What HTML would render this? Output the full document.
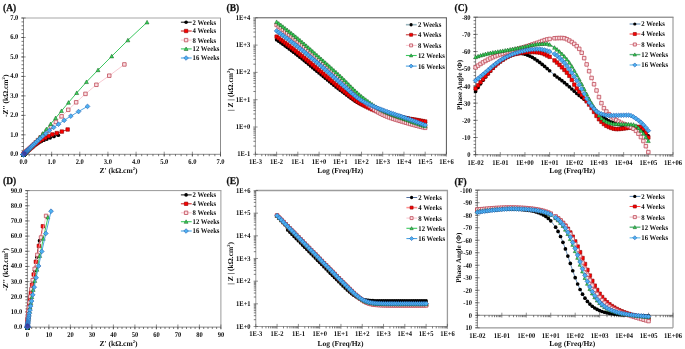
<!DOCTYPE html>
<html lang="en">
<head>
<meta charset="utf-8">
<title>EIS Nyquist and Bode plots</title>
<style>
html,body{margin:0;padding:0;background:#fff;}
body{width:685px;height:349px;overflow:hidden;}
svg{display:block;}
text{text-rendering:geometricPrecision;}
</style>
</head>
<body>
<svg width="685" height="349" viewBox="0 0 685 349" font-family='"Liberation Serif", "DejaVu Serif", serif' font-weight="bold" font-size="100" fill="#111">
<!-- panel A -->
<path d="M23.5 18H221" stroke="#c4c4c4" stroke-width="1.6"/>
<path d="M220.5 18V154.3" stroke="#8c8c8c" stroke-width="1"/>
<path d="M23.5 18V154.3M23.5 154.3H220.5" stroke="#3a3a3a" stroke-width="0.6" fill="none"/>
<path d="M23.5 151.7V156.6M51.64 151.7V156.6M79.79 151.7V156.6M107.93 151.7V156.6M136.07 151.7V156.6M164.21 151.7V156.6M192.36 151.7V156.6M220.5 151.7V156.6M21.3 154.3H25.7M21.3 134.83H25.7M21.3 115.36H25.7M21.3 95.89H25.7M21.3 76.41H25.7M21.3 56.94H25.7M21.3 37.47H25.7M21.3 18H25.7" stroke="#4a4a4a" stroke-width="0.6" fill="none"/>
<path d="M23.5 154.3V156.2M29.13 154.3V156.2M34.76 154.3V156.2M40.39 154.3V156.2M46.01 154.3V156.2M51.64 154.3V156.2M57.27 154.3V156.2M62.9 154.3V156.2M68.53 154.3V156.2M74.16 154.3V156.2M79.79 154.3V156.2M85.41 154.3V156.2M91.04 154.3V156.2M96.67 154.3V156.2M102.3 154.3V156.2M107.93 154.3V156.2M113.56 154.3V156.2M119.19 154.3V156.2M124.81 154.3V156.2M130.44 154.3V156.2M136.07 154.3V156.2M141.7 154.3V156.2M147.33 154.3V156.2M152.96 154.3V156.2M158.59 154.3V156.2M164.21 154.3V156.2M169.84 154.3V156.2M175.47 154.3V156.2M181.1 154.3V156.2M186.73 154.3V156.2M192.36 154.3V156.2M197.99 154.3V156.2M203.61 154.3V156.2M209.24 154.3V156.2M214.87 154.3V156.2M220.5 154.3V156.2M21.5 154.3H23.5M21.5 150.41H23.5M21.5 146.51H23.5M21.5 142.62H23.5M21.5 138.72H23.5M21.5 134.83H23.5M21.5 130.93H23.5M21.5 127.04H23.5M21.5 123.15H23.5M21.5 119.25H23.5M21.5 115.36H23.5M21.5 111.46H23.5M21.5 107.57H23.5M21.5 103.67H23.5M21.5 99.78H23.5M21.5 95.89H23.5M21.5 91.99H23.5M21.5 88.1H23.5M21.5 84.2H23.5M21.5 80.31H23.5M21.5 76.41H23.5M21.5 72.52H23.5M21.5 68.63H23.5M21.5 64.73H23.5M21.5 60.84H23.5M21.5 56.94H23.5M21.5 53.05H23.5M21.5 49.15H23.5M21.5 45.26H23.5M21.5 41.37H23.5M21.5 37.47H23.5M21.5 33.58H23.5M21.5 29.68H23.5M21.5 25.79H23.5M21.5 21.89H23.5M21.5 18H23.5" stroke="#222" stroke-width="0.6" fill="none"/>
<text transform="translate(23.5 164.1) scale(0.065 0.0728)" text-anchor="middle">0.0</text>
<text transform="translate(51.64 164.1) scale(0.065 0.0728)" text-anchor="middle">1.0</text>
<text transform="translate(79.79 164.1) scale(0.065 0.0728)" text-anchor="middle">2.0</text>
<text transform="translate(107.93 164.1) scale(0.065 0.0728)" text-anchor="middle">3.0</text>
<text transform="translate(136.07 164.1) scale(0.065 0.0728)" text-anchor="middle">4.0</text>
<text transform="translate(164.21 164.1) scale(0.065 0.0728)" text-anchor="middle">5.0</text>
<text transform="translate(192.36 164.1) scale(0.065 0.0728)" text-anchor="middle">6.0</text>
<text transform="translate(220.5 164.1) scale(0.065 0.0728)" text-anchor="middle">7.0</text>
<text transform="translate(18.3 156.26) scale(0.065 0.0728)" text-anchor="end">0.0</text>
<text transform="translate(18.3 136.79) scale(0.065 0.0728)" text-anchor="end">1.0</text>
<text transform="translate(18.3 117.32) scale(0.065 0.0728)" text-anchor="end">2.0</text>
<text transform="translate(18.3 97.85) scale(0.065 0.0728)" text-anchor="end">3.0</text>
<text transform="translate(18.3 78.37) scale(0.065 0.0728)" text-anchor="end">4.0</text>
<text transform="translate(18.3 58.9) scale(0.065 0.0728)" text-anchor="end">5.0</text>
<text transform="translate(18.3 39.43) scale(0.065 0.0728)" text-anchor="end">6.0</text>
<text transform="translate(18.3 19.96) scale(0.065 0.0728)" text-anchor="end">7.0</text>
<polyline points="58.31,135.22 53.96,136.45 50.15,137.82 46.82,139.1 43.91,140.24 41.36,141.36 39.12,142.51 37.17,143.69 35.46,144.81 33.97,145.85 32.66,146.78 31.51,147.6 30.51,148.35 29.64,149.03 28.87,149.65 28.2,150.19 27.61,150.68 27.1,151.11 26.65,151.49 26.25,151.82 25.91,152.12 25.61,152.38 25.34,152.61 25.11,152.82 24.91,153 24.74,153.16 24.58,153.3 24.45,153.42 24.33,153.53 24.22,153.63 24.13,153.71 24.05,153.78 23.99,153.85 23.92,153.9 23.87,153.95 23.83,154 23.78,154.03 23.75,154.07 23.72,154.1 23.69,154.12 23.67,154.14 23.65,154.16 23.63,154.18 23.61,154.2 23.6,154.21 23.59,154.22 23.57,154.23 23.57,154.24 23.56,154.25 23.55,154.25 23.54,154.26 23.54,154.26 23.53,154.27 23.53,154.27 23.53,154.28 23.52,154.28 23.52,154.28 23.52,154.28 23.52,154.29 23.51,154.29 23.51,154.29 23.51,154.29 23.51,154.29 23.51,154.29 23.51,154.29 23.51,154.29 23.51,154.3 23.5,154.3 23.5,154.3 23.5,154.3 23.5,154.3" fill="none" stroke="#111111" stroke-width="0.9"/>
<g fill="#000000"><path d="M56.46 135.22a1.85 1.85 0 1 0 3.7 0a1.85 1.85 0 1 0 -3.7 0z"/><path d="M52.11 136.45a1.85 1.85 0 1 0 3.7 0a1.85 1.85 0 1 0 -3.7 0z"/><path d="M48.3 137.82a1.85 1.85 0 1 0 3.7 0a1.85 1.85 0 1 0 -3.7 0z"/><path d="M44.97 139.1a1.85 1.85 0 1 0 3.7 0a1.85 1.85 0 1 0 -3.7 0z"/><path d="M42.05 140.24a1.85 1.85 0 1 0 3.7 0a1.85 1.85 0 1 0 -3.7 0z"/><path d="M39.5 141.36a1.85 1.85 0 1 0 3.7 0a1.85 1.85 0 1 0 -3.7 0z"/><path d="M37.27 142.51a1.85 1.85 0 1 0 3.7 0a1.85 1.85 0 1 0 -3.7 0z"/><path d="M35.32 143.69a1.85 1.85 0 1 0 3.7 0a1.85 1.85 0 1 0 -3.7 0z"/><path d="M33.61 144.81a1.85 1.85 0 1 0 3.7 0a1.85 1.85 0 1 0 -3.7 0z"/><path d="M32.11 145.85a1.85 1.85 0 1 0 3.7 0a1.85 1.85 0 1 0 -3.7 0z"/><path d="M30.81 146.78a1.85 1.85 0 1 0 3.7 0a1.85 1.85 0 1 0 -3.7 0z"/><path d="M29.66 147.6a1.85 1.85 0 1 0 3.7 0a1.85 1.85 0 1 0 -3.7 0z"/><path d="M28.66 148.35a1.85 1.85 0 1 0 3.7 0a1.85 1.85 0 1 0 -3.7 0z"/><path d="M27.78 149.03a1.85 1.85 0 1 0 3.7 0a1.85 1.85 0 1 0 -3.7 0z"/><path d="M27.02 149.65a1.85 1.85 0 1 0 3.7 0a1.85 1.85 0 1 0 -3.7 0z"/><path d="M26.34 150.19a1.85 1.85 0 1 0 3.7 0a1.85 1.85 0 1 0 -3.7 0z"/><path d="M25.76 150.68a1.85 1.85 0 1 0 3.7 0a1.85 1.85 0 1 0 -3.7 0z"/><path d="M25.24 151.11a1.85 1.85 0 1 0 3.7 0a1.85 1.85 0 1 0 -3.7 0z"/><path d="M24.79 151.49a1.85 1.85 0 1 0 3.7 0a1.85 1.85 0 1 0 -3.7 0z"/><path d="M24.4 151.82a1.85 1.85 0 1 0 3.7 0a1.85 1.85 0 1 0 -3.7 0z"/><path d="M24.06 152.12a1.85 1.85 0 1 0 3.7 0a1.85 1.85 0 1 0 -3.7 0z"/><path d="M23.76 152.38a1.85 1.85 0 1 0 3.7 0a1.85 1.85 0 1 0 -3.7 0z"/><path d="M23.49 152.61a1.85 1.85 0 1 0 3.7 0a1.85 1.85 0 1 0 -3.7 0z"/><path d="M23.26 152.82a1.85 1.85 0 1 0 3.7 0a1.85 1.85 0 1 0 -3.7 0z"/><path d="M23.06 153a1.85 1.85 0 1 0 3.7 0a1.85 1.85 0 1 0 -3.7 0z"/><path d="M22.88 153.16a1.85 1.85 0 1 0 3.7 0a1.85 1.85 0 1 0 -3.7 0z"/><path d="M22.73 153.3a1.85 1.85 0 1 0 3.7 0a1.85 1.85 0 1 0 -3.7 0z"/><path d="M22.59 153.42a1.85 1.85 0 1 0 3.7 0a1.85 1.85 0 1 0 -3.7 0z"/><path d="M22.48 153.53a1.85 1.85 0 1 0 3.7 0a1.85 1.85 0 1 0 -3.7 0z"/><path d="M22.37 153.63a1.85 1.85 0 1 0 3.7 0a1.85 1.85 0 1 0 -3.7 0z"/><path d="M22.28 153.71a1.85 1.85 0 1 0 3.7 0a1.85 1.85 0 1 0 -3.7 0z"/><path d="M22.2 153.78a1.85 1.85 0 1 0 3.7 0a1.85 1.85 0 1 0 -3.7 0z"/><path d="M22.13 153.85a1.85 1.85 0 1 0 3.7 0a1.85 1.85 0 1 0 -3.7 0z"/><path d="M22.07 153.9a1.85 1.85 0 1 0 3.7 0a1.85 1.85 0 1 0 -3.7 0z"/><path d="M22.02 153.95a1.85 1.85 0 1 0 3.7 0a1.85 1.85 0 1 0 -3.7 0z"/><path d="M21.97 154a1.85 1.85 0 1 0 3.7 0a1.85 1.85 0 1 0 -3.7 0z"/><path d="M21.93 154.03a1.85 1.85 0 1 0 3.7 0a1.85 1.85 0 1 0 -3.7 0z"/><path d="M21.9 154.07a1.85 1.85 0 1 0 3.7 0a1.85 1.85 0 1 0 -3.7 0z"/><path d="M21.87 154.1a1.85 1.85 0 1 0 3.7 0a1.85 1.85 0 1 0 -3.7 0z"/><path d="M21.84 154.12a1.85 1.85 0 1 0 3.7 0a1.85 1.85 0 1 0 -3.7 0z"/><path d="M21.81 154.14a1.85 1.85 0 1 0 3.7 0a1.85 1.85 0 1 0 -3.7 0z"/><path d="M21.79 154.16a1.85 1.85 0 1 0 3.7 0a1.85 1.85 0 1 0 -3.7 0z"/><path d="M21.78 154.18a1.85 1.85 0 1 0 3.7 0a1.85 1.85 0 1 0 -3.7 0z"/><path d="M21.76 154.2a1.85 1.85 0 1 0 3.7 0a1.85 1.85 0 1 0 -3.7 0z"/><path d="M21.75 154.21a1.85 1.85 0 1 0 3.7 0a1.85 1.85 0 1 0 -3.7 0z"/><path d="M21.73 154.22a1.85 1.85 0 1 0 3.7 0a1.85 1.85 0 1 0 -3.7 0z"/><path d="M21.72 154.23a1.85 1.85 0 1 0 3.7 0a1.85 1.85 0 1 0 -3.7 0z"/><path d="M21.71 154.24a1.85 1.85 0 1 0 3.7 0a1.85 1.85 0 1 0 -3.7 0z"/><path d="M21.7 154.25a1.85 1.85 0 1 0 3.7 0a1.85 1.85 0 1 0 -3.7 0z"/><path d="M21.7 154.25a1.85 1.85 0 1 0 3.7 0a1.85 1.85 0 1 0 -3.7 0z"/><path d="M21.69 154.26a1.85 1.85 0 1 0 3.7 0a1.85 1.85 0 1 0 -3.7 0z"/><path d="M21.69 154.26a1.85 1.85 0 1 0 3.7 0a1.85 1.85 0 1 0 -3.7 0z"/><path d="M21.68 154.27a1.85 1.85 0 1 0 3.7 0a1.85 1.85 0 1 0 -3.7 0z"/><path d="M21.68 154.27a1.85 1.85 0 1 0 3.7 0a1.85 1.85 0 1 0 -3.7 0z"/><path d="M21.67 154.28a1.85 1.85 0 1 0 3.7 0a1.85 1.85 0 1 0 -3.7 0z"/><path d="M21.67 154.28a1.85 1.85 0 1 0 3.7 0a1.85 1.85 0 1 0 -3.7 0z"/><path d="M21.67 154.28a1.85 1.85 0 1 0 3.7 0a1.85 1.85 0 1 0 -3.7 0z"/><path d="M21.66 154.28a1.85 1.85 0 1 0 3.7 0a1.85 1.85 0 1 0 -3.7 0z"/><path d="M21.66 154.29a1.85 1.85 0 1 0 3.7 0a1.85 1.85 0 1 0 -3.7 0z"/><path d="M21.66 154.29a1.85 1.85 0 1 0 3.7 0a1.85 1.85 0 1 0 -3.7 0z"/><path d="M21.66 154.29a1.85 1.85 0 1 0 3.7 0a1.85 1.85 0 1 0 -3.7 0z"/><path d="M21.66 154.29a1.85 1.85 0 1 0 3.7 0a1.85 1.85 0 1 0 -3.7 0z"/><path d="M21.66 154.29a1.85 1.85 0 1 0 3.7 0a1.85 1.85 0 1 0 -3.7 0z"/><path d="M21.66 154.29a1.85 1.85 0 1 0 3.7 0a1.85 1.85 0 1 0 -3.7 0z"/><path d="M21.65 154.29a1.85 1.85 0 1 0 3.7 0a1.85 1.85 0 1 0 -3.7 0z"/><path d="M21.65 154.29a1.85 1.85 0 1 0 3.7 0a1.85 1.85 0 1 0 -3.7 0z"/><path d="M21.65 154.3a1.85 1.85 0 1 0 3.7 0a1.85 1.85 0 1 0 -3.7 0z"/><path d="M21.65 154.3a1.85 1.85 0 1 0 3.7 0a1.85 1.85 0 1 0 -3.7 0z"/><path d="M21.65 154.3a1.85 1.85 0 1 0 3.7 0a1.85 1.85 0 1 0 -3.7 0z"/><path d="M21.65 154.3a1.85 1.85 0 1 0 3.7 0a1.85 1.85 0 1 0 -3.7 0z"/><path d="M21.65 154.3a1.85 1.85 0 1 0 3.7 0a1.85 1.85 0 1 0 -3.7 0z"/></g>
<polyline points="67.66,129.49 61.83,131.59 56.77,133.08 52.38,134.42 48.57,136.05 45.26,137.77 42.38,139.44 39.89,140.99 37.73,142.51 35.85,143.95 34.22,145.26 32.8,146.4 31.58,147.39 30.51,148.25 29.59,149 28.78,149.67 28.08,150.26 27.48,150.77 26.95,151.22 26.5,151.61 26.1,151.95 25.76,152.25 25.46,152.52 25.2,152.75 24.98,152.95 24.78,153.13 24.61,153.28 24.47,153.41 24.34,153.53 24.23,153.63 24.13,153.72 24.05,153.8 23.98,153.86 23.91,153.92 23.86,153.97 23.81,154.01 23.77,154.05 23.73,154.08 23.7,154.11 23.68,154.14 23.65,154.16 23.63,154.18 23.62,154.19 23.6,154.21 23.59,154.22 23.58,154.23 23.57,154.24 23.56,154.25 23.55,154.25 23.54,154.26 23.54,154.27 23.53,154.27 23.53,154.27 23.52,154.28 23.52,154.28 23.52,154.28 23.52,154.29 23.51,154.29 23.51,154.29 23.51,154.29 23.51,154.29 23.51,154.29 23.51,154.29 23.51,154.29 23.51,154.3 23.5,154.3 23.5,154.3 23.5,154.3 23.5,154.3 23.5,154.3 23.5,154.3" fill="none" stroke="#c81010" stroke-width="0.9"/>
<g fill="#ff0000" stroke="#8a0000" stroke-width="0.6"><path d="M65.9 127.74h3.51v3.51h-3.51z"/><path d="M60.07 129.84h3.51v3.51h-3.51z"/><path d="M55.01 131.33h3.51v3.51h-3.51z"/><path d="M50.62 132.67h3.51v3.51h-3.51z"/><path d="M46.81 134.29h3.51v3.51h-3.51z"/><path d="M43.5 136.01h3.51v3.51h-3.51z"/><path d="M40.63 137.68h3.51v3.51h-3.51z"/><path d="M38.14 139.23h3.51v3.51h-3.51z"/><path d="M35.97 140.75h3.51v3.51h-3.51z"/><path d="M34.1 142.2h3.51v3.51h-3.51z"/><path d="M32.46 143.5h3.51v3.51h-3.51z"/><path d="M31.05 144.65h3.51v3.51h-3.51z"/><path d="M29.82 145.63h3.51v3.51h-3.51z"/><path d="M28.76 146.49h3.51v3.51h-3.51z"/><path d="M27.83 147.25h3.51v3.51h-3.51z"/><path d="M27.03 147.92h3.51v3.51h-3.51z"/><path d="M26.33 148.5h3.51v3.51h-3.51z"/><path d="M25.72 149.01h3.51v3.51h-3.51z"/><path d="M25.2 149.46h3.51v3.51h-3.51z"/><path d="M24.74 149.85h3.51v3.51h-3.51z"/><path d="M24.35 150.2h3.51v3.51h-3.51z"/><path d="M24 150.5h3.51v3.51h-3.51z"/><path d="M23.71 150.76h3.51v3.51h-3.51z"/><path d="M23.45 151h3.51v3.51h-3.51z"/><path d="M23.22 151.2h3.51v3.51h-3.51z"/><path d="M23.03 151.37h3.51v3.51h-3.51z"/><path d="M22.86 151.53h3.51v3.51h-3.51z"/><path d="M22.71 151.66h3.51v3.51h-3.51z"/><path d="M22.58 151.78h3.51v3.51h-3.51z"/><path d="M22.47 151.88h3.51v3.51h-3.51z"/><path d="M22.38 151.96h3.51v3.51h-3.51z"/><path d="M22.29 152.04h3.51v3.51h-3.51z"/><path d="M22.22 152.11h3.51v3.51h-3.51z"/><path d="M22.16 152.16h3.51v3.51h-3.51z"/><path d="M22.1 152.21h3.51v3.51h-3.51z"/><path d="M22.06 152.26h3.51v3.51h-3.51z"/><path d="M22.02 152.3h3.51v3.51h-3.51z"/><path d="M21.98 152.33h3.51v3.51h-3.51z"/><path d="M21.95 152.36h3.51v3.51h-3.51z"/><path d="M21.92 152.38h3.51v3.51h-3.51z"/><path d="M21.9 152.4h3.51v3.51h-3.51z"/><path d="M21.88 152.42h3.51v3.51h-3.51z"/><path d="M21.86 152.44h3.51v3.51h-3.51z"/><path d="M21.85 152.45h3.51v3.51h-3.51z"/><path d="M21.83 152.46h3.51v3.51h-3.51z"/><path d="M21.82 152.48h3.51v3.51h-3.51z"/><path d="M21.81 152.48h3.51v3.51h-3.51z"/><path d="M21.8 152.49h3.51v3.51h-3.51z"/><path d="M21.79 152.5h3.51v3.51h-3.51z"/><path d="M21.79 152.51h3.51v3.51h-3.51z"/><path d="M21.78 152.51h3.51v3.51h-3.51z"/><path d="M21.78 152.52h3.51v3.51h-3.51z"/><path d="M21.77 152.52h3.51v3.51h-3.51z"/><path d="M21.77 152.52h3.51v3.51h-3.51z"/><path d="M21.77 152.53h3.51v3.51h-3.51z"/><path d="M21.76 152.53h3.51v3.51h-3.51z"/><path d="M21.76 152.53h3.51v3.51h-3.51z"/><path d="M21.76 152.53h3.51v3.51h-3.51z"/><path d="M21.76 152.53h3.51v3.51h-3.51z"/><path d="M21.76 152.54h3.51v3.51h-3.51z"/><path d="M21.75 152.54h3.51v3.51h-3.51z"/><path d="M21.75 152.54h3.51v3.51h-3.51z"/><path d="M21.75 152.54h3.51v3.51h-3.51z"/><path d="M21.75 152.54h3.51v3.51h-3.51z"/><path d="M21.75 152.54h3.51v3.51h-3.51z"/><path d="M21.75 152.54h3.51v3.51h-3.51z"/><path d="M21.75 152.54h3.51v3.51h-3.51z"/><path d="M21.75 152.54h3.51v3.51h-3.51z"/><path d="M21.75 152.54h3.51v3.51h-3.51z"/><path d="M21.75 152.54h3.51v3.51h-3.51z"/><path d="M21.75 152.54h3.51v3.51h-3.51z"/></g>
<polyline points="124.39,64.44 109.26,75.7 96.39,84.78 85.46,93.88 76.17,102.3 68.27,109.81 61.55,116.35 55.84,121.95 50.99,126.71 46.87,130.88 43.36,134.5 40.38,137.56 37.85,140.14 35.7,142.34 33.87,144.2 32.31,145.75 30.99,147.06 29.87,148.15 28.91,149.07 28.1,149.85 27.41,150.52 26.82,151.08 26.33,151.56 25.9,151.97 25.54,152.32 25.24,152.62 24.97,152.87 24.75,153.09 24.57,153.27 24.41,153.42 24.27,153.55 24.15,153.67 24.06,153.76 23.97,153.84 23.9,153.91 23.84,153.97 23.79,154.02 23.75,154.06 23.71,154.1 23.68,154.13 23.65,154.15 23.63,154.18 23.61,154.19 23.59,154.21 23.58,154.22 23.57,154.23 23.56,154.24 23.55,154.25 23.54,154.26 23.54,154.27 23.53,154.27 23.53,154.28 23.52,154.28 23.52,154.28 23.52,154.28 23.51,154.29 23.51,154.29 23.51,154.29 23.51,154.29 23.51,154.29 23.51,154.29 23.5,154.3 23.5,154.3 23.5,154.3 23.5,154.3 23.5,154.3 23.5,154.3 23.5,154.3 23.5,154.3 23.5,154.3 23.5,154.3" fill="none" stroke="#f6bcc6" stroke-width="0.8"/>
<g fill="#fbe0e4" stroke="#bf4a58" stroke-width="0.8"><path d="M122.64 62.68h3.51v3.51h-3.51z"/><path d="M107.5 73.94h3.51v3.51h-3.51z"/><path d="M94.64 83.03h3.51v3.51h-3.51z"/><path d="M83.71 92.12h3.51v3.51h-3.51z"/><path d="M74.41 100.55h3.51v3.51h-3.51z"/><path d="M66.51 108.06h3.51v3.51h-3.51z"/><path d="M59.8 114.59h3.51v3.51h-3.51z"/><path d="M54.09 120.19h3.51v3.51h-3.51z"/><path d="M49.24 124.95h3.51v3.51h-3.51z"/><path d="M45.11 129.12h3.51v3.51h-3.51z"/><path d="M41.61 132.74h3.51v3.51h-3.51z"/><path d="M38.63 135.8h3.51v3.51h-3.51z"/><path d="M36.1 138.39h3.51v3.51h-3.51z"/><path d="M33.94 140.59h3.51v3.51h-3.51z"/><path d="M32.11 142.44h3.51v3.51h-3.51z"/><path d="M30.56 144h3.51v3.51h-3.51z"/><path d="M29.24 145.3h3.51v3.51h-3.51z"/><path d="M28.11 146.39h3.51v3.51h-3.51z"/><path d="M27.16 147.32h3.51v3.51h-3.51z"/><path d="M26.35 148.1h3.51v3.51h-3.51z"/><path d="M25.66 148.76h3.51v3.51h-3.51z"/><path d="M25.07 149.33h3.51v3.51h-3.51z"/><path d="M24.57 149.81h3.51v3.51h-3.51z"/><path d="M24.15 150.22h3.51v3.51h-3.51z"/><path d="M23.79 150.57h3.51v3.51h-3.51z"/><path d="M23.48 150.86h3.51v3.51h-3.51z"/><path d="M23.22 151.12h3.51v3.51h-3.51z"/><path d="M23 151.33h3.51v3.51h-3.51z"/><path d="M22.81 151.51h3.51v3.51h-3.51z"/><path d="M22.65 151.67h3.51v3.51h-3.51z"/><path d="M22.51 151.8h3.51v3.51h-3.51z"/><path d="M22.4 151.91h3.51v3.51h-3.51z"/><path d="M22.3 152.01h3.51v3.51h-3.51z"/><path d="M22.22 152.09h3.51v3.51h-3.51z"/><path d="M22.15 152.16h3.51v3.51h-3.51z"/><path d="M22.09 152.21h3.51v3.51h-3.51z"/><path d="M22.04 152.26h3.51v3.51h-3.51z"/><path d="M21.99 152.31h3.51v3.51h-3.51z"/><path d="M21.95 152.34h3.51v3.51h-3.51z"/><path d="M21.92 152.37h3.51v3.51h-3.51z"/><path d="M21.9 152.4h3.51v3.51h-3.51z"/><path d="M21.87 152.42h3.51v3.51h-3.51z"/><path d="M21.85 152.44h3.51v3.51h-3.51z"/><path d="M21.84 152.45h3.51v3.51h-3.51z"/><path d="M21.82 152.47h3.51v3.51h-3.51z"/><path d="M21.81 152.48h3.51v3.51h-3.51z"/><path d="M21.8 152.49h3.51v3.51h-3.51z"/><path d="M21.79 152.5h3.51v3.51h-3.51z"/><path d="M21.79 152.5h3.51v3.51h-3.51z"/><path d="M21.78 152.51h3.51v3.51h-3.51z"/><path d="M21.77 152.52h3.51v3.51h-3.51z"/><path d="M21.77 152.52h3.51v3.51h-3.51z"/><path d="M21.77 152.52h3.51v3.51h-3.51z"/><path d="M21.76 152.53h3.51v3.51h-3.51z"/><path d="M21.76 152.53h3.51v3.51h-3.51z"/><path d="M21.76 152.53h3.51v3.51h-3.51z"/><path d="M21.76 152.53h3.51v3.51h-3.51z"/><path d="M21.75 152.54h3.51v3.51h-3.51z"/><path d="M21.75 152.54h3.51v3.51h-3.51z"/><path d="M21.75 152.54h3.51v3.51h-3.51z"/><path d="M21.75 152.54h3.51v3.51h-3.51z"/><path d="M21.75 152.54h3.51v3.51h-3.51z"/><path d="M21.75 152.54h3.51v3.51h-3.51z"/><path d="M21.75 152.54h3.51v3.51h-3.51z"/><path d="M21.75 152.54h3.51v3.51h-3.51z"/><path d="M21.75 152.54h3.51v3.51h-3.51z"/><path d="M21.75 152.54h3.51v3.51h-3.51z"/><path d="M21.75 152.54h3.51v3.51h-3.51z"/><path d="M21.75 152.54h3.51v3.51h-3.51z"/><path d="M21.75 152.54h3.51v3.51h-3.51z"/><path d="M21.75 152.54h3.51v3.51h-3.51z"/></g>
<polyline points="147.05,22.28 127.9,40.21 111.72,56.23 98.04,70.03 86.49,81.92 76.73,92.88 68.48,102.56 61.5,110.91 55.61,118 50.64,123.97 46.43,129.12 42.88,133.45 39.87,136.98 37.33,139.85 35.19,142.22 33.38,144.19 31.85,145.83 30.55,147.21 29.46,148.36 28.54,149.32 27.76,150.12 27.1,150.79 26.54,151.35 26.07,151.82 25.67,152.21 25.33,152.54 25.05,152.82 24.81,153.05 24.61,153.25 24.43,153.41 24.29,153.55 24.17,153.67 24.06,153.76 23.98,153.85 23.9,153.92 23.84,153.98 23.79,154.03 23.74,154.07 23.71,154.11 23.67,154.14 23.65,154.16 23.62,154.18 23.6,154.2 23.59,154.22 23.57,154.23 23.56,154.24 23.55,154.25 23.55,154.26 23.54,154.26 23.53,154.27 23.53,154.27 23.52,154.28 23.52,154.28 23.52,154.28 23.51,154.29 23.51,154.29 23.51,154.29 23.51,154.29 23.51,154.29 23.51,154.29 23.51,154.3 23.5,154.3 23.5,154.3 23.5,154.3 23.5,154.3 23.5,154.3 23.5,154.3 23.5,154.3 23.5,154.3 23.5,154.3 23.5,154.3" fill="none" stroke="#3cc860" stroke-width="1"/>
<g fill="#36d85a" stroke="#17521f" stroke-width="0.5"><path d="M147.05 20.33l1.95 3.61h-3.9z"/><path d="M127.9 38.26l1.95 3.61h-3.9z"/><path d="M111.72 54.28l1.95 3.61h-3.9z"/><path d="M98.04 68.08l1.95 3.61h-3.9z"/><path d="M86.49 79.97l1.95 3.61h-3.9z"/><path d="M76.73 90.93l1.95 3.61h-3.9z"/><path d="M68.48 100.61l1.95 3.61h-3.9z"/><path d="M61.5 108.96l1.95 3.61h-3.9z"/><path d="M55.61 116.05l1.95 3.61h-3.9z"/><path d="M50.64 122.02l1.95 3.61h-3.9z"/><path d="M46.43 127.17l1.95 3.61h-3.9z"/><path d="M42.88 131.5l1.95 3.61h-3.9z"/><path d="M39.87 135.03l1.95 3.61h-3.9z"/><path d="M37.33 137.9l1.95 3.61h-3.9z"/><path d="M35.19 140.27l1.95 3.61h-3.9z"/><path d="M33.38 142.24l1.95 3.61h-3.9z"/><path d="M31.85 143.88l1.95 3.61h-3.9z"/><path d="M30.55 145.26l1.95 3.61h-3.9z"/><path d="M29.46 146.41l1.95 3.61h-3.9z"/><path d="M28.54 147.37l1.95 3.61h-3.9z"/><path d="M27.76 148.17l1.95 3.61h-3.9z"/><path d="M27.1 148.84l1.95 3.61h-3.9z"/><path d="M26.54 149.4l1.95 3.61h-3.9z"/><path d="M26.07 149.87l1.95 3.61h-3.9z"/><path d="M25.67 150.26l1.95 3.61h-3.9z"/><path d="M25.33 150.59l1.95 3.61h-3.9z"/><path d="M25.05 150.87l1.95 3.61h-3.9z"/><path d="M24.81 151.1l1.95 3.61h-3.9z"/><path d="M24.61 151.3l1.95 3.61h-3.9z"/><path d="M24.43 151.46l1.95 3.61h-3.9z"/><path d="M24.29 151.6l1.95 3.61h-3.9z"/><path d="M24.17 151.72l1.95 3.61h-3.9z"/><path d="M24.06 151.81l1.95 3.61h-3.9z"/><path d="M23.98 151.9l1.95 3.61h-3.9z"/><path d="M23.9 151.97l1.95 3.61h-3.9z"/><path d="M23.84 152.03l1.95 3.61h-3.9z"/><path d="M23.79 152.08l1.95 3.61h-3.9z"/><path d="M23.74 152.12l1.95 3.61h-3.9z"/><path d="M23.71 152.16l1.95 3.61h-3.9z"/><path d="M23.67 152.19l1.95 3.61h-3.9z"/><path d="M23.65 152.21l1.95 3.61h-3.9z"/><path d="M23.62 152.23l1.95 3.61h-3.9z"/><path d="M23.6 152.25l1.95 3.61h-3.9z"/><path d="M23.59 152.27l1.95 3.61h-3.9z"/><path d="M23.57 152.28l1.95 3.61h-3.9z"/><path d="M23.56 152.29l1.95 3.61h-3.9z"/><path d="M23.55 152.3l1.95 3.61h-3.9z"/><path d="M23.55 152.31l1.95 3.61h-3.9z"/><path d="M23.54 152.31l1.95 3.61h-3.9z"/><path d="M23.53 152.32l1.95 3.61h-3.9z"/><path d="M23.53 152.32l1.95 3.61h-3.9z"/><path d="M23.52 152.33l1.95 3.61h-3.9z"/><path d="M23.52 152.33l1.95 3.61h-3.9z"/><path d="M23.52 152.33l1.95 3.61h-3.9z"/><path d="M23.51 152.34l1.95 3.61h-3.9z"/><path d="M23.51 152.34l1.95 3.61h-3.9z"/><path d="M23.51 152.34l1.95 3.61h-3.9z"/><path d="M23.51 152.34l1.95 3.61h-3.9z"/><path d="M23.51 152.34l1.95 3.61h-3.9z"/><path d="M23.51 152.34l1.95 3.61h-3.9z"/><path d="M23.51 152.35l1.95 3.61h-3.9z"/><path d="M23.5 152.35l1.95 3.61h-3.9z"/><path d="M23.5 152.35l1.95 3.61h-3.9z"/><path d="M23.5 152.35l1.95 3.61h-3.9z"/><path d="M23.5 152.35l1.95 3.61h-3.9z"/><path d="M23.5 152.35l1.95 3.61h-3.9z"/><path d="M23.5 152.35l1.95 3.61h-3.9z"/><path d="M23.5 152.35l1.95 3.61h-3.9z"/><path d="M23.5 152.35l1.95 3.61h-3.9z"/><path d="M23.5 152.35l1.95 3.61h-3.9z"/><path d="M23.5 152.35l1.95 3.61h-3.9z"/></g>
<polyline points="87.5,106.4 78.54,111.53 70.83,116.1 64.21,120.29 58.51,124.18 53.61,127.45 49.39,130.49 45.77,133.5 42.65,136.29 39.97,138.71 37.66,140.8 35.68,142.62 33.97,144.21 32.51,145.59 31.25,146.78 30.16,147.83 29.23,148.73 28.43,149.52 27.74,150.19 27.14,150.77 26.63,151.26 26.2,151.69 25.82,152.05 25.49,152.37 25.21,152.64 24.97,152.87 24.77,153.07 24.59,153.24 24.44,153.39 24.31,153.52 24.19,153.63 24.1,153.72 24.01,153.8 23.94,153.87 23.88,153.93 23.83,153.98 23.78,154.03 23.74,154.07 23.71,154.1 23.68,154.13 23.65,154.15 23.63,154.17 23.61,154.19 23.6,154.21 23.58,154.22 23.57,154.23 23.56,154.24 23.55,154.25 23.55,154.26 23.54,154.26 23.53,154.27 23.53,154.27 23.53,154.28 23.52,154.28 23.52,154.28 23.52,154.28 23.51,154.29 23.51,154.29 23.51,154.29 23.51,154.29 23.51,154.29 23.51,154.29 23.51,154.29 23.5,154.3 23.5,154.3 23.5,154.3 23.5,154.3 23.5,154.3 23.5,154.3 23.5,154.3 23.5,154.3" fill="none" stroke="#3a9be0" stroke-width="0.9"/>
<g fill="#4cb1f2" stroke="#2a5fb0" stroke-width="0.6"><path d="M87.5 104.02l2.38 2.38l-2.38 2.38l-2.38 -2.38z"/><path d="M78.54 109.16l2.38 2.38l-2.38 2.38l-2.38 -2.38z"/><path d="M70.83 113.73l2.38 2.38l-2.38 2.38l-2.38 -2.38z"/><path d="M64.21 117.91l2.38 2.38l-2.38 2.38l-2.38 -2.38z"/><path d="M58.51 121.8l2.38 2.38l-2.38 2.38l-2.38 -2.38z"/><path d="M53.61 125.07l2.38 2.38l-2.38 2.38l-2.38 -2.38z"/><path d="M49.39 128.11l2.38 2.38l-2.38 2.38l-2.38 -2.38z"/><path d="M45.77 131.12l2.38 2.38l-2.38 2.38l-2.38 -2.38z"/><path d="M42.65 133.91l2.38 2.38l-2.38 2.38l-2.38 -2.38z"/><path d="M39.97 136.33l2.38 2.38l-2.38 2.38l-2.38 -2.38z"/><path d="M37.66 138.42l2.38 2.38l-2.38 2.38l-2.38 -2.38z"/><path d="M35.68 140.24l2.38 2.38l-2.38 2.38l-2.38 -2.38z"/><path d="M33.97 141.83l2.38 2.38l-2.38 2.38l-2.38 -2.38z"/><path d="M32.51 143.21l2.38 2.38l-2.38 2.38l-2.38 -2.38z"/><path d="M31.25 144.41l2.38 2.38l-2.38 2.38l-2.38 -2.38z"/><path d="M30.16 145.45l2.38 2.38l-2.38 2.38l-2.38 -2.38z"/><path d="M29.23 146.35l2.38 2.38l-2.38 2.38l-2.38 -2.38z"/><path d="M28.43 147.14l2.38 2.38l-2.38 2.38l-2.38 -2.38z"/><path d="M27.74 147.81l2.38 2.38l-2.38 2.38l-2.38 -2.38z"/><path d="M27.14 148.39l2.38 2.38l-2.38 2.38l-2.38 -2.38z"/><path d="M26.63 148.88l2.38 2.38l-2.38 2.38l-2.38 -2.38z"/><path d="M26.2 149.31l2.38 2.38l-2.38 2.38l-2.38 -2.38z"/><path d="M25.82 149.68l2.38 2.38l-2.38 2.38l-2.38 -2.38z"/><path d="M25.49 149.99l2.38 2.38l-2.38 2.38l-2.38 -2.38z"/><path d="M25.21 150.26l2.38 2.38l-2.38 2.38l-2.38 -2.38z"/><path d="M24.97 150.49l2.38 2.38l-2.38 2.38l-2.38 -2.38z"/><path d="M24.77 150.69l2.38 2.38l-2.38 2.38l-2.38 -2.38z"/><path d="M24.59 150.86l2.38 2.38l-2.38 2.38l-2.38 -2.38z"/><path d="M24.44 151.01l2.38 2.38l-2.38 2.38l-2.38 -2.38z"/><path d="M24.31 151.14l2.38 2.38l-2.38 2.38l-2.38 -2.38z"/><path d="M24.19 151.25l2.38 2.38l-2.38 2.38l-2.38 -2.38z"/><path d="M24.1 151.34l2.38 2.38l-2.38 2.38l-2.38 -2.38z"/><path d="M24.01 151.42l2.38 2.38l-2.38 2.38l-2.38 -2.38z"/><path d="M23.94 151.49l2.38 2.38l-2.38 2.38l-2.38 -2.38z"/><path d="M23.88 151.55l2.38 2.38l-2.38 2.38l-2.38 -2.38z"/><path d="M23.83 151.6l2.38 2.38l-2.38 2.38l-2.38 -2.38z"/><path d="M23.78 151.65l2.38 2.38l-2.38 2.38l-2.38 -2.38z"/><path d="M23.74 151.69l2.38 2.38l-2.38 2.38l-2.38 -2.38z"/><path d="M23.71 151.72l2.38 2.38l-2.38 2.38l-2.38 -2.38z"/><path d="M23.68 151.75l2.38 2.38l-2.38 2.38l-2.38 -2.38z"/><path d="M23.65 151.77l2.38 2.38l-2.38 2.38l-2.38 -2.38z"/><path d="M23.63 151.79l2.38 2.38l-2.38 2.38l-2.38 -2.38z"/><path d="M23.61 151.81l2.38 2.38l-2.38 2.38l-2.38 -2.38z"/><path d="M23.6 151.83l2.38 2.38l-2.38 2.38l-2.38 -2.38z"/><path d="M23.58 151.84l2.38 2.38l-2.38 2.38l-2.38 -2.38z"/><path d="M23.57 151.85l2.38 2.38l-2.38 2.38l-2.38 -2.38z"/><path d="M23.56 151.86l2.38 2.38l-2.38 2.38l-2.38 -2.38z"/><path d="M23.55 151.87l2.38 2.38l-2.38 2.38l-2.38 -2.38z"/><path d="M23.55 151.88l2.38 2.38l-2.38 2.38l-2.38 -2.38z"/><path d="M23.54 151.88l2.38 2.38l-2.38 2.38l-2.38 -2.38z"/><path d="M23.53 151.89l2.38 2.38l-2.38 2.38l-2.38 -2.38z"/><path d="M23.53 151.89l2.38 2.38l-2.38 2.38l-2.38 -2.38z"/><path d="M23.53 151.9l2.38 2.38l-2.38 2.38l-2.38 -2.38z"/><path d="M23.52 151.9l2.38 2.38l-2.38 2.38l-2.38 -2.38z"/><path d="M23.52 151.9l2.38 2.38l-2.38 2.38l-2.38 -2.38z"/><path d="M23.52 151.91l2.38 2.38l-2.38 2.38l-2.38 -2.38z"/><path d="M23.51 151.91l2.38 2.38l-2.38 2.38l-2.38 -2.38z"/><path d="M23.51 151.91l2.38 2.38l-2.38 2.38l-2.38 -2.38z"/><path d="M23.51 151.91l2.38 2.38l-2.38 2.38l-2.38 -2.38z"/><path d="M23.51 151.91l2.38 2.38l-2.38 2.38l-2.38 -2.38z"/><path d="M23.51 151.91l2.38 2.38l-2.38 2.38l-2.38 -2.38z"/><path d="M23.51 151.91l2.38 2.38l-2.38 2.38l-2.38 -2.38z"/><path d="M23.51 151.92l2.38 2.38l-2.38 2.38l-2.38 -2.38z"/><path d="M23.5 151.92l2.38 2.38l-2.38 2.38l-2.38 -2.38z"/><path d="M23.5 151.92l2.38 2.38l-2.38 2.38l-2.38 -2.38z"/><path d="M23.5 151.92l2.38 2.38l-2.38 2.38l-2.38 -2.38z"/><path d="M23.5 151.92l2.38 2.38l-2.38 2.38l-2.38 -2.38z"/><path d="M23.5 151.92l2.38 2.38l-2.38 2.38l-2.38 -2.38z"/><path d="M23.5 151.92l2.38 2.38l-2.38 2.38l-2.38 -2.38z"/><path d="M23.5 151.92l2.38 2.38l-2.38 2.38l-2.38 -2.38z"/><path d="M23.5 151.92l2.38 2.38l-2.38 2.38l-2.38 -2.38z"/></g>
<ellipse cx="24.34" cy="153.72" rx="2.3" ry="2.3" fill="#3b3196" opacity="0.85"/>
<path d="M180.9 22.2H191.7" stroke="#111111" stroke-width="1"/>
<path d="M184.29 22.2a1.8 1.8 0 1 0 3.61 0a1.8 1.8 0 1 0 -3.61 0z" fill="#000000"/>
<text transform="translate(192.6 24.62) scale(0.067 0.0737)">2 Weeks</text>
<path d="M180.9 31H191.7" stroke="#c81010" stroke-width="1"/>
<path d="M184.39 29.29h3.42v3.42h-3.42z" fill="#ff0000" stroke="#8a0000" stroke-width="0.6"/>
<text transform="translate(192.6 33.42) scale(0.067 0.0737)">4 Weeks</text>
<path d="M180.9 40.1H191.7" stroke="#f6bcc6" stroke-width="0.9"/>
<path d="M184.39 38.39h3.42v3.42h-3.42z" fill="#fbe0e4" stroke="#bf4a58" stroke-width="0.8"/>
<text transform="translate(192.6 42.52) scale(0.067 0.0737)">8 Weeks</text>
<path d="M180.9 48.9H191.7" stroke="#3cc860" stroke-width="1.1"/>
<path d="M186.1 47l1.9 3.52h-3.8z" fill="#36d85a" stroke="#17521f" stroke-width="0.5"/>
<text transform="translate(192.6 51.32) scale(0.067 0.0737)">12 Weeks</text>
<path d="M180.9 58H191.7" stroke="#3a9be0" stroke-width="1"/>
<path d="M186.1 55.68l2.32 2.32l-2.32 2.32l-2.32 -2.32z" fill="#4cb1f2" stroke="#2a5fb0" stroke-width="0.6"/>
<text transform="translate(192.6 60.42) scale(0.067 0.0737)">16 Weeks</text>
<text transform="translate(118.5 172.8) scale(0.075 0.075)" text-anchor="middle">Z' (kΩ.cm<tspan dy="-35" font-size="62">2</tspan><tspan dy="35">)</tspan></text>
<text transform="translate(7.7 95.8) rotate(-90) scale(0.075 0.075)" text-anchor="middle">-Z'' (kΩ.cm<tspan dy="-35" font-size="62">2</tspan><tspan dy="35">)</tspan></text>
<text stroke="#111" stroke-width="2.5" transform="translate(3 11.2) scale(0.095 0.1045)">(A)</text>
<!-- panel B -->
<path d="M255.4 17.8H446.9" stroke="#555" stroke-width="1"/>
<path d="M446.4 17.8V154.3" stroke="#555" stroke-width="1"/>
<path d="M255.4 17.8V154.3M255.4 154.3H446.4" stroke="#555" stroke-width="0.6" fill="none"/>
<path d="M255.4 151.7V156.6M276.62 151.7V156.6M297.84 151.7V156.6M319.07 151.7V156.6M340.29 151.7V156.6M361.51 151.7V156.6M382.73 151.7V156.6M403.96 151.7V156.6M425.18 151.7V156.6M446.4 151.7V156.6M253.2 154.3H257.6M253.2 127H257.6M253.2 99.7H257.6M253.2 72.4H257.6M253.2 45.1H257.6M253.2 17.8H257.6" stroke="#4a4a4a" stroke-width="0.6" fill="none"/>
<path d="M261.79 154.3V156.2M265.53 154.3V156.2M268.18 154.3V156.2M270.23 154.3V156.2M271.91 154.3V156.2M273.33 154.3V156.2M274.57 154.3V156.2M275.65 154.3V156.2M283.01 154.3V156.2M286.75 154.3V156.2M289.4 154.3V156.2M291.46 154.3V156.2M293.14 154.3V156.2M294.56 154.3V156.2M295.79 154.3V156.2M296.87 154.3V156.2M304.23 154.3V156.2M307.97 154.3V156.2M310.62 154.3V156.2M312.68 154.3V156.2M314.36 154.3V156.2M315.78 154.3V156.2M317.01 154.3V156.2M318.1 154.3V156.2M325.46 154.3V156.2M329.19 154.3V156.2M331.84 154.3V156.2M333.9 154.3V156.2M335.58 154.3V156.2M337 154.3V156.2M338.23 154.3V156.2M339.32 154.3V156.2M346.68 154.3V156.2M350.41 154.3V156.2M353.07 154.3V156.2M355.12 154.3V156.2M356.8 154.3V156.2M358.22 154.3V156.2M359.45 154.3V156.2M360.54 154.3V156.2M367.9 154.3V156.2M371.64 154.3V156.2M374.29 154.3V156.2M376.34 154.3V156.2M378.03 154.3V156.2M379.45 154.3V156.2M380.68 154.3V156.2M381.76 154.3V156.2M389.12 154.3V156.2M392.86 154.3V156.2M395.51 154.3V156.2M397.57 154.3V156.2M399.25 154.3V156.2M400.67 154.3V156.2M401.9 154.3V156.2M402.98 154.3V156.2M410.34 154.3V156.2M414.08 154.3V156.2M416.73 154.3V156.2M418.79 154.3V156.2M420.47 154.3V156.2M421.89 154.3V156.2M423.12 154.3V156.2M424.21 154.3V156.2M431.57 154.3V156.2M435.3 154.3V156.2M437.95 154.3V156.2M440.01 154.3V156.2M441.69 154.3V156.2M443.11 154.3V156.2M444.34 154.3V156.2M445.43 154.3V156.2M253.4 146.08H255.4M253.4 141.27H255.4M253.4 137.86H255.4M253.4 135.22H255.4M253.4 133.06H255.4M253.4 131.23H255.4M253.4 129.65H255.4M253.4 128.25H255.4M253.4 118.78H255.4M253.4 113.97H255.4M253.4 110.56H255.4M253.4 107.92H255.4M253.4 105.76H255.4M253.4 103.93H255.4M253.4 102.35H255.4M253.4 100.95H255.4M253.4 91.48H255.4M253.4 86.67H255.4M253.4 83.26H255.4M253.4 80.62H255.4M253.4 78.46H255.4M253.4 76.63H255.4M253.4 75.05H255.4M253.4 73.65H255.4M253.4 64.18H255.4M253.4 59.37H255.4M253.4 55.96H255.4M253.4 53.32H255.4M253.4 51.16H255.4M253.4 49.33H255.4M253.4 47.75H255.4M253.4 46.35H255.4M253.4 36.88H255.4M253.4 32.07H255.4M253.4 28.66H255.4M253.4 26.02H255.4M253.4 23.86H255.4M253.4 22.03H255.4M253.4 20.45H255.4M253.4 19.05H255.4" stroke="#222" stroke-width="0.6" fill="none"/>
<text transform="translate(255.4 164.1) scale(0.065 0.0728)" text-anchor="middle">1E-3</text>
<text transform="translate(276.62 164.1) scale(0.065 0.0728)" text-anchor="middle">1E-2</text>
<text transform="translate(297.84 164.1) scale(0.065 0.0728)" text-anchor="middle">1E-1</text>
<text transform="translate(319.07 164.1) scale(0.065 0.0728)" text-anchor="middle">1E+0</text>
<text transform="translate(340.29 164.1) scale(0.065 0.0728)" text-anchor="middle">1E+1</text>
<text transform="translate(361.51 164.1) scale(0.065 0.0728)" text-anchor="middle">1E+2</text>
<text transform="translate(382.73 164.1) scale(0.065 0.0728)" text-anchor="middle">1E+3</text>
<text transform="translate(403.96 164.1) scale(0.065 0.0728)" text-anchor="middle">1E+4</text>
<text transform="translate(425.18 164.1) scale(0.065 0.0728)" text-anchor="middle">1E+5</text>
<text transform="translate(446.4 164.1) scale(0.065 0.0728)" text-anchor="middle">1E+6</text>
<text transform="translate(250.2 156.26) scale(0.065 0.0728)" text-anchor="end">1E-1</text>
<text transform="translate(250.2 128.96) scale(0.065 0.0728)" text-anchor="end">1E+0</text>
<text transform="translate(250.2 101.66) scale(0.065 0.0728)" text-anchor="end">1E+1</text>
<text transform="translate(250.2 74.36) scale(0.065 0.0728)" text-anchor="end">1E+2</text>
<text transform="translate(250.2 47.06) scale(0.065 0.0728)" text-anchor="end">1E+3</text>
<text transform="translate(250.2 19.76) scale(0.065 0.0728)" text-anchor="end">1E+4</text>
<polyline points="276.62,39.64 278.74,41.15 280.87,42.68 282.99,44.22 285.11,45.78 287.23,47.36 289.36,48.95 291.48,50.56 293.6,52.18 295.72,53.82 297.84,55.47 299.97,57.15 302.09,58.86 304.21,60.6 306.33,62.35 308.46,64.12 310.58,65.89 312.7,67.67 314.82,69.44 316.94,71.2 319.07,72.95 321.19,74.69 323.31,76.45 325.43,78.22 327.56,79.99 329.68,81.75 331.8,83.49 333.92,85.21 336.04,86.9 338.17,88.55 340.29,90.15 342.41,91.74 344.53,93.35 346.66,94.97 348.78,96.56 350.9,98.12 353.02,99.62 355.14,101.04 357.27,102.36 359.39,103.56 361.51,104.61 363.63,105.56 365.76,106.44 367.88,107.26 370,108.03 372.12,108.76 374.24,109.45 376.37,110.11 378.49,110.75 380.61,111.37 382.73,111.99 384.86,112.58 386.98,113.14 389.1,113.67 391.22,114.19 393.34,114.69 395.47,115.18 397.59,115.67 399.71,116.16 401.83,116.66 403.96,117.17 406.08,117.69 408.2,118.21 410.32,118.73 412.44,119.25 414.57,119.77 416.69,120.28 418.81,120.8 420.93,121.32 423.06,121.84 425.18,122.36" fill="none" stroke="#9ab6be" stroke-width="1.5"/>
<g fill="#000000"><path d="M274.77 39.64a1.85 1.85 0 1 0 3.7 0a1.85 1.85 0 1 0 -3.7 0z"/><path d="M276.89 41.15a1.85 1.85 0 1 0 3.7 0a1.85 1.85 0 1 0 -3.7 0z"/><path d="M279.01 42.68a1.85 1.85 0 1 0 3.7 0a1.85 1.85 0 1 0 -3.7 0z"/><path d="M281.14 44.22a1.85 1.85 0 1 0 3.7 0a1.85 1.85 0 1 0 -3.7 0z"/><path d="M283.26 45.78a1.85 1.85 0 1 0 3.7 0a1.85 1.85 0 1 0 -3.7 0z"/><path d="M285.38 47.36a1.85 1.85 0 1 0 3.7 0a1.85 1.85 0 1 0 -3.7 0z"/><path d="M287.5 48.95a1.85 1.85 0 1 0 3.7 0a1.85 1.85 0 1 0 -3.7 0z"/><path d="M289.63 50.56a1.85 1.85 0 1 0 3.7 0a1.85 1.85 0 1 0 -3.7 0z"/><path d="M291.75 52.18a1.85 1.85 0 1 0 3.7 0a1.85 1.85 0 1 0 -3.7 0z"/><path d="M293.87 53.82a1.85 1.85 0 1 0 3.7 0a1.85 1.85 0 1 0 -3.7 0z"/><path d="M295.99 55.47a1.85 1.85 0 1 0 3.7 0a1.85 1.85 0 1 0 -3.7 0z"/><path d="M298.11 57.15a1.85 1.85 0 1 0 3.7 0a1.85 1.85 0 1 0 -3.7 0z"/><path d="M300.24 58.86a1.85 1.85 0 1 0 3.7 0a1.85 1.85 0 1 0 -3.7 0z"/><path d="M302.36 60.6a1.85 1.85 0 1 0 3.7 0a1.85 1.85 0 1 0 -3.7 0z"/><path d="M304.48 62.35a1.85 1.85 0 1 0 3.7 0a1.85 1.85 0 1 0 -3.7 0z"/><path d="M306.6 64.12a1.85 1.85 0 1 0 3.7 0a1.85 1.85 0 1 0 -3.7 0z"/><path d="M308.73 65.89a1.85 1.85 0 1 0 3.7 0a1.85 1.85 0 1 0 -3.7 0z"/><path d="M310.85 67.67a1.85 1.85 0 1 0 3.7 0a1.85 1.85 0 1 0 -3.7 0z"/><path d="M312.97 69.44a1.85 1.85 0 1 0 3.7 0a1.85 1.85 0 1 0 -3.7 0z"/><path d="M315.09 71.2a1.85 1.85 0 1 0 3.7 0a1.85 1.85 0 1 0 -3.7 0z"/><path d="M317.21 72.95a1.85 1.85 0 1 0 3.7 0a1.85 1.85 0 1 0 -3.7 0z"/><path d="M319.34 74.69a1.85 1.85 0 1 0 3.7 0a1.85 1.85 0 1 0 -3.7 0z"/><path d="M321.46 76.45a1.85 1.85 0 1 0 3.7 0a1.85 1.85 0 1 0 -3.7 0z"/><path d="M323.58 78.22a1.85 1.85 0 1 0 3.7 0a1.85 1.85 0 1 0 -3.7 0z"/><path d="M325.7 79.99a1.85 1.85 0 1 0 3.7 0a1.85 1.85 0 1 0 -3.7 0z"/><path d="M327.83 81.75a1.85 1.85 0 1 0 3.7 0a1.85 1.85 0 1 0 -3.7 0z"/><path d="M329.95 83.49a1.85 1.85 0 1 0 3.7 0a1.85 1.85 0 1 0 -3.7 0z"/><path d="M332.07 85.21a1.85 1.85 0 1 0 3.7 0a1.85 1.85 0 1 0 -3.7 0z"/><path d="M334.19 86.9a1.85 1.85 0 1 0 3.7 0a1.85 1.85 0 1 0 -3.7 0z"/><path d="M336.31 88.55a1.85 1.85 0 1 0 3.7 0a1.85 1.85 0 1 0 -3.7 0z"/><path d="M338.44 90.15a1.85 1.85 0 1 0 3.7 0a1.85 1.85 0 1 0 -3.7 0z"/><path d="M340.56 91.74a1.85 1.85 0 1 0 3.7 0a1.85 1.85 0 1 0 -3.7 0z"/><path d="M342.68 93.35a1.85 1.85 0 1 0 3.7 0a1.85 1.85 0 1 0 -3.7 0z"/><path d="M344.8 94.97a1.85 1.85 0 1 0 3.7 0a1.85 1.85 0 1 0 -3.7 0z"/><path d="M346.93 96.56a1.85 1.85 0 1 0 3.7 0a1.85 1.85 0 1 0 -3.7 0z"/><path d="M349.05 98.12a1.85 1.85 0 1 0 3.7 0a1.85 1.85 0 1 0 -3.7 0z"/><path d="M351.17 99.62a1.85 1.85 0 1 0 3.7 0a1.85 1.85 0 1 0 -3.7 0z"/><path d="M353.29 101.04a1.85 1.85 0 1 0 3.7 0a1.85 1.85 0 1 0 -3.7 0z"/><path d="M355.41 102.36a1.85 1.85 0 1 0 3.7 0a1.85 1.85 0 1 0 -3.7 0z"/><path d="M357.54 103.56a1.85 1.85 0 1 0 3.7 0a1.85 1.85 0 1 0 -3.7 0z"/><path d="M359.66 104.61a1.85 1.85 0 1 0 3.7 0a1.85 1.85 0 1 0 -3.7 0z"/><path d="M361.78 105.56a1.85 1.85 0 1 0 3.7 0a1.85 1.85 0 1 0 -3.7 0z"/><path d="M363.9 106.44a1.85 1.85 0 1 0 3.7 0a1.85 1.85 0 1 0 -3.7 0z"/><path d="M366.03 107.26a1.85 1.85 0 1 0 3.7 0a1.85 1.85 0 1 0 -3.7 0z"/><path d="M368.15 108.03a1.85 1.85 0 1 0 3.7 0a1.85 1.85 0 1 0 -3.7 0z"/><path d="M370.27 108.76a1.85 1.85 0 1 0 3.7 0a1.85 1.85 0 1 0 -3.7 0z"/><path d="M372.39 109.45a1.85 1.85 0 1 0 3.7 0a1.85 1.85 0 1 0 -3.7 0z"/><path d="M374.51 110.11a1.85 1.85 0 1 0 3.7 0a1.85 1.85 0 1 0 -3.7 0z"/><path d="M376.64 110.75a1.85 1.85 0 1 0 3.7 0a1.85 1.85 0 1 0 -3.7 0z"/><path d="M378.76 111.37a1.85 1.85 0 1 0 3.7 0a1.85 1.85 0 1 0 -3.7 0z"/><path d="M380.88 111.99a1.85 1.85 0 1 0 3.7 0a1.85 1.85 0 1 0 -3.7 0z"/><path d="M383 112.58a1.85 1.85 0 1 0 3.7 0a1.85 1.85 0 1 0 -3.7 0z"/><path d="M385.13 113.14a1.85 1.85 0 1 0 3.7 0a1.85 1.85 0 1 0 -3.7 0z"/><path d="M387.25 113.67a1.85 1.85 0 1 0 3.7 0a1.85 1.85 0 1 0 -3.7 0z"/><path d="M389.37 114.19a1.85 1.85 0 1 0 3.7 0a1.85 1.85 0 1 0 -3.7 0z"/><path d="M391.49 114.69a1.85 1.85 0 1 0 3.7 0a1.85 1.85 0 1 0 -3.7 0z"/><path d="M393.61 115.18a1.85 1.85 0 1 0 3.7 0a1.85 1.85 0 1 0 -3.7 0z"/><path d="M395.74 115.67a1.85 1.85 0 1 0 3.7 0a1.85 1.85 0 1 0 -3.7 0z"/><path d="M397.86 116.16a1.85 1.85 0 1 0 3.7 0a1.85 1.85 0 1 0 -3.7 0z"/><path d="M399.98 116.66a1.85 1.85 0 1 0 3.7 0a1.85 1.85 0 1 0 -3.7 0z"/><path d="M402.1 117.17a1.85 1.85 0 1 0 3.7 0a1.85 1.85 0 1 0 -3.7 0z"/><path d="M404.23 117.69a1.85 1.85 0 1 0 3.7 0a1.85 1.85 0 1 0 -3.7 0z"/><path d="M406.35 118.21a1.85 1.85 0 1 0 3.7 0a1.85 1.85 0 1 0 -3.7 0z"/><path d="M408.47 118.73a1.85 1.85 0 1 0 3.7 0a1.85 1.85 0 1 0 -3.7 0z"/><path d="M410.59 119.25a1.85 1.85 0 1 0 3.7 0a1.85 1.85 0 1 0 -3.7 0z"/><path d="M412.71 119.77a1.85 1.85 0 1 0 3.7 0a1.85 1.85 0 1 0 -3.7 0z"/><path d="M414.84 120.28a1.85 1.85 0 1 0 3.7 0a1.85 1.85 0 1 0 -3.7 0z"/><path d="M416.96 120.8a1.85 1.85 0 1 0 3.7 0a1.85 1.85 0 1 0 -3.7 0z"/><path d="M419.08 121.32a1.85 1.85 0 1 0 3.7 0a1.85 1.85 0 1 0 -3.7 0z"/><path d="M421.2 121.84a1.85 1.85 0 1 0 3.7 0a1.85 1.85 0 1 0 -3.7 0z"/><path d="M423.33 122.36a1.85 1.85 0 1 0 3.7 0a1.85 1.85 0 1 0 -3.7 0z"/></g>
<polyline points="276.62,36.64 278.74,38.19 280.87,39.75 282.99,41.33 285.11,42.92 287.23,44.52 289.36,46.14 291.48,47.77 293.6,49.42 295.72,51.07 297.84,52.74 299.97,54.43 302.09,56.14 304.21,57.86 306.33,59.6 308.46,61.36 310.58,63.12 312.7,64.89 314.82,66.66 316.94,68.44 319.07,70.22 321.19,72.01 323.31,73.82 325.43,75.65 327.56,77.49 329.68,79.34 331.8,81.17 333.92,82.98 336.04,84.77 338.17,86.52 340.29,88.23 342.41,89.94 344.53,91.66 346.66,93.39 348.78,95.11 350.9,96.8 353.02,98.43 355.14,99.99 357.27,101.46 359.39,102.83 361.51,104.07 363.63,105.22 365.76,106.33 367.88,107.4 370,108.43 372.12,109.4 374.24,110.32 376.37,111.17 378.49,111.97 380.61,112.69 382.73,113.35 384.86,113.95 386.98,114.5 389.1,115.02 391.22,115.51 393.34,115.97 395.47,116.41 397.59,116.82 399.71,117.22 401.83,117.61 403.96,117.99 406.08,118.35 408.2,118.67 410.32,118.98 412.44,119.29 414.57,119.63 416.69,119.99 418.81,120.36 420.93,120.74 423.06,121.14 425.18,121.54" fill="none" stroke="#c01010" stroke-width="0.8"/>
<g fill="#ff0000" stroke="#8a0000" stroke-width="0.6"><path d="M274.87 34.88h3.51v3.51h-3.51z"/><path d="M276.99 36.43h3.51v3.51h-3.51z"/><path d="M279.11 38h3.51v3.51h-3.51z"/><path d="M281.23 39.57h3.51v3.51h-3.51z"/><path d="M283.36 41.16h3.51v3.51h-3.51z"/><path d="M285.48 42.77h3.51v3.51h-3.51z"/><path d="M287.6 44.39h3.51v3.51h-3.51z"/><path d="M289.72 46.02h3.51v3.51h-3.51z"/><path d="M291.85 47.66h3.51v3.51h-3.51z"/><path d="M293.97 49.32h3.51v3.51h-3.51z"/><path d="M296.09 50.99h3.51v3.51h-3.51z"/><path d="M298.21 52.68h3.51v3.51h-3.51z"/><path d="M300.33 54.38h3.51v3.51h-3.51z"/><path d="M302.46 56.11h3.51v3.51h-3.51z"/><path d="M304.58 57.85h3.51v3.51h-3.51z"/><path d="M306.7 59.6h3.51v3.51h-3.51z"/><path d="M308.82 61.37h3.51v3.51h-3.51z"/><path d="M310.94 63.14h3.51v3.51h-3.51z"/><path d="M313.07 64.91h3.51v3.51h-3.51z"/><path d="M315.19 66.69h3.51v3.51h-3.51z"/><path d="M317.31 68.46h3.51v3.51h-3.51z"/><path d="M319.43 70.25h3.51v3.51h-3.51z"/><path d="M321.56 72.07h3.51v3.51h-3.51z"/><path d="M323.68 73.9h3.51v3.51h-3.51z"/><path d="M325.8 75.74h3.51v3.51h-3.51z"/><path d="M327.92 77.58h3.51v3.51h-3.51z"/><path d="M330.05 79.41h3.51v3.51h-3.51z"/><path d="M332.17 81.23h3.51v3.51h-3.51z"/><path d="M334.29 83.02h3.51v3.51h-3.51z"/><path d="M336.41 84.77h3.51v3.51h-3.51z"/><path d="M338.53 86.48h3.51v3.51h-3.51z"/><path d="M340.66 88.18h3.51v3.51h-3.51z"/><path d="M342.78 89.91h3.51v3.51h-3.51z"/><path d="M344.9 91.64h3.51v3.51h-3.51z"/><path d="M347.02 93.36h3.51v3.51h-3.51z"/><path d="M349.14 95.04h3.51v3.51h-3.51z"/><path d="M351.27 96.67h3.51v3.51h-3.51z"/><path d="M353.39 98.23h3.51v3.51h-3.51z"/><path d="M355.51 99.71h3.51v3.51h-3.51z"/><path d="M357.63 101.07h3.51v3.51h-3.51z"/><path d="M359.76 102.31h3.51v3.51h-3.51z"/><path d="M361.88 103.47h3.51v3.51h-3.51z"/><path d="M364 104.58h3.51v3.51h-3.51z"/><path d="M366.12 105.65h3.51v3.51h-3.51z"/><path d="M368.25 106.67h3.51v3.51h-3.51z"/><path d="M370.37 107.64h3.51v3.51h-3.51z"/><path d="M372.49 108.56h3.51v3.51h-3.51z"/><path d="M374.61 109.42h3.51v3.51h-3.51z"/><path d="M376.73 110.21h3.51v3.51h-3.51z"/><path d="M378.86 110.94h3.51v3.51h-3.51z"/><path d="M380.98 111.6h3.51v3.51h-3.51z"/><path d="M383.1 112.19h3.51v3.51h-3.51z"/><path d="M385.22 112.75h3.51v3.51h-3.51z"/><path d="M387.35 113.27h3.51v3.51h-3.51z"/><path d="M389.47 113.76h3.51v3.51h-3.51z"/><path d="M391.59 114.22h3.51v3.51h-3.51z"/><path d="M393.71 114.65h3.51v3.51h-3.51z"/><path d="M395.83 115.07h3.51v3.51h-3.51z"/><path d="M397.96 115.47h3.51v3.51h-3.51z"/><path d="M400.08 115.86h3.51v3.51h-3.51z"/><path d="M402.2 116.24h3.51v3.51h-3.51z"/><path d="M404.32 116.59h3.51v3.51h-3.51z"/><path d="M406.44 116.91h3.51v3.51h-3.51z"/><path d="M408.57 117.22h3.51v3.51h-3.51z"/><path d="M410.69 117.54h3.51v3.51h-3.51z"/><path d="M412.81 117.87h3.51v3.51h-3.51z"/><path d="M414.93 118.23h3.51v3.51h-3.51z"/><path d="M417.06 118.6h3.51v3.51h-3.51z"/><path d="M419.18 118.99h3.51v3.51h-3.51z"/><path d="M421.3 119.38h3.51v3.51h-3.51z"/><path d="M423.42 119.79h3.51v3.51h-3.51z"/></g>
<polyline points="276.62,24.9 278.74,26.53 280.87,28.17 282.99,29.83 285.11,31.51 287.23,33.19 289.36,34.89 291.48,36.61 293.6,38.33 295.72,40.07 297.84,41.82 299.97,43.59 302.09,45.38 304.21,47.19 306.33,49.01 308.46,50.85 310.58,52.69 312.7,54.54 314.82,56.4 316.94,58.26 319.07,60.12 321.19,61.97 323.31,63.83 325.43,65.68 327.56,67.55 329.68,69.42 331.8,71.3 333.92,73.19 336.04,75.09 338.17,77.01 340.29,78.95 342.41,80.94 344.53,82.99 346.66,85.07 348.78,87.18 350.9,89.29 353.02,91.38 355.14,93.43 357.27,95.43 359.39,97.34 361.51,99.15 363.63,100.92 365.76,102.7 367.88,104.47 370,106.2 372.12,107.88 374.24,109.48 376.37,110.99 378.49,112.38 380.61,113.63 382.73,114.72 384.86,115.67 386.98,116.56 389.1,117.37 391.22,118.13 393.34,118.84 395.47,119.52 397.59,120.18 399.71,120.81 401.83,121.45 403.96,122.09 406.08,122.72 408.2,123.35 410.32,123.96 412.44,124.56 414.57,125.14 416.69,125.71 418.81,126.26 420.93,126.8 423.06,127.32 425.18,127.82" fill="none" stroke="#f6bcc6" stroke-width="0.8"/>
<g fill="#fbe0e4" stroke="#bf4a58" stroke-width="0.8"><path d="M274.87 23.14h3.51v3.51h-3.51z"/><path d="M276.99 24.77h3.51v3.51h-3.51z"/><path d="M279.11 26.42h3.51v3.51h-3.51z"/><path d="M281.23 28.08h3.51v3.51h-3.51z"/><path d="M283.36 29.75h3.51v3.51h-3.51z"/><path d="M285.48 31.44h3.51v3.51h-3.51z"/><path d="M287.6 33.14h3.51v3.51h-3.51z"/><path d="M289.72 34.85h3.51v3.51h-3.51z"/><path d="M291.85 36.58h3.51v3.51h-3.51z"/><path d="M293.97 38.32h3.51v3.51h-3.51z"/><path d="M296.09 40.07h3.51v3.51h-3.51z"/><path d="M298.21 41.84h3.51v3.51h-3.51z"/><path d="M300.33 43.63h3.51v3.51h-3.51z"/><path d="M302.46 45.44h3.51v3.51h-3.51z"/><path d="M304.58 47.26h3.51v3.51h-3.51z"/><path d="M306.7 49.09h3.51v3.51h-3.51z"/><path d="M308.82 50.94h3.51v3.51h-3.51z"/><path d="M310.94 52.79h3.51v3.51h-3.51z"/><path d="M313.07 54.64h3.51v3.51h-3.51z"/><path d="M315.19 56.5h3.51v3.51h-3.51z"/><path d="M317.31 58.36h3.51v3.51h-3.51z"/><path d="M319.43 60.22h3.51v3.51h-3.51z"/><path d="M321.56 62.07h3.51v3.51h-3.51z"/><path d="M323.68 63.93h3.51v3.51h-3.51z"/><path d="M325.8 65.79h3.51v3.51h-3.51z"/><path d="M327.92 67.66h3.51v3.51h-3.51z"/><path d="M330.05 69.54h3.51v3.51h-3.51z"/><path d="M332.17 71.43h3.51v3.51h-3.51z"/><path d="M334.29 73.34h3.51v3.51h-3.51z"/><path d="M336.41 75.26h3.51v3.51h-3.51z"/><path d="M338.53 77.2h3.51v3.51h-3.51z"/><path d="M340.66 79.18h3.51v3.51h-3.51z"/><path d="M342.78 81.23h3.51v3.51h-3.51z"/><path d="M344.9 83.32h3.51v3.51h-3.51z"/><path d="M347.02 85.43h3.51v3.51h-3.51z"/><path d="M349.14 87.54h3.51v3.51h-3.51z"/><path d="M351.27 89.63h3.51v3.51h-3.51z"/><path d="M353.39 91.68h3.51v3.51h-3.51z"/><path d="M355.51 93.67h3.51v3.51h-3.51z"/><path d="M357.63 95.58h3.51v3.51h-3.51z"/><path d="M359.76 97.4h3.51v3.51h-3.51z"/><path d="M361.88 99.17h3.51v3.51h-3.51z"/><path d="M364 100.95h3.51v3.51h-3.51z"/><path d="M366.12 102.71h3.51v3.51h-3.51z"/><path d="M368.25 104.45h3.51v3.51h-3.51z"/><path d="M370.37 106.13h3.51v3.51h-3.51z"/><path d="M372.49 107.73h3.51v3.51h-3.51z"/><path d="M374.61 109.24h3.51v3.51h-3.51z"/><path d="M376.73 110.62h3.51v3.51h-3.51z"/><path d="M378.86 111.87h3.51v3.51h-3.51z"/><path d="M380.98 112.96h3.51v3.51h-3.51z"/><path d="M383.1 113.92h3.51v3.51h-3.51z"/><path d="M385.22 114.8h3.51v3.51h-3.51z"/><path d="M387.35 115.62h3.51v3.51h-3.51z"/><path d="M389.47 116.38h3.51v3.51h-3.51z"/><path d="M391.59 117.09h3.51v3.51h-3.51z"/><path d="M393.71 117.77h3.51v3.51h-3.51z"/><path d="M395.83 118.42h3.51v3.51h-3.51z"/><path d="M397.96 119.06h3.51v3.51h-3.51z"/><path d="M400.08 119.69h3.51v3.51h-3.51z"/><path d="M402.2 120.33h3.51v3.51h-3.51z"/><path d="M404.32 120.97h3.51v3.51h-3.51z"/><path d="M406.44 121.6h3.51v3.51h-3.51z"/><path d="M408.57 122.21h3.51v3.51h-3.51z"/><path d="M410.69 122.81h3.51v3.51h-3.51z"/><path d="M412.81 123.39h3.51v3.51h-3.51z"/><path d="M414.93 123.96h3.51v3.51h-3.51z"/><path d="M417.06 124.51h3.51v3.51h-3.51z"/><path d="M419.18 125.05h3.51v3.51h-3.51z"/><path d="M421.3 125.56h3.51v3.51h-3.51z"/><path d="M423.42 126.06h3.51v3.51h-3.51z"/></g>
<polyline points="276.62,21.9 278.74,23.47 280.87,25.07 282.99,26.69 285.11,28.33 287.23,29.99 289.36,31.66 291.48,33.36 293.6,35.07 295.72,36.8 297.84,38.55 299.97,40.32 302.09,42.12 304.21,43.95 306.33,45.8 308.46,47.67 310.58,49.55 312.7,51.44 314.82,53.33 316.94,55.22 319.07,57.11 321.19,59 323.31,60.88 325.43,62.77 327.56,64.67 329.68,66.57 331.8,68.47 333.92,70.39 336.04,72.32 338.17,74.27 340.29,76.22 342.41,78.23 344.53,80.3 346.66,82.42 348.78,84.56 350.9,86.69 353.02,88.8 355.14,90.85 357.27,92.82 359.39,94.68 361.51,96.42 363.63,98.08 365.76,99.7 367.88,101.29 370,102.82 372.12,104.31 374.24,105.73 376.37,107.08 378.49,108.35 380.61,109.53 382.73,110.62 384.86,111.62 386.98,112.55 389.1,113.43 391.22,114.25 393.34,115.04 395.47,115.81 397.59,116.55 399.71,117.3 401.83,118.05 403.96,118.81 406.08,119.58 408.2,120.35 410.32,121.1 412.44,121.85 414.57,122.6 416.69,123.33 418.81,124.05 420.93,124.77 423.06,125.48 425.18,126.18" fill="none" stroke="#3cc860" stroke-width="1"/>
<g fill="#36d85a" stroke="#17521f" stroke-width="0.5"><path d="M276.62 19.95l1.95 3.61h-3.9z"/><path d="M278.74 21.52l1.95 3.61h-3.9z"/><path d="M280.87 23.12l1.95 3.61h-3.9z"/><path d="M282.99 24.74l1.95 3.61h-3.9z"/><path d="M285.11 26.38l1.95 3.61h-3.9z"/><path d="M287.23 28.04l1.95 3.61h-3.9z"/><path d="M289.36 29.71l1.95 3.61h-3.9z"/><path d="M291.48 31.41l1.95 3.61h-3.9z"/><path d="M293.6 33.12l1.95 3.61h-3.9z"/><path d="M295.72 34.85l1.95 3.61h-3.9z"/><path d="M297.84 36.6l1.95 3.61h-3.9z"/><path d="M299.97 38.37l1.95 3.61h-3.9z"/><path d="M302.09 40.17l1.95 3.61h-3.9z"/><path d="M304.21 42l1.95 3.61h-3.9z"/><path d="M306.33 43.85l1.95 3.61h-3.9z"/><path d="M308.46 45.72l1.95 3.61h-3.9z"/><path d="M310.58 47.6l1.95 3.61h-3.9z"/><path d="M312.7 49.49l1.95 3.61h-3.9z"/><path d="M314.82 51.38l1.95 3.61h-3.9z"/><path d="M316.94 53.27l1.95 3.61h-3.9z"/><path d="M319.07 55.16l1.95 3.61h-3.9z"/><path d="M321.19 57.05l1.95 3.61h-3.9z"/><path d="M323.31 58.93l1.95 3.61h-3.9z"/><path d="M325.43 60.82l1.95 3.61h-3.9z"/><path d="M327.56 62.72l1.95 3.61h-3.9z"/><path d="M329.68 64.62l1.95 3.61h-3.9z"/><path d="M331.8 66.52l1.95 3.61h-3.9z"/><path d="M333.92 68.44l1.95 3.61h-3.9z"/><path d="M336.04 70.37l1.95 3.61h-3.9z"/><path d="M338.17 72.32l1.95 3.61h-3.9z"/><path d="M340.29 74.27l1.95 3.61h-3.9z"/><path d="M342.41 76.28l1.95 3.61h-3.9z"/><path d="M344.53 78.35l1.95 3.61h-3.9z"/><path d="M346.66 80.47l1.95 3.61h-3.9z"/><path d="M348.78 82.61l1.95 3.61h-3.9z"/><path d="M350.9 84.74l1.95 3.61h-3.9z"/><path d="M353.02 86.85l1.95 3.61h-3.9z"/><path d="M355.14 88.9l1.95 3.61h-3.9z"/><path d="M357.27 90.87l1.95 3.61h-3.9z"/><path d="M359.39 92.73l1.95 3.61h-3.9z"/><path d="M361.51 94.47l1.95 3.61h-3.9z"/><path d="M363.63 96.13l1.95 3.61h-3.9z"/><path d="M365.76 97.75l1.95 3.61h-3.9z"/><path d="M367.88 99.34l1.95 3.61h-3.9z"/><path d="M370 100.87l1.95 3.61h-3.9z"/><path d="M372.12 102.36l1.95 3.61h-3.9z"/><path d="M374.24 103.78l1.95 3.61h-3.9z"/><path d="M376.37 105.13l1.95 3.61h-3.9z"/><path d="M378.49 106.4l1.95 3.61h-3.9z"/><path d="M380.61 107.58l1.95 3.61h-3.9z"/><path d="M382.73 108.67l1.95 3.61h-3.9z"/><path d="M384.86 109.67l1.95 3.61h-3.9z"/><path d="M386.98 110.6l1.95 3.61h-3.9z"/><path d="M389.1 111.48l1.95 3.61h-3.9z"/><path d="M391.22 112.3l1.95 3.61h-3.9z"/><path d="M393.34 113.09l1.95 3.61h-3.9z"/><path d="M395.47 113.86l1.95 3.61h-3.9z"/><path d="M397.59 114.6l1.95 3.61h-3.9z"/><path d="M399.71 115.35l1.95 3.61h-3.9z"/><path d="M401.83 116.1l1.95 3.61h-3.9z"/><path d="M403.96 116.86l1.95 3.61h-3.9z"/><path d="M406.08 117.63l1.95 3.61h-3.9z"/><path d="M408.2 118.4l1.95 3.61h-3.9z"/><path d="M410.32 119.15l1.95 3.61h-3.9z"/><path d="M412.44 119.9l1.95 3.61h-3.9z"/><path d="M414.57 120.65l1.95 3.61h-3.9z"/><path d="M416.69 121.38l1.95 3.61h-3.9z"/><path d="M418.81 122.1l1.95 3.61h-3.9z"/><path d="M420.93 122.82l1.95 3.61h-3.9z"/><path d="M423.06 123.53l1.95 3.61h-3.9z"/><path d="M425.18 124.23l1.95 3.61h-3.9z"/></g>
<polyline points="276.62,30.9 278.74,32.41 280.87,33.94 282.99,35.48 285.11,37.04 287.23,38.62 289.36,40.21 291.48,41.82 293.6,43.45 295.72,45.08 297.84,46.74 299.97,48.41 302.09,50.11 304.21,51.82 306.33,53.55 308.46,55.3 310.58,57.06 312.7,58.84 314.82,60.62 316.94,62.41 319.07,64.21 321.19,66.02 323.31,67.86 325.43,69.72 327.56,71.59 329.68,73.47 331.8,75.35 333.92,77.23 336.04,79.1 338.17,80.95 340.29,82.77 342.41,84.63 344.53,86.54 346.66,88.49 348.78,90.44 350.9,92.36 353.02,94.23 355.14,96 357.27,97.66 359.39,99.18 361.51,100.52 363.63,101.72 365.76,102.84 367.88,103.88 370,104.87 372.12,105.81 374.24,106.7 376.37,107.57 378.49,108.41 380.61,109.24 382.73,110.07 384.86,110.89 386.98,111.67 389.1,112.42 391.22,113.15 393.34,113.86 395.47,114.57 397.59,115.27 399.71,115.98 401.83,116.71 403.96,117.45 406.08,118.2 408.2,118.95 410.32,119.71 412.44,120.47 414.57,121.23 416.69,122 418.81,122.77 420.93,123.54 423.06,124.31 425.18,125.09" fill="none" stroke="#3a9be0" stroke-width="0.9"/>
<g fill="#4cb1f2" stroke="#2a5fb0" stroke-width="0.6"><path d="M276.62 28.53l2.38 2.38l-2.38 2.38l-2.38 -2.38z"/><path d="M278.74 30.04l2.38 2.38l-2.38 2.38l-2.38 -2.38z"/><path d="M280.87 31.56l2.38 2.38l-2.38 2.38l-2.38 -2.38z"/><path d="M282.99 33.11l2.38 2.38l-2.38 2.38l-2.38 -2.38z"/><path d="M285.11 34.67l2.38 2.38l-2.38 2.38l-2.38 -2.38z"/><path d="M287.23 36.24l2.38 2.38l-2.38 2.38l-2.38 -2.38z"/><path d="M289.36 37.83l2.38 2.38l-2.38 2.38l-2.38 -2.38z"/><path d="M291.48 39.44l2.38 2.38l-2.38 2.38l-2.38 -2.38z"/><path d="M293.6 41.07l2.38 2.38l-2.38 2.38l-2.38 -2.38z"/><path d="M295.72 42.71l2.38 2.38l-2.38 2.38l-2.38 -2.38z"/><path d="M297.84 44.36l2.38 2.38l-2.38 2.38l-2.38 -2.38z"/><path d="M299.97 46.03l2.38 2.38l-2.38 2.38l-2.38 -2.38z"/><path d="M302.09 47.73l2.38 2.38l-2.38 2.38l-2.38 -2.38z"/><path d="M304.21 49.44l2.38 2.38l-2.38 2.38l-2.38 -2.38z"/><path d="M306.33 51.17l2.38 2.38l-2.38 2.38l-2.38 -2.38z"/><path d="M308.46 52.92l2.38 2.38l-2.38 2.38l-2.38 -2.38z"/><path d="M310.58 54.68l2.38 2.38l-2.38 2.38l-2.38 -2.38z"/><path d="M312.7 56.46l2.38 2.38l-2.38 2.38l-2.38 -2.38z"/><path d="M314.82 58.24l2.38 2.38l-2.38 2.38l-2.38 -2.38z"/><path d="M316.94 60.03l2.38 2.38l-2.38 2.38l-2.38 -2.38z"/><path d="M319.07 61.83l2.38 2.38l-2.38 2.38l-2.38 -2.38z"/><path d="M321.19 63.65l2.38 2.38l-2.38 2.38l-2.38 -2.38z"/><path d="M323.31 65.49l2.38 2.38l-2.38 2.38l-2.38 -2.38z"/><path d="M325.43 67.34l2.38 2.38l-2.38 2.38l-2.38 -2.38z"/><path d="M327.56 69.22l2.38 2.38l-2.38 2.38l-2.38 -2.38z"/><path d="M329.68 71.1l2.38 2.38l-2.38 2.38l-2.38 -2.38z"/><path d="M331.8 72.98l2.38 2.38l-2.38 2.38l-2.38 -2.38z"/><path d="M333.92 74.85l2.38 2.38l-2.38 2.38l-2.38 -2.38z"/><path d="M336.04 76.72l2.38 2.38l-2.38 2.38l-2.38 -2.38z"/><path d="M338.17 78.57l2.38 2.38l-2.38 2.38l-2.38 -2.38z"/><path d="M340.29 80.4l2.38 2.38l-2.38 2.38l-2.38 -2.38z"/><path d="M342.41 82.25l2.38 2.38l-2.38 2.38l-2.38 -2.38z"/><path d="M344.53 84.17l2.38 2.38l-2.38 2.38l-2.38 -2.38z"/><path d="M346.66 86.11l2.38 2.38l-2.38 2.38l-2.38 -2.38z"/><path d="M348.78 88.06l2.38 2.38l-2.38 2.38l-2.38 -2.38z"/><path d="M350.9 89.98l2.38 2.38l-2.38 2.38l-2.38 -2.38z"/><path d="M353.02 91.85l2.38 2.38l-2.38 2.38l-2.38 -2.38z"/><path d="M355.14 93.62l2.38 2.38l-2.38 2.38l-2.38 -2.38z"/><path d="M357.27 95.29l2.38 2.38l-2.38 2.38l-2.38 -2.38z"/><path d="M359.39 96.8l2.38 2.38l-2.38 2.38l-2.38 -2.38z"/><path d="M361.51 98.14l2.38 2.38l-2.38 2.38l-2.38 -2.38z"/><path d="M363.63 99.34l2.38 2.38l-2.38 2.38l-2.38 -2.38z"/><path d="M365.76 100.46l2.38 2.38l-2.38 2.38l-2.38 -2.38z"/><path d="M367.88 101.51l2.38 2.38l-2.38 2.38l-2.38 -2.38z"/><path d="M370 102.49l2.38 2.38l-2.38 2.38l-2.38 -2.38z"/><path d="M372.12 103.43l2.38 2.38l-2.38 2.38l-2.38 -2.38z"/><path d="M374.24 104.33l2.38 2.38l-2.38 2.38l-2.38 -2.38z"/><path d="M376.37 105.19l2.38 2.38l-2.38 2.38l-2.38 -2.38z"/><path d="M378.49 106.03l2.38 2.38l-2.38 2.38l-2.38 -2.38z"/><path d="M380.61 106.87l2.38 2.38l-2.38 2.38l-2.38 -2.38z"/><path d="M382.73 107.7l2.38 2.38l-2.38 2.38l-2.38 -2.38z"/><path d="M384.86 108.51l2.38 2.38l-2.38 2.38l-2.38 -2.38z"/><path d="M386.98 109.29l2.38 2.38l-2.38 2.38l-2.38 -2.38z"/><path d="M389.1 110.04l2.38 2.38l-2.38 2.38l-2.38 -2.38z"/><path d="M391.22 110.77l2.38 2.38l-2.38 2.38l-2.38 -2.38z"/><path d="M393.34 111.48l2.38 2.38l-2.38 2.38l-2.38 -2.38z"/><path d="M395.47 112.19l2.38 2.38l-2.38 2.38l-2.38 -2.38z"/><path d="M397.59 112.89l2.38 2.38l-2.38 2.38l-2.38 -2.38z"/><path d="M399.71 113.61l2.38 2.38l-2.38 2.38l-2.38 -2.38z"/><path d="M401.83 114.33l2.38 2.38l-2.38 2.38l-2.38 -2.38z"/><path d="M403.96 115.07l2.38 2.38l-2.38 2.38l-2.38 -2.38z"/><path d="M406.08 115.82l2.38 2.38l-2.38 2.38l-2.38 -2.38z"/><path d="M408.2 116.57l2.38 2.38l-2.38 2.38l-2.38 -2.38z"/><path d="M410.32 117.33l2.38 2.38l-2.38 2.38l-2.38 -2.38z"/><path d="M412.44 118.09l2.38 2.38l-2.38 2.38l-2.38 -2.38z"/><path d="M414.57 118.85l2.38 2.38l-2.38 2.38l-2.38 -2.38z"/><path d="M416.69 119.62l2.38 2.38l-2.38 2.38l-2.38 -2.38z"/><path d="M418.81 120.39l2.38 2.38l-2.38 2.38l-2.38 -2.38z"/><path d="M420.93 121.16l2.38 2.38l-2.38 2.38l-2.38 -2.38z"/><path d="M423.06 121.93l2.38 2.38l-2.38 2.38l-2.38 -2.38z"/><path d="M425.18 122.71l2.38 2.38l-2.38 2.38l-2.38 -2.38z"/></g>
<path d="M405.9 24.7H416.7" stroke="#9ab6be" stroke-width="1.6"/>
<path d="M409.53 24.7a1.57 1.57 0 1 0 3.13 0a1.57 1.57 0 1 0 -3.13 0z" fill="#000000"/>
<text transform="translate(417.9 27.12) scale(0.067 0.0737)">2 Weeks</text>
<path d="M405.9 34.8H416.7" stroke="#c01010" stroke-width="0.9"/>
<path d="M409.62 33.31h2.97v2.97h-2.97z" fill="#ff0000" stroke="#8a0000" stroke-width="0.6"/>
<text transform="translate(417.9 37.22) scale(0.067 0.0737)">4 Weeks</text>
<path d="M405.9 45.4H416.7" stroke="#f6bcc6" stroke-width="0.9"/>
<path d="M409.62 43.91h2.97v2.97h-2.97z" fill="#fbe0e4" stroke="#bf4a58" stroke-width="0.8"/>
<text transform="translate(417.9 47.82) scale(0.067 0.0737)">8 Weeks</text>
<path d="M405.9 55.5H416.7" stroke="#3cc860" stroke-width="1.1"/>
<path d="M411.1 53.85l1.65 3.05h-3.3z" fill="#36d85a" stroke="#17521f" stroke-width="0.5"/>
<text transform="translate(417.9 57.92) scale(0.067 0.0737)">12 Weeks</text>
<path d="M405.9 66.1H416.7" stroke="#3a9be0" stroke-width="1"/>
<path d="M411.1 64.09l2.01 2.01l-2.01 2.01l-2.01 -2.01z" fill="#4cb1f2" stroke="#2a5fb0" stroke-width="0.6"/>
<text transform="translate(417.9 68.52) scale(0.067 0.0737)">16 Weeks</text>
<text transform="translate(340.3 172.8) scale(0.075 0.075)" text-anchor="middle">Log (Freq/Hz)</text>
<text transform="translate(232.7 89.6) rotate(-90) scale(0.075 0.075)" text-anchor="middle">| Z | (kΩ.cm<tspan dy="-35" font-size="62">2</tspan><tspan dy="35">)</tspan></text>
<text stroke="#111" stroke-width="2.5" transform="translate(226.5 11.2) scale(0.095 0.1045)">(B)</text>
<!-- panel C -->
<path d="M475.6 17.2H673.5" stroke="#5a5a5a" stroke-width="0.9"/>
<path d="M673 17.2V154.7" stroke="#8a8a8a" stroke-width="1"/>
<path d="M475.6 17.2V154.7M475.6 154.7H673" stroke="#3a3a3a" stroke-width="0.6" fill="none"/>
<path d="M475.6 152.1V157M500.28 152.1V157M524.95 152.1V157M549.62 152.1V157M574.3 152.1V157M598.98 152.1V157M623.65 152.1V157M648.33 152.1V157M673 152.1V157M473.4 154.7H477.8M473.4 137.51H477.8M473.4 120.32H477.8M473.4 103.14H477.8M473.4 85.95H477.8M473.4 68.76H477.8M473.4 51.57H477.8M473.4 34.39H477.8M473.4 17.2H477.8" stroke="#4a4a4a" stroke-width="0.6" fill="none"/>
<path d="M483.03 154.7V156.6M487.37 154.7V156.6M490.46 154.7V156.6M492.85 154.7V156.6M494.8 154.7V156.6M496.45 154.7V156.6M497.88 154.7V156.6M499.15 154.7V156.6M507.7 154.7V156.6M512.05 154.7V156.6M515.13 154.7V156.6M517.52 154.7V156.6M519.48 154.7V156.6M521.13 154.7V156.6M522.56 154.7V156.6M523.82 154.7V156.6M532.38 154.7V156.6M536.72 154.7V156.6M539.81 154.7V156.6M542.2 154.7V156.6M544.15 154.7V156.6M545.8 154.7V156.6M547.23 154.7V156.6M548.5 154.7V156.6M557.05 154.7V156.6M561.4 154.7V156.6M564.48 154.7V156.6M566.87 154.7V156.6M568.83 154.7V156.6M570.48 154.7V156.6M571.91 154.7V156.6M573.17 154.7V156.6M581.73 154.7V156.6M586.07 154.7V156.6M589.16 154.7V156.6M591.55 154.7V156.6M593.5 154.7V156.6M595.15 154.7V156.6M596.58 154.7V156.6M597.85 154.7V156.6M606.4 154.7V156.6M610.75 154.7V156.6M613.83 154.7V156.6M616.22 154.7V156.6M618.18 154.7V156.6M619.83 154.7V156.6M621.26 154.7V156.6M622.52 154.7V156.6M631.08 154.7V156.6M635.42 154.7V156.6M638.51 154.7V156.6M640.9 154.7V156.6M642.85 154.7V156.6M644.5 154.7V156.6M645.93 154.7V156.6M647.2 154.7V156.6M655.75 154.7V156.6M660.1 154.7V156.6M663.18 154.7V156.6M665.57 154.7V156.6M667.53 154.7V156.6M669.18 154.7V156.6M670.61 154.7V156.6M671.87 154.7V156.6M473.6 154.7H475.6M473.6 151.26H475.6M473.6 147.82H475.6M473.6 144.39H475.6M473.6 140.95H475.6M473.6 137.51H475.6M473.6 134.07H475.6M473.6 130.64H475.6M473.6 127.2H475.6M473.6 123.76H475.6M473.6 120.32H475.6M473.6 116.89H475.6M473.6 113.45H475.6M473.6 110.01H475.6M473.6 106.57H475.6M473.6 103.14H475.6M473.6 99.7H475.6M473.6 96.26H475.6M473.6 92.82H475.6M473.6 89.39H475.6M473.6 85.95H475.6M473.6 82.51H475.6M473.6 79.07H475.6M473.6 75.64H475.6M473.6 72.2H475.6M473.6 68.76H475.6M473.6 65.32H475.6M473.6 61.89H475.6M473.6 58.45H475.6M473.6 55.01H475.6M473.6 51.57H475.6M473.6 48.14H475.6M473.6 44.7H475.6M473.6 41.26H475.6M473.6 37.82H475.6M473.6 34.39H475.6M473.6 30.95H475.6M473.6 27.51H475.6M473.6 24.07H475.6M473.6 20.64H475.6M473.6 17.2H475.6" stroke="#222" stroke-width="0.6" fill="none"/>
<text transform="translate(475.6 164.5) scale(0.065 0.0728)" text-anchor="middle">1E-02</text>
<text transform="translate(500.28 164.5) scale(0.065 0.0728)" text-anchor="middle">1E-01</text>
<text transform="translate(524.95 164.5) scale(0.065 0.0728)" text-anchor="middle">1E+00</text>
<text transform="translate(549.62 164.5) scale(0.065 0.0728)" text-anchor="middle">1E+01</text>
<text transform="translate(574.3 164.5) scale(0.065 0.0728)" text-anchor="middle">1E+02</text>
<text transform="translate(598.98 164.5) scale(0.065 0.0728)" text-anchor="middle">1E+03</text>
<text transform="translate(623.65 164.5) scale(0.065 0.0728)" text-anchor="middle">1E+04</text>
<text transform="translate(648.33 164.5) scale(0.065 0.0728)" text-anchor="middle">1E+05</text>
<text transform="translate(673 164.5) scale(0.065 0.0728)" text-anchor="middle">1E+06</text>
<text transform="translate(470.6 157.26) scale(0.065 0.0728)" text-anchor="end">0</text>
<text transform="translate(470.6 140.07) scale(0.065 0.0728)" text-anchor="end">-10</text>
<text transform="translate(470.6 122.88) scale(0.065 0.0728)" text-anchor="end">-20</text>
<text transform="translate(470.6 105.7) scale(0.065 0.0728)" text-anchor="end">-30</text>
<text transform="translate(470.6 88.51) scale(0.065 0.0728)" text-anchor="end">-40</text>
<text transform="translate(470.6 71.32) scale(0.065 0.0728)" text-anchor="end">-50</text>
<text transform="translate(470.6 54.13) scale(0.065 0.0728)" text-anchor="end">-60</text>
<text transform="translate(470.6 36.95) scale(0.065 0.0728)" text-anchor="end">-70</text>
<text transform="translate(470.6 19.76) scale(0.065 0.0728)" text-anchor="end">-80</text>
<polyline points="475.6,91.45 478.07,87.52 480.54,83.79 483,80.27 485.47,76.96 487.94,73.87 490.41,70.94 492.87,68.22 495.34,65.77 497.81,63.61 500.28,61.63 502.74,59.87 505.21,58.36 507.68,56.97 510.15,55.75 512.61,54.81 515.08,54.12 517.55,53.54 520.01,53.29 522.48,53.55 524.95,54.21 527.42,55.11 529.88,56.12 532.35,57.31 534.82,58.88 537.29,60.64 539.75,62.44 542.22,64.39 544.69,66.47 547.16,68.61 549.62,70.73 554.56,75.06 557.03,77.01 559.5,78.85 561.96,80.71 564.43,82.68 566.9,84.72 569.37,86.82 571.83,88.98 574.3,91.22 576.77,93.51 579.24,95.51 581.7,97.34 584.17,99.17 586.64,101.13 589.11,103.38 591.57,105.94 594.04,108.61 596.51,111.19 598.98,113.45 601.44,115.49 603.91,117.47 606.38,119.29 608.85,120.85 611.31,122.04 613.78,122.96 616.25,123.74 618.72,124.41 621.18,124.99 623.65,125.48 626.12,125.86 628.59,126.15 631.05,126.42 633.52,126.74 635.99,127.2 638.45,127.98 640.92,129.15 643.39,130.64 645.86,132.83 648.33,135.79" fill="none" stroke="#4a78a8" stroke-width="0.8"/>
<g fill="#000000"><path d="M473.75 91.45a1.85 1.85 0 1 0 3.7 0a1.85 1.85 0 1 0 -3.7 0z"/><path d="M476.22 87.52a1.85 1.85 0 1 0 3.7 0a1.85 1.85 0 1 0 -3.7 0z"/><path d="M478.68 83.79a1.85 1.85 0 1 0 3.7 0a1.85 1.85 0 1 0 -3.7 0z"/><path d="M481.15 80.27a1.85 1.85 0 1 0 3.7 0a1.85 1.85 0 1 0 -3.7 0z"/><path d="M483.62 76.96a1.85 1.85 0 1 0 3.7 0a1.85 1.85 0 1 0 -3.7 0z"/><path d="M486.08 73.87a1.85 1.85 0 1 0 3.7 0a1.85 1.85 0 1 0 -3.7 0z"/><path d="M488.55 70.94a1.85 1.85 0 1 0 3.7 0a1.85 1.85 0 1 0 -3.7 0z"/><path d="M491.02 68.22a1.85 1.85 0 1 0 3.7 0a1.85 1.85 0 1 0 -3.7 0z"/><path d="M493.49 65.77a1.85 1.85 0 1 0 3.7 0a1.85 1.85 0 1 0 -3.7 0z"/><path d="M495.95 63.61a1.85 1.85 0 1 0 3.7 0a1.85 1.85 0 1 0 -3.7 0z"/><path d="M498.42 61.63a1.85 1.85 0 1 0 3.7 0a1.85 1.85 0 1 0 -3.7 0z"/><path d="M500.89 59.87a1.85 1.85 0 1 0 3.7 0a1.85 1.85 0 1 0 -3.7 0z"/><path d="M503.36 58.36a1.85 1.85 0 1 0 3.7 0a1.85 1.85 0 1 0 -3.7 0z"/><path d="M505.82 56.97a1.85 1.85 0 1 0 3.7 0a1.85 1.85 0 1 0 -3.7 0z"/><path d="M508.29 55.75a1.85 1.85 0 1 0 3.7 0a1.85 1.85 0 1 0 -3.7 0z"/><path d="M510.76 54.81a1.85 1.85 0 1 0 3.7 0a1.85 1.85 0 1 0 -3.7 0z"/><path d="M513.23 54.12a1.85 1.85 0 1 0 3.7 0a1.85 1.85 0 1 0 -3.7 0z"/><path d="M515.7 53.54a1.85 1.85 0 1 0 3.7 0a1.85 1.85 0 1 0 -3.7 0z"/><path d="M518.16 53.29a1.85 1.85 0 1 0 3.7 0a1.85 1.85 0 1 0 -3.7 0z"/><path d="M520.63 53.55a1.85 1.85 0 1 0 3.7 0a1.85 1.85 0 1 0 -3.7 0z"/><path d="M523.1 54.21a1.85 1.85 0 1 0 3.7 0a1.85 1.85 0 1 0 -3.7 0z"/><path d="M525.57 55.11a1.85 1.85 0 1 0 3.7 0a1.85 1.85 0 1 0 -3.7 0z"/><path d="M528.03 56.12a1.85 1.85 0 1 0 3.7 0a1.85 1.85 0 1 0 -3.7 0z"/><path d="M530.5 57.31a1.85 1.85 0 1 0 3.7 0a1.85 1.85 0 1 0 -3.7 0z"/><path d="M532.97 58.88a1.85 1.85 0 1 0 3.7 0a1.85 1.85 0 1 0 -3.7 0z"/><path d="M535.44 60.64a1.85 1.85 0 1 0 3.7 0a1.85 1.85 0 1 0 -3.7 0z"/><path d="M537.9 62.44a1.85 1.85 0 1 0 3.7 0a1.85 1.85 0 1 0 -3.7 0z"/><path d="M540.37 64.39a1.85 1.85 0 1 0 3.7 0a1.85 1.85 0 1 0 -3.7 0z"/><path d="M542.84 66.47a1.85 1.85 0 1 0 3.7 0a1.85 1.85 0 1 0 -3.7 0z"/><path d="M545.31 68.61a1.85 1.85 0 1 0 3.7 0a1.85 1.85 0 1 0 -3.7 0z"/><path d="M547.77 70.73a1.85 1.85 0 1 0 3.7 0a1.85 1.85 0 1 0 -3.7 0z"/><path d="M552.71 75.06a1.85 1.85 0 1 0 3.7 0a1.85 1.85 0 1 0 -3.7 0z"/><path d="M555.18 77.01a1.85 1.85 0 1 0 3.7 0a1.85 1.85 0 1 0 -3.7 0z"/><path d="M557.64 78.85a1.85 1.85 0 1 0 3.7 0a1.85 1.85 0 1 0 -3.7 0z"/><path d="M560.11 80.71a1.85 1.85 0 1 0 3.7 0a1.85 1.85 0 1 0 -3.7 0z"/><path d="M562.58 82.68a1.85 1.85 0 1 0 3.7 0a1.85 1.85 0 1 0 -3.7 0z"/><path d="M565.05 84.72a1.85 1.85 0 1 0 3.7 0a1.85 1.85 0 1 0 -3.7 0z"/><path d="M567.51 86.82a1.85 1.85 0 1 0 3.7 0a1.85 1.85 0 1 0 -3.7 0z"/><path d="M569.98 88.98a1.85 1.85 0 1 0 3.7 0a1.85 1.85 0 1 0 -3.7 0z"/><path d="M572.45 91.22a1.85 1.85 0 1 0 3.7 0a1.85 1.85 0 1 0 -3.7 0z"/><path d="M574.92 93.51a1.85 1.85 0 1 0 3.7 0a1.85 1.85 0 1 0 -3.7 0z"/><path d="M577.38 95.51a1.85 1.85 0 1 0 3.7 0a1.85 1.85 0 1 0 -3.7 0z"/><path d="M579.85 97.34a1.85 1.85 0 1 0 3.7 0a1.85 1.85 0 1 0 -3.7 0z"/><path d="M582.32 99.17a1.85 1.85 0 1 0 3.7 0a1.85 1.85 0 1 0 -3.7 0z"/><path d="M584.79 101.13a1.85 1.85 0 1 0 3.7 0a1.85 1.85 0 1 0 -3.7 0z"/><path d="M587.25 103.38a1.85 1.85 0 1 0 3.7 0a1.85 1.85 0 1 0 -3.7 0z"/><path d="M589.72 105.94a1.85 1.85 0 1 0 3.7 0a1.85 1.85 0 1 0 -3.7 0z"/><path d="M592.19 108.61a1.85 1.85 0 1 0 3.7 0a1.85 1.85 0 1 0 -3.7 0z"/><path d="M594.66 111.19a1.85 1.85 0 1 0 3.7 0a1.85 1.85 0 1 0 -3.7 0z"/><path d="M597.12 113.45a1.85 1.85 0 1 0 3.7 0a1.85 1.85 0 1 0 -3.7 0z"/><path d="M599.59 115.49a1.85 1.85 0 1 0 3.7 0a1.85 1.85 0 1 0 -3.7 0z"/><path d="M602.06 117.47a1.85 1.85 0 1 0 3.7 0a1.85 1.85 0 1 0 -3.7 0z"/><path d="M604.53 119.29a1.85 1.85 0 1 0 3.7 0a1.85 1.85 0 1 0 -3.7 0z"/><path d="M606.99 120.85a1.85 1.85 0 1 0 3.7 0a1.85 1.85 0 1 0 -3.7 0z"/><path d="M609.46 122.04a1.85 1.85 0 1 0 3.7 0a1.85 1.85 0 1 0 -3.7 0z"/><path d="M611.93 122.96a1.85 1.85 0 1 0 3.7 0a1.85 1.85 0 1 0 -3.7 0z"/><path d="M614.39 123.74a1.85 1.85 0 1 0 3.7 0a1.85 1.85 0 1 0 -3.7 0z"/><path d="M616.86 124.41a1.85 1.85 0 1 0 3.7 0a1.85 1.85 0 1 0 -3.7 0z"/><path d="M619.33 124.99a1.85 1.85 0 1 0 3.7 0a1.85 1.85 0 1 0 -3.7 0z"/><path d="M621.8 125.48a1.85 1.85 0 1 0 3.7 0a1.85 1.85 0 1 0 -3.7 0z"/><path d="M624.27 125.86a1.85 1.85 0 1 0 3.7 0a1.85 1.85 0 1 0 -3.7 0z"/><path d="M626.73 126.15a1.85 1.85 0 1 0 3.7 0a1.85 1.85 0 1 0 -3.7 0z"/><path d="M629.2 126.42a1.85 1.85 0 1 0 3.7 0a1.85 1.85 0 1 0 -3.7 0z"/><path d="M631.67 126.74a1.85 1.85 0 1 0 3.7 0a1.85 1.85 0 1 0 -3.7 0z"/><path d="M634.13 127.2a1.85 1.85 0 1 0 3.7 0a1.85 1.85 0 1 0 -3.7 0z"/><path d="M636.6 127.98a1.85 1.85 0 1 0 3.7 0a1.85 1.85 0 1 0 -3.7 0z"/><path d="M639.07 129.15a1.85 1.85 0 1 0 3.7 0a1.85 1.85 0 1 0 -3.7 0z"/><path d="M641.54 130.64a1.85 1.85 0 1 0 3.7 0a1.85 1.85 0 1 0 -3.7 0z"/><path d="M644 132.83a1.85 1.85 0 1 0 3.7 0a1.85 1.85 0 1 0 -3.7 0z"/><path d="M646.47 135.79a1.85 1.85 0 1 0 3.7 0a1.85 1.85 0 1 0 -3.7 0z"/></g>
<polyline points="475.6,88.53 478.07,85.32 480.54,82.21 483,79.19 485.47,76.26 487.94,73.41 490.41,70.58 492.87,67.86 495.34,65.42 497.81,63.31 500.28,61.39 502.74,59.68 505.21,58.19 507.68,56.82 510.15,55.6 512.61,54.64 515.08,53.98 517.55,53.44 520.01,53.01 522.48,52.66 524.95,52.32 527.42,52.05 529.88,51.92 532.35,51.96 534.82,52.09 537.29,52.29 539.75,52.58 542.22,53.25 544.69,54.28 547.16,55.52 549.62,56.83 554.56,60.45 557.03,62.54 559.5,64.85 561.96,67.32 564.43,69.91 566.9,72.66 569.37,75.8 571.83,79.92 574.3,84.64 576.77,88.47 579.24,91.76 581.7,94.92 584.17,98.16 586.64,101.33 589.11,104.56 591.57,107.99 594.04,111.93 596.51,115.91 598.98,119.27 601.44,121.8 603.91,124.02 606.38,125.8 608.85,126.99 611.31,127.96 613.78,128.71 616.25,129.08 618.72,129.03 621.18,128.82 623.65,128.51 626.12,128.15 628.59,127.81 631.05,127.54 633.52,127.31 635.99,127.08 638.45,126.91 640.92,126.92 643.39,128.84 645.86,132.71 648.33,137.51" fill="none" stroke="#ff2020" stroke-width="0.8"/>
<g fill="#ff0000" stroke="#8a0000" stroke-width="0.6"><path d="M473.85 86.77h3.51v3.51h-3.51z"/><path d="M476.31 83.57h3.51v3.51h-3.51z"/><path d="M478.78 80.45h3.51v3.51h-3.51z"/><path d="M481.25 77.43h3.51v3.51h-3.51z"/><path d="M483.72 74.5h3.51v3.51h-3.51z"/><path d="M486.18 71.66h3.51v3.51h-3.51z"/><path d="M488.65 68.82h3.51v3.51h-3.51z"/><path d="M491.12 66.11h3.51v3.51h-3.51z"/><path d="M493.59 63.67h3.51v3.51h-3.51z"/><path d="M496.05 61.56h3.51v3.51h-3.51z"/><path d="M498.52 59.64h3.51v3.51h-3.51z"/><path d="M500.99 57.93h3.51v3.51h-3.51z"/><path d="M503.46 56.44h3.51v3.51h-3.51z"/><path d="M505.92 55.06h3.51v3.51h-3.51z"/><path d="M508.39 53.84h3.51v3.51h-3.51z"/><path d="M510.86 52.89h3.51v3.51h-3.51z"/><path d="M513.33 52.22h3.51v3.51h-3.51z"/><path d="M515.79 51.69h3.51v3.51h-3.51z"/><path d="M518.26 51.26h3.51v3.51h-3.51z"/><path d="M520.73 50.9h3.51v3.51h-3.51z"/><path d="M523.2 50.57h3.51v3.51h-3.51z"/><path d="M525.66 50.29h3.51v3.51h-3.51z"/><path d="M528.13 50.16h3.51v3.51h-3.51z"/><path d="M530.6 50.21h3.51v3.51h-3.51z"/><path d="M533.07 50.34h3.51v3.51h-3.51z"/><path d="M535.53 50.54h3.51v3.51h-3.51z"/><path d="M538 50.82h3.51v3.51h-3.51z"/><path d="M540.47 51.5h3.51v3.51h-3.51z"/><path d="M542.94 52.53h3.51v3.51h-3.51z"/><path d="M545.4 53.76h3.51v3.51h-3.51z"/><path d="M547.87 55.08h3.51v3.51h-3.51z"/><path d="M552.81 58.7h3.51v3.51h-3.51z"/><path d="M555.27 60.79h3.51v3.51h-3.51z"/><path d="M557.74 63.09h3.51v3.51h-3.51z"/><path d="M560.21 65.57h3.51v3.51h-3.51z"/><path d="M562.68 68.16h3.51v3.51h-3.51z"/><path d="M565.14 70.9h3.51v3.51h-3.51z"/><path d="M567.61 74.05h3.51v3.51h-3.51z"/><path d="M570.08 78.16h3.51v3.51h-3.51z"/><path d="M572.54 82.88h3.51v3.51h-3.51z"/><path d="M575.01 86.72h3.51v3.51h-3.51z"/><path d="M577.48 90h3.51v3.51h-3.51z"/><path d="M579.95 93.17h3.51v3.51h-3.51z"/><path d="M582.42 96.4h3.51v3.51h-3.51z"/><path d="M584.88 99.58h3.51v3.51h-3.51z"/><path d="M587.35 102.81h3.51v3.51h-3.51z"/><path d="M589.82 106.24h3.51v3.51h-3.51z"/><path d="M592.28 110.17h3.51v3.51h-3.51z"/><path d="M594.75 114.15h3.51v3.51h-3.51z"/><path d="M597.22 117.51h3.51v3.51h-3.51z"/><path d="M599.69 120.04h3.51v3.51h-3.51z"/><path d="M602.15 122.27h3.51v3.51h-3.51z"/><path d="M604.62 124.05h3.51v3.51h-3.51z"/><path d="M607.09 125.23h3.51v3.51h-3.51z"/><path d="M609.56 126.2h3.51v3.51h-3.51z"/><path d="M612.02 126.96h3.51v3.51h-3.51z"/><path d="M614.49 127.32h3.51v3.51h-3.51z"/><path d="M616.96 127.28h3.51v3.51h-3.51z"/><path d="M619.43 127.06h3.51v3.51h-3.51z"/><path d="M621.89 126.75h3.51v3.51h-3.51z"/><path d="M624.36 126.4h3.51v3.51h-3.51z"/><path d="M626.83 126.06h3.51v3.51h-3.51z"/><path d="M629.3 125.79h3.51v3.51h-3.51z"/><path d="M631.76 125.56h3.51v3.51h-3.51z"/><path d="M634.23 125.32h3.51v3.51h-3.51z"/><path d="M636.7 125.15h3.51v3.51h-3.51z"/><path d="M639.17 125.16h3.51v3.51h-3.51z"/><path d="M641.63 127.08h3.51v3.51h-3.51z"/><path d="M644.1 130.95h3.51v3.51h-3.51z"/><path d="M646.57 135.76h3.51v3.51h-3.51z"/></g>
<polyline points="475.6,67.39 478.07,65.61 480.54,63.94 483,62.38 485.47,60.94 487.94,59.61 490.41,58.39 492.87,57.26 495.34,56.24 497.81,55.31 500.28,54.47 502.74,53.67 505.21,52.89 507.68,52.12 510.15,51.38 512.61,50.66 515.08,49.94 517.55,49.21 520.01,48.46 522.48,47.69 524.95,46.9 527.42,46.09 529.88,45.28 532.35,44.45 534.82,43.62 537.29,42.79 539.75,41.95 542.22,41.01 544.69,40.11 547.16,39.42 549.62,38.95 554.56,38.26 557.03,38.13 559.5,38.05 561.96,38 564.43,38.22 566.9,39.22 569.37,40.55 571.83,42.03 574.3,43.93 576.77,46.14 579.24,48.84 581.7,52.77 584.17,58.12 586.64,64.42 589.11,71.19 591.57,77.96 594.04,84.23 596.51,90.49 598.98,97.04 601.44,103.17 603.91,108.17 606.38,111.53 608.85,114.18 611.31,116.42 613.78,118.34 616.25,120.04 618.72,121.59 621.18,122.85 623.65,123.91 626.12,124.89 628.59,125.94 631.05,127.18 633.52,128.74 635.99,130.86 638.45,133.68 640.92,137.06 643.39,141.06 645.86,146.17 648.33,152.12" fill="none" stroke="#e6a8b0" stroke-width="0.8"/>
<g fill="#fbe0e4" stroke="#bf4a58" stroke-width="0.8"><path d="M473.85 65.63h3.51v3.51h-3.51z"/><path d="M476.31 63.86h3.51v3.51h-3.51z"/><path d="M478.78 62.19h3.51v3.51h-3.51z"/><path d="M481.25 60.63h3.51v3.51h-3.51z"/><path d="M483.72 59.18h3.51v3.51h-3.51z"/><path d="M486.18 57.86h3.51v3.51h-3.51z"/><path d="M488.65 56.63h3.51v3.51h-3.51z"/><path d="M491.12 55.51h3.51v3.51h-3.51z"/><path d="M493.59 54.48h3.51v3.51h-3.51z"/><path d="M496.05 53.56h3.51v3.51h-3.51z"/><path d="M498.52 52.71h3.51v3.51h-3.51z"/><path d="M500.99 51.92h3.51v3.51h-3.51z"/><path d="M503.46 51.13h3.51v3.51h-3.51z"/><path d="M505.92 50.37h3.51v3.51h-3.51z"/><path d="M508.39 49.63h3.51v3.51h-3.51z"/><path d="M510.86 48.9h3.51v3.51h-3.51z"/><path d="M513.33 48.18h3.51v3.51h-3.51z"/><path d="M515.79 47.45h3.51v3.51h-3.51z"/><path d="M518.26 46.71h3.51v3.51h-3.51z"/><path d="M520.73 45.94h3.51v3.51h-3.51z"/><path d="M523.2 45.15h3.51v3.51h-3.51z"/><path d="M525.66 44.34h3.51v3.51h-3.51z"/><path d="M528.13 43.52h3.51v3.51h-3.51z"/><path d="M530.6 42.69h3.51v3.51h-3.51z"/><path d="M533.07 41.87h3.51v3.51h-3.51z"/><path d="M535.53 41.04h3.51v3.51h-3.51z"/><path d="M538 40.19h3.51v3.51h-3.51z"/><path d="M540.47 39.26h3.51v3.51h-3.51z"/><path d="M542.94 38.36h3.51v3.51h-3.51z"/><path d="M545.4 37.67h3.51v3.51h-3.51z"/><path d="M547.87 37.19h3.51v3.51h-3.51z"/><path d="M552.81 36.51h3.51v3.51h-3.51z"/><path d="M555.27 36.37h3.51v3.51h-3.51z"/><path d="M557.74 36.29h3.51v3.51h-3.51z"/><path d="M560.21 36.25h3.51v3.51h-3.51z"/><path d="M562.68 36.46h3.51v3.51h-3.51z"/><path d="M565.14 37.46h3.51v3.51h-3.51z"/><path d="M567.61 38.8h3.51v3.51h-3.51z"/><path d="M570.08 40.27h3.51v3.51h-3.51z"/><path d="M572.54 42.17h3.51v3.51h-3.51z"/><path d="M575.01 44.38h3.51v3.51h-3.51z"/><path d="M577.48 47.09h3.51v3.51h-3.51z"/><path d="M579.95 51.02h3.51v3.51h-3.51z"/><path d="M582.42 56.36h3.51v3.51h-3.51z"/><path d="M584.88 62.66h3.51v3.51h-3.51z"/><path d="M587.35 69.44h3.51v3.51h-3.51z"/><path d="M589.82 76.2h3.51v3.51h-3.51z"/><path d="M592.28 82.48h3.51v3.51h-3.51z"/><path d="M594.75 88.73h3.51v3.51h-3.51z"/><path d="M597.22 95.29h3.51v3.51h-3.51z"/><path d="M599.69 101.42h3.51v3.51h-3.51z"/><path d="M602.15 106.41h3.51v3.51h-3.51z"/><path d="M604.62 109.77h3.51v3.51h-3.51z"/><path d="M607.09 112.43h3.51v3.51h-3.51z"/><path d="M609.56 114.66h3.51v3.51h-3.51z"/><path d="M612.02 116.58h3.51v3.51h-3.51z"/><path d="M614.49 118.28h3.51v3.51h-3.51z"/><path d="M616.96 119.83h3.51v3.51h-3.51z"/><path d="M619.43 121.09h3.51v3.51h-3.51z"/><path d="M621.89 122.15h3.51v3.51h-3.51z"/><path d="M624.36 123.14h3.51v3.51h-3.51z"/><path d="M626.83 124.19h3.51v3.51h-3.51z"/><path d="M629.3 125.43h3.51v3.51h-3.51z"/><path d="M631.76 126.99h3.51v3.51h-3.51z"/><path d="M634.23 129.11h3.51v3.51h-3.51z"/><path d="M636.7 131.92h3.51v3.51h-3.51z"/><path d="M639.17 135.31h3.51v3.51h-3.51z"/><path d="M641.63 139.3h3.51v3.51h-3.51z"/><path d="M644.1 144.42h3.51v3.51h-3.51z"/><path d="M646.57 150.37h3.51v3.51h-3.51z"/></g>
<polyline points="475.6,57.07 478.07,56.24 480.54,55.45 483,54.72 485.47,54.05 487.94,53.47 490.41,52.96 492.87,52.51 495.34,52.08 497.81,51.68 500.28,51.27 502.74,50.85 505.21,50.41 507.68,49.95 510.15,49.48 512.61,49.01 515.08,48.53 517.55,48.06 520.01,47.58 522.48,47.11 524.95,46.58 527.42,46.01 529.88,45.44 532.35,44.91 534.82,44.47 537.29,44.14 539.75,43.95 542.22,43.81 544.69,43.71 547.16,43.67 549.62,44.58 554.56,47.61 557.03,49.47 559.5,51.59 561.96,53.95 564.43,56.51 566.9,59.36 569.37,62.58 571.83,66.34 574.3,70.64 576.77,75.04 579.24,79.44 581.7,84.09 584.17,89.03 586.64,94.03 589.11,98.82 591.57,103.14 594.04,107.27 596.51,111.42 598.98,115.22 601.44,118.32 603.91,120.32 606.38,121.58 608.85,122.61 611.31,123.36 613.78,123.76 616.25,123.93 618.72,124.04 621.18,124.11 623.65,124.17 626.12,124.22 628.59,124.3 631.05,124.43 633.52,124.62 635.99,125.72 638.45,128 640.92,130.64 643.39,133.51 645.86,136.99 648.33,140.95" fill="none" stroke="#5cb87c" stroke-width="1.3"/>
<g fill="#36d85a" stroke="#17521f" stroke-width="0.5"><path d="M475.6 55.12l1.95 3.61h-3.9z"/><path d="M478.07 54.29l1.95 3.61h-3.9z"/><path d="M480.54 53.5l1.95 3.61h-3.9z"/><path d="M483 52.77l1.95 3.61h-3.9z"/><path d="M485.47 52.1l1.95 3.61h-3.9z"/><path d="M487.94 51.52l1.95 3.61h-3.9z"/><path d="M490.41 51.01l1.95 3.61h-3.9z"/><path d="M492.87 50.56l1.95 3.61h-3.9z"/><path d="M495.34 50.13l1.95 3.61h-3.9z"/><path d="M497.81 49.73l1.95 3.61h-3.9z"/><path d="M500.28 49.32l1.95 3.61h-3.9z"/><path d="M502.74 48.9l1.95 3.61h-3.9z"/><path d="M505.21 48.46l1.95 3.61h-3.9z"/><path d="M507.68 48l1.95 3.61h-3.9z"/><path d="M510.15 47.53l1.95 3.61h-3.9z"/><path d="M512.61 47.06l1.95 3.61h-3.9z"/><path d="M515.08 46.58l1.95 3.61h-3.9z"/><path d="M517.55 46.11l1.95 3.61h-3.9z"/><path d="M520.01 45.63l1.95 3.61h-3.9z"/><path d="M522.48 45.16l1.95 3.61h-3.9z"/><path d="M524.95 44.63l1.95 3.61h-3.9z"/><path d="M527.42 44.06l1.95 3.61h-3.9z"/><path d="M529.88 43.49l1.95 3.61h-3.9z"/><path d="M532.35 42.96l1.95 3.61h-3.9z"/><path d="M534.82 42.52l1.95 3.61h-3.9z"/><path d="M537.29 42.19l1.95 3.61h-3.9z"/><path d="M539.75 42l1.95 3.61h-3.9z"/><path d="M542.22 41.86l1.95 3.61h-3.9z"/><path d="M544.69 41.76l1.95 3.61h-3.9z"/><path d="M547.16 41.72l1.95 3.61h-3.9z"/><path d="M549.62 42.63l1.95 3.61h-3.9z"/><path d="M554.56 45.66l1.95 3.61h-3.9z"/><path d="M557.03 47.52l1.95 3.61h-3.9z"/><path d="M559.5 49.64l1.95 3.61h-3.9z"/><path d="M561.96 52l1.95 3.61h-3.9z"/><path d="M564.43 54.56l1.95 3.61h-3.9z"/><path d="M566.9 57.41l1.95 3.61h-3.9z"/><path d="M569.37 60.63l1.95 3.61h-3.9z"/><path d="M571.83 64.39l1.95 3.61h-3.9z"/><path d="M574.3 68.69l1.95 3.61h-3.9z"/><path d="M576.77 73.09l1.95 3.61h-3.9z"/><path d="M579.24 77.49l1.95 3.61h-3.9z"/><path d="M581.7 82.14l1.95 3.61h-3.9z"/><path d="M584.17 87.08l1.95 3.61h-3.9z"/><path d="M586.64 92.08l1.95 3.61h-3.9z"/><path d="M589.11 96.87l1.95 3.61h-3.9z"/><path d="M591.57 101.19l1.95 3.61h-3.9z"/><path d="M594.04 105.32l1.95 3.61h-3.9z"/><path d="M596.51 109.47l1.95 3.61h-3.9z"/><path d="M598.98 113.27l1.95 3.61h-3.9z"/><path d="M601.44 116.37l1.95 3.61h-3.9z"/><path d="M603.91 118.37l1.95 3.61h-3.9z"/><path d="M606.38 119.63l1.95 3.61h-3.9z"/><path d="M608.85 120.66l1.95 3.61h-3.9z"/><path d="M611.31 121.41l1.95 3.61h-3.9z"/><path d="M613.78 121.81l1.95 3.61h-3.9z"/><path d="M616.25 121.98l1.95 3.61h-3.9z"/><path d="M618.72 122.09l1.95 3.61h-3.9z"/><path d="M621.18 122.16l1.95 3.61h-3.9z"/><path d="M623.65 122.22l1.95 3.61h-3.9z"/><path d="M626.12 122.27l1.95 3.61h-3.9z"/><path d="M628.59 122.35l1.95 3.61h-3.9z"/><path d="M631.05 122.48l1.95 3.61h-3.9z"/><path d="M633.52 122.67l1.95 3.61h-3.9z"/><path d="M635.99 123.77l1.95 3.61h-3.9z"/><path d="M638.45 126.05l1.95 3.61h-3.9z"/><path d="M640.92 128.69l1.95 3.61h-3.9z"/><path d="M643.39 131.56l1.95 3.61h-3.9z"/><path d="M645.86 135.04l1.95 3.61h-3.9z"/><path d="M648.33 139l1.95 3.61h-3.9z"/></g>
<polyline points="475.6,80.62 478.07,78.53 480.54,76.44 483,74.36 485.47,72.28 487.94,70.2 490.41,68.06 492.87,65.95 495.34,63.97 497.81,62.18 500.28,60.48 502.74,58.92 505.21,57.54 507.68,56.29 510.15,55.16 512.61,54.16 515.08,53.29 517.55,52.51 520.01,51.81 522.48,51.19 524.95,50.59 527.42,50.07 529.88,49.71 532.35,49.49 534.82,49.3 537.29,49.19 539.75,49.2 542.22,49.51 544.69,50.07 547.16,50.79 549.62,51.57 554.56,54.02 557.03,55.72 559.5,57.86 561.96,60.29 564.43,62.94 566.9,65.99 569.37,69.29 571.83,72.79 574.3,76.57 576.77,80.51 579.24,84.67 581.7,89.09 584.17,93.87 586.64,98.55 589.11,102.64 591.57,105.89 594.04,108.87 596.51,111.34 598.98,112.93 601.44,113.92 603.91,114.74 606.38,115.3 608.85,115.51 611.31,115.5 613.78,115.46 616.25,115.4 618.72,115.34 621.18,115.28 623.65,115.22 626.12,115.18 628.59,115.17 631.05,115.65 633.52,116.89 635.99,118.55 638.45,120.32 640.92,122.3 643.39,124.73 645.86,127.54 648.33,130.64" fill="none" stroke="#8ccdf0" stroke-width="1.4"/>
<g fill="#4cb1f2" stroke="#2a5fb0" stroke-width="0.6"><path d="M475.6 78.24l2.38 2.38l-2.38 2.38l-2.38 -2.38z"/><path d="M478.07 76.15l2.38 2.38l-2.38 2.38l-2.38 -2.38z"/><path d="M480.54 74.06l2.38 2.38l-2.38 2.38l-2.38 -2.38z"/><path d="M483 71.98l2.38 2.38l-2.38 2.38l-2.38 -2.38z"/><path d="M485.47 69.9l2.38 2.38l-2.38 2.38l-2.38 -2.38z"/><path d="M487.94 67.82l2.38 2.38l-2.38 2.38l-2.38 -2.38z"/><path d="M490.41 65.68l2.38 2.38l-2.38 2.38l-2.38 -2.38z"/><path d="M492.87 63.57l2.38 2.38l-2.38 2.38l-2.38 -2.38z"/><path d="M495.34 61.6l2.38 2.38l-2.38 2.38l-2.38 -2.38z"/><path d="M497.81 59.8l2.38 2.38l-2.38 2.38l-2.38 -2.38z"/><path d="M500.28 58.1l2.38 2.38l-2.38 2.38l-2.38 -2.38z"/><path d="M502.74 56.54l2.38 2.38l-2.38 2.38l-2.38 -2.38z"/><path d="M505.21 55.16l2.38 2.38l-2.38 2.38l-2.38 -2.38z"/><path d="M507.68 53.91l2.38 2.38l-2.38 2.38l-2.38 -2.38z"/><path d="M510.15 52.78l2.38 2.38l-2.38 2.38l-2.38 -2.38z"/><path d="M512.61 51.78l2.38 2.38l-2.38 2.38l-2.38 -2.38z"/><path d="M515.08 50.91l2.38 2.38l-2.38 2.38l-2.38 -2.38z"/><path d="M517.55 50.13l2.38 2.38l-2.38 2.38l-2.38 -2.38z"/><path d="M520.01 49.43l2.38 2.38l-2.38 2.38l-2.38 -2.38z"/><path d="M522.48 48.81l2.38 2.38l-2.38 2.38l-2.38 -2.38z"/><path d="M524.95 48.21l2.38 2.38l-2.38 2.38l-2.38 -2.38z"/><path d="M527.42 47.69l2.38 2.38l-2.38 2.38l-2.38 -2.38z"/><path d="M529.88 47.33l2.38 2.38l-2.38 2.38l-2.38 -2.38z"/><path d="M532.35 47.11l2.38 2.38l-2.38 2.38l-2.38 -2.38z"/><path d="M534.82 46.92l2.38 2.38l-2.38 2.38l-2.38 -2.38z"/><path d="M537.29 46.81l2.38 2.38l-2.38 2.38l-2.38 -2.38z"/><path d="M539.75 46.82l2.38 2.38l-2.38 2.38l-2.38 -2.38z"/><path d="M542.22 47.13l2.38 2.38l-2.38 2.38l-2.38 -2.38z"/><path d="M544.69 47.69l2.38 2.38l-2.38 2.38l-2.38 -2.38z"/><path d="M547.16 48.41l2.38 2.38l-2.38 2.38l-2.38 -2.38z"/><path d="M549.62 49.19l2.38 2.38l-2.38 2.38l-2.38 -2.38z"/><path d="M554.56 51.64l2.38 2.38l-2.38 2.38l-2.38 -2.38z"/><path d="M557.03 53.35l2.38 2.38l-2.38 2.38l-2.38 -2.38z"/><path d="M559.5 55.48l2.38 2.38l-2.38 2.38l-2.38 -2.38z"/><path d="M561.96 57.91l2.38 2.38l-2.38 2.38l-2.38 -2.38z"/><path d="M564.43 60.56l2.38 2.38l-2.38 2.38l-2.38 -2.38z"/><path d="M566.9 63.61l2.38 2.38l-2.38 2.38l-2.38 -2.38z"/><path d="M569.37 66.91l2.38 2.38l-2.38 2.38l-2.38 -2.38z"/><path d="M571.83 70.41l2.38 2.38l-2.38 2.38l-2.38 -2.38z"/><path d="M574.3 74.19l2.38 2.38l-2.38 2.38l-2.38 -2.38z"/><path d="M576.77 78.13l2.38 2.38l-2.38 2.38l-2.38 -2.38z"/><path d="M579.24 82.29l2.38 2.38l-2.38 2.38l-2.38 -2.38z"/><path d="M581.7 86.71l2.38 2.38l-2.38 2.38l-2.38 -2.38z"/><path d="M584.17 91.49l2.38 2.38l-2.38 2.38l-2.38 -2.38z"/><path d="M586.64 96.17l2.38 2.38l-2.38 2.38l-2.38 -2.38z"/><path d="M589.11 100.26l2.38 2.38l-2.38 2.38l-2.38 -2.38z"/><path d="M591.57 103.51l2.38 2.38l-2.38 2.38l-2.38 -2.38z"/><path d="M594.04 106.49l2.38 2.38l-2.38 2.38l-2.38 -2.38z"/><path d="M596.51 108.96l2.38 2.38l-2.38 2.38l-2.38 -2.38z"/><path d="M598.98 110.56l2.38 2.38l-2.38 2.38l-2.38 -2.38z"/><path d="M601.44 111.54l2.38 2.38l-2.38 2.38l-2.38 -2.38z"/><path d="M603.91 112.36l2.38 2.38l-2.38 2.38l-2.38 -2.38z"/><path d="M606.38 112.92l2.38 2.38l-2.38 2.38l-2.38 -2.38z"/><path d="M608.85 113.13l2.38 2.38l-2.38 2.38l-2.38 -2.38z"/><path d="M611.31 113.12l2.38 2.38l-2.38 2.38l-2.38 -2.38z"/><path d="M613.78 113.08l2.38 2.38l-2.38 2.38l-2.38 -2.38z"/><path d="M616.25 113.02l2.38 2.38l-2.38 2.38l-2.38 -2.38z"/><path d="M618.72 112.96l2.38 2.38l-2.38 2.38l-2.38 -2.38z"/><path d="M621.18 112.9l2.38 2.38l-2.38 2.38l-2.38 -2.38z"/><path d="M623.65 112.84l2.38 2.38l-2.38 2.38l-2.38 -2.38z"/><path d="M626.12 112.8l2.38 2.38l-2.38 2.38l-2.38 -2.38z"/><path d="M628.59 112.79l2.38 2.38l-2.38 2.38l-2.38 -2.38z"/><path d="M631.05 113.27l2.38 2.38l-2.38 2.38l-2.38 -2.38z"/><path d="M633.52 114.51l2.38 2.38l-2.38 2.38l-2.38 -2.38z"/><path d="M635.99 116.17l2.38 2.38l-2.38 2.38l-2.38 -2.38z"/><path d="M638.45 117.95l2.38 2.38l-2.38 2.38l-2.38 -2.38z"/><path d="M640.92 119.92l2.38 2.38l-2.38 2.38l-2.38 -2.38z"/><path d="M643.39 122.35l2.38 2.38l-2.38 2.38l-2.38 -2.38z"/><path d="M645.86 125.16l2.38 2.38l-2.38 2.38l-2.38 -2.38z"/><path d="M648.33 128.26l2.38 2.38l-2.38 2.38l-2.38 -2.38z"/></g>
<path d="M629.6 24H640.4" stroke="#4a78a8" stroke-width="0.9"/>
<path d="M633.18 24a1.61 1.61 0 1 0 3.23 0a1.61 1.61 0 1 0 -3.23 0z" fill="#000000"/>
<text transform="translate(641.3 26.42) scale(0.067 0.0737)">2 Weeks</text>
<path d="M629.6 34H640.4" stroke="#ff2020" stroke-width="0.9"/>
<path d="M633.27 32.47h3.06v3.06h-3.06z" fill="#ff0000" stroke="#8a0000" stroke-width="0.6"/>
<text transform="translate(641.3 36.42) scale(0.067 0.0737)">4 Weeks</text>
<path d="M629.6 44.5H640.4" stroke="#e6a8b0" stroke-width="0.9"/>
<path d="M633.27 42.97h3.06v3.06h-3.06z" fill="#fbe0e4" stroke="#bf4a58" stroke-width="0.8"/>
<text transform="translate(641.3 46.92) scale(0.067 0.0737)">8 Weeks</text>
<path d="M629.6 54.6H640.4" stroke="#5cb87c" stroke-width="1.4"/>
<path d="M634.8 52.9l1.7 3.15h-3.4z" fill="#36d85a" stroke="#17521f" stroke-width="0.5"/>
<text transform="translate(641.3 57.02) scale(0.067 0.0737)">12 Weeks</text>
<path d="M629.6 65H640.4" stroke="#8ccdf0" stroke-width="1.5"/>
<path d="M634.8 62.93l2.07 2.07l-2.07 2.07l-2.07 -2.07z" fill="#4cb1f2" stroke="#2a5fb0" stroke-width="0.6"/>
<text transform="translate(641.3 67.42) scale(0.067 0.0737)">16 Weeks</text>
<text transform="translate(572.2 173) scale(0.075 0.075)" text-anchor="middle">Log (Freq/Hz)</text>
<text transform="translate(461.5 84.9) rotate(-90) scale(0.072 0.072)" text-anchor="middle">Phase Angle (Φ)</text>
<text stroke="#111" stroke-width="2.5" transform="translate(454.6 11.2) scale(0.095 0.1045)">(C)</text>
<!-- panel D -->
<path d="M27.4 190.6H221.4" stroke="#999" stroke-width="1"/>
<path d="M220.9 190.6V327.1" stroke="#999" stroke-width="1"/>
<path d="M27.4 190.6V327.1M27.4 327.1H220.9" stroke="#3a3a3a" stroke-width="0.6" fill="none"/>
<path d="M27.4 324.5V329.4M48.9 324.5V329.4M70.4 324.5V329.4M91.9 324.5V329.4M113.4 324.5V329.4M134.9 324.5V329.4M156.4 324.5V329.4M177.9 324.5V329.4M199.4 324.5V329.4M220.9 324.5V329.4M25.2 327.1H29.6M25.2 311.93H29.6M25.2 296.77H29.6M25.2 281.6H29.6M25.2 266.43H29.6M25.2 251.27H29.6M25.2 236.1H29.6M25.2 220.93H29.6M25.2 205.77H29.6M25.2 190.6H29.6" stroke="#4a4a4a" stroke-width="0.6" fill="none"/>
<path d="M27.4 327.1V329M31.7 327.1V329M36 327.1V329M40.3 327.1V329M44.6 327.1V329M48.9 327.1V329M53.2 327.1V329M57.5 327.1V329M61.8 327.1V329M66.1 327.1V329M70.4 327.1V329M74.7 327.1V329M79 327.1V329M83.3 327.1V329M87.6 327.1V329M91.9 327.1V329M96.2 327.1V329M100.5 327.1V329M104.8 327.1V329M109.1 327.1V329M113.4 327.1V329M117.7 327.1V329M122 327.1V329M126.3 327.1V329M130.6 327.1V329M134.9 327.1V329M139.2 327.1V329M143.5 327.1V329M147.8 327.1V329M152.1 327.1V329M156.4 327.1V329M160.7 327.1V329M165 327.1V329M169.3 327.1V329M173.6 327.1V329M177.9 327.1V329M182.2 327.1V329M186.5 327.1V329M190.8 327.1V329M195.1 327.1V329M199.4 327.1V329M203.7 327.1V329M208 327.1V329M212.3 327.1V329M216.6 327.1V329M220.9 327.1V329M25.4 327.1H27.4M25.4 324.07H27.4M25.4 321.03H27.4M25.4 318H27.4M25.4 314.97H27.4M25.4 311.93H27.4M25.4 308.9H27.4M25.4 305.87H27.4M25.4 302.83H27.4M25.4 299.8H27.4M25.4 296.77H27.4M25.4 293.73H27.4M25.4 290.7H27.4M25.4 287.67H27.4M25.4 284.63H27.4M25.4 281.6H27.4M25.4 278.57H27.4M25.4 275.53H27.4M25.4 272.5H27.4M25.4 269.47H27.4M25.4 266.43H27.4M25.4 263.4H27.4M25.4 260.37H27.4M25.4 257.33H27.4M25.4 254.3H27.4M25.4 251.27H27.4M25.4 248.23H27.4M25.4 245.2H27.4M25.4 242.17H27.4M25.4 239.13H27.4M25.4 236.1H27.4M25.4 233.07H27.4M25.4 230.03H27.4M25.4 227H27.4M25.4 223.97H27.4M25.4 220.93H27.4M25.4 217.9H27.4M25.4 214.87H27.4M25.4 211.83H27.4M25.4 208.8H27.4M25.4 205.77H27.4M25.4 202.73H27.4M25.4 199.7H27.4M25.4 196.67H27.4M25.4 193.63H27.4M25.4 190.6H27.4" stroke="#222" stroke-width="0.6" fill="none"/>
<text transform="translate(27.4 336.9) scale(0.065 0.0728)" text-anchor="middle">0</text>
<text transform="translate(48.9 336.9) scale(0.065 0.0728)" text-anchor="middle">10</text>
<text transform="translate(70.4 336.9) scale(0.065 0.0728)" text-anchor="middle">20</text>
<text transform="translate(91.9 336.9) scale(0.065 0.0728)" text-anchor="middle">30</text>
<text transform="translate(113.4 336.9) scale(0.065 0.0728)" text-anchor="middle">40</text>
<text transform="translate(134.9 336.9) scale(0.065 0.0728)" text-anchor="middle">50</text>
<text transform="translate(156.4 336.9) scale(0.065 0.0728)" text-anchor="middle">60</text>
<text transform="translate(177.9 336.9) scale(0.065 0.0728)" text-anchor="middle">70</text>
<text transform="translate(199.4 336.9) scale(0.065 0.0728)" text-anchor="middle">80</text>
<text transform="translate(220.9 336.9) scale(0.065 0.0728)" text-anchor="middle">90</text>
<text transform="translate(22.2 329.06) scale(0.065 0.0728)" text-anchor="end">0.0</text>
<text transform="translate(22.2 313.89) scale(0.065 0.0728)" text-anchor="end">10.0</text>
<text transform="translate(22.2 298.73) scale(0.065 0.0728)" text-anchor="end">20.0</text>
<text transform="translate(22.2 283.56) scale(0.065 0.0728)" text-anchor="end">30.0</text>
<text transform="translate(22.2 268.39) scale(0.065 0.0728)" text-anchor="end">40.0</text>
<text transform="translate(22.2 253.23) scale(0.065 0.0728)" text-anchor="end">50.0</text>
<text transform="translate(22.2 238.06) scale(0.065 0.0728)" text-anchor="end">60.0</text>
<text transform="translate(22.2 222.89) scale(0.065 0.0728)" text-anchor="end">70.0</text>
<text transform="translate(22.2 207.73) scale(0.065 0.0728)" text-anchor="end">80.0</text>
<text transform="translate(22.2 192.56) scale(0.065 0.0728)" text-anchor="end">90.0</text>
<polyline points="39.55,240.65 36.76,257.08 34.61,270.38 32.96,281.16 31.69,289.89 30.71,296.96 29.95,302.68 29.37,307.32 28.92,311.08 28.58,314.12 28.31,316.59 28.11,318.59 27.95,320.2 27.83,321.51 27.74,322.58 27.67,323.44 27.61,324.13 27.57,324.7 27.54,325.15 27.51,325.52 27.49,325.82 27.48,326.06 27.46,326.26 27.46,326.42 27.45,326.55 27.44,326.65 27.44,326.74 27.44,326.81 27.43,326.86 27.43,326.91 27.43,326.94 27.43,326.97 27.43,327 27.43,327.02 27.43,327.03 27.43,327.05 27.43,327.06 27.43,327.06 27.43,327.07 27.43,327.08 27.43,327.08 27.43,327.08 27.43,327.09 27.43,327.09 27.43,327.09 27.43,327.09 27.43,327.09 27.43,327.1 27.43,327.1 27.43,327.1 27.43,327.1 27.43,327.1 27.43,327.1 27.43,327.1 27.43,327.1 27.43,327.1 27.43,327.1 27.43,327.1 27.43,327.1 27.43,327.1 27.43,327.1 27.43,327.1 27.43,327.1 27.43,327.1 27.43,327.1 27.43,327.1 27.43,327.1 27.43,327.1 27.43,327.1 27.43,327.1 27.43,327.1" fill="none" stroke="#111111" stroke-width="0.9"/>
<g fill="#000000"><path d="M37.7 240.65a1.85 1.85 0 1 0 3.7 0a1.85 1.85 0 1 0 -3.7 0z"/><path d="M34.91 257.08a1.85 1.85 0 1 0 3.7 0a1.85 1.85 0 1 0 -3.7 0z"/><path d="M32.76 270.38a1.85 1.85 0 1 0 3.7 0a1.85 1.85 0 1 0 -3.7 0z"/><path d="M31.11 281.16a1.85 1.85 0 1 0 3.7 0a1.85 1.85 0 1 0 -3.7 0z"/><path d="M29.83 289.89a1.85 1.85 0 1 0 3.7 0a1.85 1.85 0 1 0 -3.7 0z"/><path d="M28.85 296.96a1.85 1.85 0 1 0 3.7 0a1.85 1.85 0 1 0 -3.7 0z"/><path d="M28.1 302.68a1.85 1.85 0 1 0 3.7 0a1.85 1.85 0 1 0 -3.7 0z"/><path d="M27.52 307.32a1.85 1.85 0 1 0 3.7 0a1.85 1.85 0 1 0 -3.7 0z"/><path d="M27.07 311.08a1.85 1.85 0 1 0 3.7 0a1.85 1.85 0 1 0 -3.7 0z"/><path d="M26.73 314.12a1.85 1.85 0 1 0 3.7 0a1.85 1.85 0 1 0 -3.7 0z"/><path d="M26.46 316.59a1.85 1.85 0 1 0 3.7 0a1.85 1.85 0 1 0 -3.7 0z"/><path d="M26.26 318.59a1.85 1.85 0 1 0 3.7 0a1.85 1.85 0 1 0 -3.7 0z"/><path d="M26.1 320.2a1.85 1.85 0 1 0 3.7 0a1.85 1.85 0 1 0 -3.7 0z"/><path d="M25.98 321.51a1.85 1.85 0 1 0 3.7 0a1.85 1.85 0 1 0 -3.7 0z"/><path d="M25.89 322.58a1.85 1.85 0 1 0 3.7 0a1.85 1.85 0 1 0 -3.7 0z"/><path d="M25.81 323.44a1.85 1.85 0 1 0 3.7 0a1.85 1.85 0 1 0 -3.7 0z"/><path d="M25.76 324.13a1.85 1.85 0 1 0 3.7 0a1.85 1.85 0 1 0 -3.7 0z"/><path d="M25.72 324.7a1.85 1.85 0 1 0 3.7 0a1.85 1.85 0 1 0 -3.7 0z"/><path d="M25.68 325.15a1.85 1.85 0 1 0 3.7 0a1.85 1.85 0 1 0 -3.7 0z"/><path d="M25.66 325.52a1.85 1.85 0 1 0 3.7 0a1.85 1.85 0 1 0 -3.7 0z"/><path d="M25.64 325.82a1.85 1.85 0 1 0 3.7 0a1.85 1.85 0 1 0 -3.7 0z"/><path d="M25.62 326.06a1.85 1.85 0 1 0 3.7 0a1.85 1.85 0 1 0 -3.7 0z"/><path d="M25.61 326.26a1.85 1.85 0 1 0 3.7 0a1.85 1.85 0 1 0 -3.7 0z"/><path d="M25.6 326.42a1.85 1.85 0 1 0 3.7 0a1.85 1.85 0 1 0 -3.7 0z"/><path d="M25.6 326.55a1.85 1.85 0 1 0 3.7 0a1.85 1.85 0 1 0 -3.7 0z"/><path d="M25.59 326.65a1.85 1.85 0 1 0 3.7 0a1.85 1.85 0 1 0 -3.7 0z"/><path d="M25.59 326.74a1.85 1.85 0 1 0 3.7 0a1.85 1.85 0 1 0 -3.7 0z"/><path d="M25.58 326.81a1.85 1.85 0 1 0 3.7 0a1.85 1.85 0 1 0 -3.7 0z"/><path d="M25.58 326.86a1.85 1.85 0 1 0 3.7 0a1.85 1.85 0 1 0 -3.7 0z"/><path d="M25.58 326.91a1.85 1.85 0 1 0 3.7 0a1.85 1.85 0 1 0 -3.7 0z"/><path d="M25.58 326.94a1.85 1.85 0 1 0 3.7 0a1.85 1.85 0 1 0 -3.7 0z"/><path d="M25.58 326.97a1.85 1.85 0 1 0 3.7 0a1.85 1.85 0 1 0 -3.7 0z"/><path d="M25.58 327a1.85 1.85 0 1 0 3.7 0a1.85 1.85 0 1 0 -3.7 0z"/><path d="M25.58 327.02a1.85 1.85 0 1 0 3.7 0a1.85 1.85 0 1 0 -3.7 0z"/><path d="M25.57 327.03a1.85 1.85 0 1 0 3.7 0a1.85 1.85 0 1 0 -3.7 0z"/><path d="M25.57 327.05a1.85 1.85 0 1 0 3.7 0a1.85 1.85 0 1 0 -3.7 0z"/><path d="M25.57 327.06a1.85 1.85 0 1 0 3.7 0a1.85 1.85 0 1 0 -3.7 0z"/><path d="M25.57 327.06a1.85 1.85 0 1 0 3.7 0a1.85 1.85 0 1 0 -3.7 0z"/><path d="M25.57 327.07a1.85 1.85 0 1 0 3.7 0a1.85 1.85 0 1 0 -3.7 0z"/><path d="M25.57 327.08a1.85 1.85 0 1 0 3.7 0a1.85 1.85 0 1 0 -3.7 0z"/><path d="M25.57 327.08a1.85 1.85 0 1 0 3.7 0a1.85 1.85 0 1 0 -3.7 0z"/><path d="M25.57 327.08a1.85 1.85 0 1 0 3.7 0a1.85 1.85 0 1 0 -3.7 0z"/><path d="M25.57 327.09a1.85 1.85 0 1 0 3.7 0a1.85 1.85 0 1 0 -3.7 0z"/><path d="M25.57 327.09a1.85 1.85 0 1 0 3.7 0a1.85 1.85 0 1 0 -3.7 0z"/><path d="M25.57 327.09a1.85 1.85 0 1 0 3.7 0a1.85 1.85 0 1 0 -3.7 0z"/><path d="M25.57 327.09a1.85 1.85 0 1 0 3.7 0a1.85 1.85 0 1 0 -3.7 0z"/><path d="M25.57 327.09a1.85 1.85 0 1 0 3.7 0a1.85 1.85 0 1 0 -3.7 0z"/><path d="M25.57 327.1a1.85 1.85 0 1 0 3.7 0a1.85 1.85 0 1 0 -3.7 0z"/><path d="M25.57 327.1a1.85 1.85 0 1 0 3.7 0a1.85 1.85 0 1 0 -3.7 0z"/><path d="M25.57 327.1a1.85 1.85 0 1 0 3.7 0a1.85 1.85 0 1 0 -3.7 0z"/><path d="M25.57 327.1a1.85 1.85 0 1 0 3.7 0a1.85 1.85 0 1 0 -3.7 0z"/><path d="M25.57 327.1a1.85 1.85 0 1 0 3.7 0a1.85 1.85 0 1 0 -3.7 0z"/><path d="M25.57 327.1a1.85 1.85 0 1 0 3.7 0a1.85 1.85 0 1 0 -3.7 0z"/><path d="M25.57 327.1a1.85 1.85 0 1 0 3.7 0a1.85 1.85 0 1 0 -3.7 0z"/><path d="M25.57 327.1a1.85 1.85 0 1 0 3.7 0a1.85 1.85 0 1 0 -3.7 0z"/><path d="M25.57 327.1a1.85 1.85 0 1 0 3.7 0a1.85 1.85 0 1 0 -3.7 0z"/><path d="M25.57 327.1a1.85 1.85 0 1 0 3.7 0a1.85 1.85 0 1 0 -3.7 0z"/><path d="M25.57 327.1a1.85 1.85 0 1 0 3.7 0a1.85 1.85 0 1 0 -3.7 0z"/><path d="M25.57 327.1a1.85 1.85 0 1 0 3.7 0a1.85 1.85 0 1 0 -3.7 0z"/><path d="M25.57 327.1a1.85 1.85 0 1 0 3.7 0a1.85 1.85 0 1 0 -3.7 0z"/><path d="M25.57 327.1a1.85 1.85 0 1 0 3.7 0a1.85 1.85 0 1 0 -3.7 0z"/><path d="M25.57 327.1a1.85 1.85 0 1 0 3.7 0a1.85 1.85 0 1 0 -3.7 0z"/><path d="M25.57 327.1a1.85 1.85 0 1 0 3.7 0a1.85 1.85 0 1 0 -3.7 0z"/><path d="M25.57 327.1a1.85 1.85 0 1 0 3.7 0a1.85 1.85 0 1 0 -3.7 0z"/><path d="M25.57 327.1a1.85 1.85 0 1 0 3.7 0a1.85 1.85 0 1 0 -3.7 0z"/><path d="M25.57 327.1a1.85 1.85 0 1 0 3.7 0a1.85 1.85 0 1 0 -3.7 0z"/><path d="M25.57 327.1a1.85 1.85 0 1 0 3.7 0a1.85 1.85 0 1 0 -3.7 0z"/><path d="M25.57 327.1a1.85 1.85 0 1 0 3.7 0a1.85 1.85 0 1 0 -3.7 0z"/><path d="M25.57 327.1a1.85 1.85 0 1 0 3.7 0a1.85 1.85 0 1 0 -3.7 0z"/><path d="M25.57 327.1a1.85 1.85 0 1 0 3.7 0a1.85 1.85 0 1 0 -3.7 0z"/><path d="M25.57 327.1a1.85 1.85 0 1 0 3.7 0a1.85 1.85 0 1 0 -3.7 0z"/></g>
<polyline points="42.88,226.24 38.86,245.91 35.89,261.74 33.69,274.49 32.06,284.75 30.85,293 29.96,299.65 29.3,305.01 28.81,309.31 28.45,312.78 28.19,315.57 27.99,317.82 27.84,319.63 27.73,321.09 27.65,322.26 27.59,323.2 27.55,323.96 27.52,324.58 27.49,325.07 27.48,325.46 27.46,325.78 27.45,326.04 27.45,326.25 27.44,326.41 27.44,326.55 27.43,326.65 27.43,326.74 27.43,326.81 27.43,326.87 27.43,326.91 27.43,326.95 27.43,326.98 27.43,327 27.43,327.02 27.43,327.04 27.43,327.05 27.43,327.06 27.43,327.07 27.43,327.07 27.43,327.08 27.43,327.08 27.43,327.09 27.43,327.09 27.43,327.09 27.43,327.09 27.43,327.09 27.43,327.1 27.43,327.1 27.43,327.1 27.43,327.1 27.43,327.1 27.43,327.1 27.43,327.1 27.43,327.1 27.43,327.1 27.43,327.1 27.43,327.1 27.43,327.1 27.43,327.1 27.43,327.1 27.43,327.1 27.43,327.1 27.43,327.1 27.43,327.1 27.43,327.1 27.43,327.1 27.43,327.1 27.43,327.1 27.43,327.1 27.43,327.1 27.43,327.1" fill="none" stroke="#c81010" stroke-width="0.9"/>
<g fill="#ff0000" stroke="#8a0000" stroke-width="0.6"><path d="M41.12 224.49h3.51v3.51h-3.51z"/><path d="M37.11 244.15h3.51v3.51h-3.51z"/><path d="M34.13 259.99h3.51v3.51h-3.51z"/><path d="M31.93 272.73h3.51v3.51h-3.51z"/><path d="M30.3 282.99h3.51v3.51h-3.51z"/><path d="M29.1 291.25h3.51v3.51h-3.51z"/><path d="M28.21 297.9h3.51v3.51h-3.51z"/><path d="M27.55 303.25h3.51v3.51h-3.51z"/><path d="M27.06 307.56h3.51v3.51h-3.51z"/><path d="M26.7 311.03h3.51v3.51h-3.51z"/><path d="M26.43 313.82h3.51v3.51h-3.51z"/><path d="M26.23 316.07h3.51v3.51h-3.51z"/><path d="M26.09 317.88h3.51v3.51h-3.51z"/><path d="M25.98 319.33h3.51v3.51h-3.51z"/><path d="M25.9 320.5h3.51v3.51h-3.51z"/><path d="M25.84 321.45h3.51v3.51h-3.51z"/><path d="M25.8 322.21h3.51v3.51h-3.51z"/><path d="M25.76 322.82h3.51v3.51h-3.51z"/><path d="M25.74 323.31h3.51v3.51h-3.51z"/><path d="M25.72 323.71h3.51v3.51h-3.51z"/><path d="M25.71 324.03h3.51v3.51h-3.51z"/><path d="M25.7 324.28h3.51v3.51h-3.51z"/><path d="M25.69 324.49h3.51v3.51h-3.51z"/><path d="M25.69 324.66h3.51v3.51h-3.51z"/><path d="M25.68 324.79h3.51v3.51h-3.51z"/><path d="M25.68 324.9h3.51v3.51h-3.51z"/><path d="M25.68 324.99h3.51v3.51h-3.51z"/><path d="M25.68 325.06h3.51v3.51h-3.51z"/><path d="M25.67 325.11h3.51v3.51h-3.51z"/><path d="M25.67 325.16h3.51v3.51h-3.51z"/><path d="M25.67 325.19h3.51v3.51h-3.51z"/><path d="M25.67 325.22h3.51v3.51h-3.51z"/><path d="M25.67 325.25h3.51v3.51h-3.51z"/><path d="M25.67 325.27h3.51v3.51h-3.51z"/><path d="M25.67 325.28h3.51v3.51h-3.51z"/><path d="M25.67 325.29h3.51v3.51h-3.51z"/><path d="M25.67 325.3h3.51v3.51h-3.51z"/><path d="M25.67 325.31h3.51v3.51h-3.51z"/><path d="M25.67 325.32h3.51v3.51h-3.51z"/><path d="M25.67 325.32h3.51v3.51h-3.51z"/><path d="M25.67 325.33h3.51v3.51h-3.51z"/><path d="M25.67 325.33h3.51v3.51h-3.51z"/><path d="M25.67 325.33h3.51v3.51h-3.51z"/><path d="M25.67 325.34h3.51v3.51h-3.51z"/><path d="M25.67 325.34h3.51v3.51h-3.51z"/><path d="M25.67 325.34h3.51v3.51h-3.51z"/><path d="M25.67 325.34h3.51v3.51h-3.51z"/><path d="M25.67 325.34h3.51v3.51h-3.51z"/><path d="M25.67 325.34h3.51v3.51h-3.51z"/><path d="M25.67 325.34h3.51v3.51h-3.51z"/><path d="M25.67 325.34h3.51v3.51h-3.51z"/><path d="M25.67 325.34h3.51v3.51h-3.51z"/><path d="M25.67 325.34h3.51v3.51h-3.51z"/><path d="M25.67 325.34h3.51v3.51h-3.51z"/><path d="M25.67 325.34h3.51v3.51h-3.51z"/><path d="M25.67 325.34h3.51v3.51h-3.51z"/><path d="M25.67 325.34h3.51v3.51h-3.51z"/><path d="M25.67 325.34h3.51v3.51h-3.51z"/><path d="M25.67 325.34h3.51v3.51h-3.51z"/><path d="M25.67 325.34h3.51v3.51h-3.51z"/><path d="M25.67 325.34h3.51v3.51h-3.51z"/><path d="M25.67 325.34h3.51v3.51h-3.51z"/><path d="M25.67 325.34h3.51v3.51h-3.51z"/><path d="M25.67 325.34h3.51v3.51h-3.51z"/><path d="M25.67 325.34h3.51v3.51h-3.51z"/><path d="M25.67 325.34h3.51v3.51h-3.51z"/><path d="M25.67 325.34h3.51v3.51h-3.51z"/><path d="M25.67 325.34h3.51v3.51h-3.51z"/><path d="M25.67 325.34h3.51v3.51h-3.51z"/><path d="M25.67 325.34h3.51v3.51h-3.51z"/><path d="M25.67 325.34h3.51v3.51h-3.51z"/></g>
<polyline points="46.1,215.93 41.06,237.5 37.38,254.88 34.69,268.89 32.73,280.18 31.3,289.28 30.25,296.62 29.49,302.53 28.93,307.3 28.52,311.14 28.23,314.24 28.01,316.73 27.85,318.74 27.74,320.36 27.65,321.67 27.59,322.72 27.55,323.57 27.51,324.26 27.49,324.81 27.47,325.25 27.46,325.61 27.45,325.9 27.44,326.13 27.44,326.32 27.44,326.47 27.43,326.59 27.43,326.69 27.43,326.77 27.43,326.83 27.43,326.89 27.43,326.93 27.43,326.96 27.43,326.99 27.43,327.01 27.43,327.03 27.43,327.04 27.43,327.05 27.43,327.06 27.43,327.07 27.43,327.08 27.43,327.08 27.43,327.08 27.43,327.09 27.43,327.09 27.43,327.09 27.43,327.09 27.43,327.09 27.43,327.1 27.43,327.1 27.43,327.1 27.43,327.1 27.43,327.1 27.43,327.1 27.43,327.1 27.43,327.1 27.43,327.1 27.43,327.1 27.43,327.1 27.43,327.1 27.43,327.1 27.43,327.1 27.43,327.1 27.43,327.1 27.43,327.1 27.43,327.1 27.43,327.1 27.43,327.1 27.43,327.1 27.43,327.1 27.43,327.1 27.43,327.1" fill="none" stroke="#f6bcc6" stroke-width="0.8"/>
<g fill="#fbe0e4" stroke="#bf4a58" stroke-width="0.8"><path d="M44.35 214.17h3.51v3.51h-3.51z"/><path d="M39.3 235.74h3.51v3.51h-3.51z"/><path d="M35.62 253.12h3.51v3.51h-3.51z"/><path d="M32.93 267.13h3.51v3.51h-3.51z"/><path d="M30.97 278.43h3.51v3.51h-3.51z"/><path d="M29.54 287.53h3.51v3.51h-3.51z"/><path d="M28.49 294.87h3.51v3.51h-3.51z"/><path d="M27.73 300.78h3.51v3.51h-3.51z"/><path d="M27.17 305.54h3.51v3.51h-3.51z"/><path d="M26.77 309.39h3.51v3.51h-3.51z"/><path d="M26.47 312.48h3.51v3.51h-3.51z"/><path d="M26.26 314.98h3.51v3.51h-3.51z"/><path d="M26.1 316.99h3.51v3.51h-3.51z"/><path d="M25.98 318.61h3.51v3.51h-3.51z"/><path d="M25.9 319.92h3.51v3.51h-3.51z"/><path d="M25.84 320.97h3.51v3.51h-3.51z"/><path d="M25.79 321.82h3.51v3.51h-3.51z"/><path d="M25.76 322.5h3.51v3.51h-3.51z"/><path d="M25.74 323.05h3.51v3.51h-3.51z"/><path d="M25.72 323.5h3.51v3.51h-3.51z"/><path d="M25.71 323.86h3.51v3.51h-3.51z"/><path d="M25.7 324.15h3.51v3.51h-3.51z"/><path d="M25.69 324.38h3.51v3.51h-3.51z"/><path d="M25.68 324.57h3.51v3.51h-3.51z"/><path d="M25.68 324.72h3.51v3.51h-3.51z"/><path d="M25.68 324.84h3.51v3.51h-3.51z"/><path d="M25.68 324.94h3.51v3.51h-3.51z"/><path d="M25.67 325.02h3.51v3.51h-3.51z"/><path d="M25.67 325.08h3.51v3.51h-3.51z"/><path d="M25.67 325.13h3.51v3.51h-3.51z"/><path d="M25.67 325.17h3.51v3.51h-3.51z"/><path d="M25.67 325.21h3.51v3.51h-3.51z"/><path d="M25.67 325.23h3.51v3.51h-3.51z"/><path d="M25.67 325.25h3.51v3.51h-3.51z"/><path d="M25.67 325.27h3.51v3.51h-3.51z"/><path d="M25.67 325.29h3.51v3.51h-3.51z"/><path d="M25.67 325.3h3.51v3.51h-3.51z"/><path d="M25.67 325.31h3.51v3.51h-3.51z"/><path d="M25.67 325.31h3.51v3.51h-3.51z"/><path d="M25.67 325.32h3.51v3.51h-3.51z"/><path d="M25.67 325.33h3.51v3.51h-3.51z"/><path d="M25.67 325.33h3.51v3.51h-3.51z"/><path d="M25.67 325.33h3.51v3.51h-3.51z"/><path d="M25.67 325.33h3.51v3.51h-3.51z"/><path d="M25.67 325.34h3.51v3.51h-3.51z"/><path d="M25.67 325.34h3.51v3.51h-3.51z"/><path d="M25.67 325.34h3.51v3.51h-3.51z"/><path d="M25.67 325.34h3.51v3.51h-3.51z"/><path d="M25.67 325.34h3.51v3.51h-3.51z"/><path d="M25.67 325.34h3.51v3.51h-3.51z"/><path d="M25.67 325.34h3.51v3.51h-3.51z"/><path d="M25.67 325.34h3.51v3.51h-3.51z"/><path d="M25.67 325.34h3.51v3.51h-3.51z"/><path d="M25.67 325.34h3.51v3.51h-3.51z"/><path d="M25.67 325.34h3.51v3.51h-3.51z"/><path d="M25.67 325.34h3.51v3.51h-3.51z"/><path d="M25.67 325.34h3.51v3.51h-3.51z"/><path d="M25.67 325.34h3.51v3.51h-3.51z"/><path d="M25.67 325.34h3.51v3.51h-3.51z"/><path d="M25.67 325.34h3.51v3.51h-3.51z"/><path d="M25.67 325.34h3.51v3.51h-3.51z"/><path d="M25.67 325.34h3.51v3.51h-3.51z"/><path d="M25.67 325.34h3.51v3.51h-3.51z"/><path d="M25.67 325.34h3.51v3.51h-3.51z"/><path d="M25.67 325.34h3.51v3.51h-3.51z"/><path d="M25.67 325.34h3.51v3.51h-3.51z"/><path d="M25.67 325.34h3.51v3.51h-3.51z"/><path d="M25.67 325.34h3.51v3.51h-3.51z"/><path d="M25.67 325.34h3.51v3.51h-3.51z"/><path d="M25.67 325.34h3.51v3.51h-3.51z"/><path d="M25.67 325.34h3.51v3.51h-3.51z"/></g>
<polyline points="47.93,217.29 43.32,238.6 39.74,255.77 36.97,269.6 34.82,280.76 33.16,289.75 31.87,296.99 30.87,302.84 30.09,307.54 29.49,311.34 29.03,314.39 28.67,316.86 28.39,318.85 28.17,320.45 28,321.74 27.87,322.78 27.77,323.62 27.69,324.29 27.63,324.84 27.59,325.28 27.55,325.63 27.52,325.92 27.5,326.15 27.48,326.33 27.47,326.48 27.46,326.6 27.45,326.7 27.45,326.78 27.44,326.84 27.44,326.89 27.44,326.93 27.43,326.96 27.43,326.99 27.43,327.01 27.43,327.03 27.43,327.04 27.43,327.05 27.43,327.06 27.43,327.07 27.43,327.08 27.43,327.08 27.43,327.08 27.43,327.09 27.43,327.09 27.43,327.09 27.43,327.09 27.43,327.09 27.43,327.1 27.43,327.1 27.43,327.1 27.43,327.1 27.43,327.1 27.43,327.1 27.43,327.1 27.43,327.1 27.43,327.1 27.43,327.1 27.43,327.1 27.43,327.1 27.43,327.1 27.43,327.1 27.43,327.1 27.43,327.1 27.43,327.1 27.43,327.1 27.43,327.1 27.43,327.1 27.43,327.1 27.43,327.1 27.43,327.1 27.43,327.1" fill="none" stroke="#3cc860" stroke-width="1"/>
<g fill="#36d85a" stroke="#17521f" stroke-width="0.5"><path d="M47.93 215.34l1.95 3.61h-3.9z"/><path d="M43.32 236.65l1.95 3.61h-3.9z"/><path d="M39.74 253.82l1.95 3.61h-3.9z"/><path d="M36.97 267.65l1.95 3.61h-3.9z"/><path d="M34.82 278.81l1.95 3.61h-3.9z"/><path d="M33.16 287.8l1.95 3.61h-3.9z"/><path d="M31.87 295.04l1.95 3.61h-3.9z"/><path d="M30.87 300.89l1.95 3.61h-3.9z"/><path d="M30.09 305.59l1.95 3.61h-3.9z"/><path d="M29.49 309.39l1.95 3.61h-3.9z"/><path d="M29.03 312.44l1.95 3.61h-3.9z"/><path d="M28.67 314.91l1.95 3.61h-3.9z"/><path d="M28.39 316.9l1.95 3.61h-3.9z"/><path d="M28.17 318.5l1.95 3.61h-3.9z"/><path d="M28 319.79l1.95 3.61h-3.9z"/><path d="M27.87 320.83l1.95 3.61h-3.9z"/><path d="M27.77 321.67l1.95 3.61h-3.9z"/><path d="M27.69 322.34l1.95 3.61h-3.9z"/><path d="M27.63 322.89l1.95 3.61h-3.9z"/><path d="M27.59 323.33l1.95 3.61h-3.9z"/><path d="M27.55 323.68l1.95 3.61h-3.9z"/><path d="M27.52 323.97l1.95 3.61h-3.9z"/><path d="M27.5 324.2l1.95 3.61h-3.9z"/><path d="M27.48 324.38l1.95 3.61h-3.9z"/><path d="M27.47 324.53l1.95 3.61h-3.9z"/><path d="M27.46 324.65l1.95 3.61h-3.9z"/><path d="M27.45 324.75l1.95 3.61h-3.9z"/><path d="M27.45 324.83l1.95 3.61h-3.9z"/><path d="M27.44 324.89l1.95 3.61h-3.9z"/><path d="M27.44 324.94l1.95 3.61h-3.9z"/><path d="M27.44 324.98l1.95 3.61h-3.9z"/><path d="M27.43 325.01l1.95 3.61h-3.9z"/><path d="M27.43 325.04l1.95 3.61h-3.9z"/><path d="M27.43 325.06l1.95 3.61h-3.9z"/><path d="M27.43 325.08l1.95 3.61h-3.9z"/><path d="M27.43 325.09l1.95 3.61h-3.9z"/><path d="M27.43 325.1l1.95 3.61h-3.9z"/><path d="M27.43 325.11l1.95 3.61h-3.9z"/><path d="M27.43 325.12l1.95 3.61h-3.9z"/><path d="M27.43 325.13l1.95 3.61h-3.9z"/><path d="M27.43 325.13l1.95 3.61h-3.9z"/><path d="M27.43 325.13l1.95 3.61h-3.9z"/><path d="M27.43 325.14l1.95 3.61h-3.9z"/><path d="M27.43 325.14l1.95 3.61h-3.9z"/><path d="M27.43 325.14l1.95 3.61h-3.9z"/><path d="M27.43 325.14l1.95 3.61h-3.9z"/><path d="M27.43 325.14l1.95 3.61h-3.9z"/><path d="M27.43 325.15l1.95 3.61h-3.9z"/><path d="M27.43 325.15l1.95 3.61h-3.9z"/><path d="M27.43 325.15l1.95 3.61h-3.9z"/><path d="M27.43 325.15l1.95 3.61h-3.9z"/><path d="M27.43 325.15l1.95 3.61h-3.9z"/><path d="M27.43 325.15l1.95 3.61h-3.9z"/><path d="M27.43 325.15l1.95 3.61h-3.9z"/><path d="M27.43 325.15l1.95 3.61h-3.9z"/><path d="M27.43 325.15l1.95 3.61h-3.9z"/><path d="M27.43 325.15l1.95 3.61h-3.9z"/><path d="M27.43 325.15l1.95 3.61h-3.9z"/><path d="M27.43 325.15l1.95 3.61h-3.9z"/><path d="M27.43 325.15l1.95 3.61h-3.9z"/><path d="M27.43 325.15l1.95 3.61h-3.9z"/><path d="M27.43 325.15l1.95 3.61h-3.9z"/><path d="M27.43 325.15l1.95 3.61h-3.9z"/><path d="M27.43 325.15l1.95 3.61h-3.9z"/><path d="M27.43 325.15l1.95 3.61h-3.9z"/><path d="M27.43 325.15l1.95 3.61h-3.9z"/><path d="M27.43 325.15l1.95 3.61h-3.9z"/><path d="M27.43 325.15l1.95 3.61h-3.9z"/><path d="M27.43 325.15l1.95 3.61h-3.9z"/><path d="M27.43 325.15l1.95 3.61h-3.9z"/><path d="M27.43 325.15l1.95 3.61h-3.9z"/></g>
<polyline points="51.05,211.23 45.85,233.47 41.8,251.45 38.64,265.98 36.17,277.71 34.25,287.19 32.75,294.86 31.57,301.05 30.66,306.05 29.95,310.09 29.39,313.36 28.96,316 28.62,318.13 28.36,319.85 28.15,321.24 27.99,322.37 27.87,323.28 27.77,324.01 27.7,324.6 27.64,325.08 27.59,325.47 27.55,325.78 27.53,326.04 27.5,326.24 27.49,326.41 27.47,326.54 27.46,326.65 27.45,326.73 27.45,326.8 27.44,326.86 27.44,326.91 27.44,326.94 27.43,326.97 27.43,327 27.43,327.02 27.43,327.03 27.43,327.05 27.43,327.06 27.43,327.06 27.43,327.07 27.43,327.08 27.43,327.08 27.43,327.09 27.43,327.09 27.43,327.09 27.43,327.09 27.43,327.09 27.43,327.09 27.43,327.1 27.43,327.1 27.43,327.1 27.43,327.1 27.43,327.1 27.43,327.1 27.43,327.1 27.43,327.1 27.43,327.1 27.43,327.1 27.43,327.1 27.43,327.1 27.43,327.1 27.43,327.1 27.43,327.1 27.43,327.1 27.43,327.1 27.43,327.1 27.43,327.1 27.43,327.1 27.43,327.1 27.43,327.1 27.43,327.1" fill="none" stroke="#3a9be0" stroke-width="0.9"/>
<g fill="#4cb1f2" stroke="#2a5fb0" stroke-width="0.6"><path d="M51.05 208.85l2.38 2.38l-2.38 2.38l-2.38 -2.38z"/><path d="M45.85 231.1l2.38 2.38l-2.38 2.38l-2.38 -2.38z"/><path d="M41.8 249.07l2.38 2.38l-2.38 2.38l-2.38 -2.38z"/><path d="M38.64 263.6l2.38 2.38l-2.38 2.38l-2.38 -2.38z"/><path d="M36.17 275.33l2.38 2.38l-2.38 2.38l-2.38 -2.38z"/><path d="M34.25 284.81l2.38 2.38l-2.38 2.38l-2.38 -2.38z"/><path d="M32.75 292.48l2.38 2.38l-2.38 2.38l-2.38 -2.38z"/><path d="M31.57 298.67l2.38 2.38l-2.38 2.38l-2.38 -2.38z"/><path d="M30.66 303.67l2.38 2.38l-2.38 2.38l-2.38 -2.38z"/><path d="M29.95 307.71l2.38 2.38l-2.38 2.38l-2.38 -2.38z"/><path d="M29.39 310.98l2.38 2.38l-2.38 2.38l-2.38 -2.38z"/><path d="M28.96 313.62l2.38 2.38l-2.38 2.38l-2.38 -2.38z"/><path d="M28.62 315.75l2.38 2.38l-2.38 2.38l-2.38 -2.38z"/><path d="M28.36 317.47l2.38 2.38l-2.38 2.38l-2.38 -2.38z"/><path d="M28.15 318.86l2.38 2.38l-2.38 2.38l-2.38 -2.38z"/><path d="M27.99 319.99l2.38 2.38l-2.38 2.38l-2.38 -2.38z"/><path d="M27.87 320.9l2.38 2.38l-2.38 2.38l-2.38 -2.38z"/><path d="M27.77 321.63l2.38 2.38l-2.38 2.38l-2.38 -2.38z"/><path d="M27.7 322.22l2.38 2.38l-2.38 2.38l-2.38 -2.38z"/><path d="M27.64 322.7l2.38 2.38l-2.38 2.38l-2.38 -2.38z"/><path d="M27.59 323.09l2.38 2.38l-2.38 2.38l-2.38 -2.38z"/><path d="M27.55 323.4l2.38 2.38l-2.38 2.38l-2.38 -2.38z"/><path d="M27.53 323.66l2.38 2.38l-2.38 2.38l-2.38 -2.38z"/><path d="M27.5 323.86l2.38 2.38l-2.38 2.38l-2.38 -2.38z"/><path d="M27.49 324.03l2.38 2.38l-2.38 2.38l-2.38 -2.38z"/><path d="M27.47 324.16l2.38 2.38l-2.38 2.38l-2.38 -2.38z"/><path d="M27.46 324.27l2.38 2.38l-2.38 2.38l-2.38 -2.38z"/><path d="M27.45 324.35l2.38 2.38l-2.38 2.38l-2.38 -2.38z"/><path d="M27.45 324.42l2.38 2.38l-2.38 2.38l-2.38 -2.38z"/><path d="M27.44 324.48l2.38 2.38l-2.38 2.38l-2.38 -2.38z"/><path d="M27.44 324.53l2.38 2.38l-2.38 2.38l-2.38 -2.38z"/><path d="M27.44 324.56l2.38 2.38l-2.38 2.38l-2.38 -2.38z"/><path d="M27.43 324.59l2.38 2.38l-2.38 2.38l-2.38 -2.38z"/><path d="M27.43 324.62l2.38 2.38l-2.38 2.38l-2.38 -2.38z"/><path d="M27.43 324.64l2.38 2.38l-2.38 2.38l-2.38 -2.38z"/><path d="M27.43 324.65l2.38 2.38l-2.38 2.38l-2.38 -2.38z"/><path d="M27.43 324.67l2.38 2.38l-2.38 2.38l-2.38 -2.38z"/><path d="M27.43 324.68l2.38 2.38l-2.38 2.38l-2.38 -2.38z"/><path d="M27.43 324.69l2.38 2.38l-2.38 2.38l-2.38 -2.38z"/><path d="M27.43 324.69l2.38 2.38l-2.38 2.38l-2.38 -2.38z"/><path d="M27.43 324.7l2.38 2.38l-2.38 2.38l-2.38 -2.38z"/><path d="M27.43 324.7l2.38 2.38l-2.38 2.38l-2.38 -2.38z"/><path d="M27.43 324.71l2.38 2.38l-2.38 2.38l-2.38 -2.38z"/><path d="M27.43 324.71l2.38 2.38l-2.38 2.38l-2.38 -2.38z"/><path d="M27.43 324.71l2.38 2.38l-2.38 2.38l-2.38 -2.38z"/><path d="M27.43 324.71l2.38 2.38l-2.38 2.38l-2.38 -2.38z"/><path d="M27.43 324.71l2.38 2.38l-2.38 2.38l-2.38 -2.38z"/><path d="M27.43 324.72l2.38 2.38l-2.38 2.38l-2.38 -2.38z"/><path d="M27.43 324.72l2.38 2.38l-2.38 2.38l-2.38 -2.38z"/><path d="M27.43 324.72l2.38 2.38l-2.38 2.38l-2.38 -2.38z"/><path d="M27.43 324.72l2.38 2.38l-2.38 2.38l-2.38 -2.38z"/><path d="M27.43 324.72l2.38 2.38l-2.38 2.38l-2.38 -2.38z"/><path d="M27.43 324.72l2.38 2.38l-2.38 2.38l-2.38 -2.38z"/><path d="M27.43 324.72l2.38 2.38l-2.38 2.38l-2.38 -2.38z"/><path d="M27.43 324.72l2.38 2.38l-2.38 2.38l-2.38 -2.38z"/><path d="M27.43 324.72l2.38 2.38l-2.38 2.38l-2.38 -2.38z"/><path d="M27.43 324.72l2.38 2.38l-2.38 2.38l-2.38 -2.38z"/><path d="M27.43 324.72l2.38 2.38l-2.38 2.38l-2.38 -2.38z"/><path d="M27.43 324.72l2.38 2.38l-2.38 2.38l-2.38 -2.38z"/><path d="M27.43 324.72l2.38 2.38l-2.38 2.38l-2.38 -2.38z"/><path d="M27.43 324.72l2.38 2.38l-2.38 2.38l-2.38 -2.38z"/><path d="M27.43 324.72l2.38 2.38l-2.38 2.38l-2.38 -2.38z"/><path d="M27.43 324.72l2.38 2.38l-2.38 2.38l-2.38 -2.38z"/><path d="M27.43 324.72l2.38 2.38l-2.38 2.38l-2.38 -2.38z"/><path d="M27.43 324.72l2.38 2.38l-2.38 2.38l-2.38 -2.38z"/><path d="M27.43 324.72l2.38 2.38l-2.38 2.38l-2.38 -2.38z"/><path d="M27.43 324.72l2.38 2.38l-2.38 2.38l-2.38 -2.38z"/><path d="M27.43 324.72l2.38 2.38l-2.38 2.38l-2.38 -2.38z"/><path d="M27.43 324.72l2.38 2.38l-2.38 2.38l-2.38 -2.38z"/><path d="M27.43 324.72l2.38 2.38l-2.38 2.38l-2.38 -2.38z"/><path d="M27.43 324.72l2.38 2.38l-2.38 2.38l-2.38 -2.38z"/></g>
<ellipse cx="27.61" cy="326.19" rx="2.2" ry="2.6" fill="#3b3196" opacity="0.85"/>
<path d="M180.9 194.9H191.7" stroke="#111111" stroke-width="1"/>
<path d="M184.29 194.9a1.8 1.8 0 1 0 3.61 0a1.8 1.8 0 1 0 -3.61 0z" fill="#000000"/>
<text transform="translate(192.6 197.32) scale(0.067 0.0737)">2 Weeks</text>
<path d="M180.9 203.8H191.7" stroke="#c81010" stroke-width="1"/>
<path d="M184.39 202.09h3.42v3.42h-3.42z" fill="#ff0000" stroke="#8a0000" stroke-width="0.6"/>
<text transform="translate(192.6 206.22) scale(0.067 0.0737)">4 Weeks</text>
<path d="M180.9 212.8H191.7" stroke="#f6bcc6" stroke-width="0.9"/>
<path d="M184.39 211.09h3.42v3.42h-3.42z" fill="#fbe0e4" stroke="#bf4a58" stroke-width="0.8"/>
<text transform="translate(192.6 215.22) scale(0.067 0.0737)">8 Weeks</text>
<path d="M180.9 221.7H191.7" stroke="#3cc860" stroke-width="1.1"/>
<path d="M186.1 219.8l1.9 3.52h-3.8z" fill="#36d85a" stroke="#17521f" stroke-width="0.5"/>
<text transform="translate(192.6 224.12) scale(0.067 0.0737)">12 Weeks</text>
<path d="M180.9 231H191.7" stroke="#3a9be0" stroke-width="1"/>
<path d="M186.1 228.68l2.32 2.32l-2.32 2.32l-2.32 -2.32z" fill="#4cb1f2" stroke="#2a5fb0" stroke-width="0.6"/>
<text transform="translate(192.6 233.42) scale(0.067 0.0737)">16 Weeks</text>
<text transform="translate(118.5 346) scale(0.075 0.075)" text-anchor="middle">Z' (kΩ.cm<tspan dy="-35" font-size="62">2</tspan><tspan dy="35">)</tspan></text>
<text transform="translate(7.7 269.5) rotate(-90) scale(0.075 0.075)" text-anchor="middle">-Z'' (kΩ.cm<tspan dy="-35" font-size="62">2</tspan><tspan dy="35">)</tspan></text>
<text stroke="#111" stroke-width="2.5" transform="translate(3 183.9) scale(0.095 0.1045)">(D)</text>
<!-- panel E -->
<path d="M255.8 190.5H448.05" stroke="#9c9c9c" stroke-width="1.5"/>
<path d="M447.4 190.5V326.5" stroke="#9c9c9c" stroke-width="1.3"/>
<path d="M255.8 190.5V326.5M255.8 326.5H447.4" stroke="#5a5a5a" stroke-width="0.6" fill="none"/>
<path d="M255.8 323.9V328.8M277.09 323.9V328.8M298.38 323.9V328.8M319.67 323.9V328.8M340.96 323.9V328.8M362.24 323.9V328.8M383.53 323.9V328.8M404.82 323.9V328.8M426.11 323.9V328.8M447.4 323.9V328.8M253.6 326.5H258M253.6 303.83H258M253.6 281.17H258M253.6 258.5H258M253.6 235.83H258M253.6 213.17H258M253.6 190.5H258" stroke="#4a4a4a" stroke-width="0.6" fill="none"/>
<path d="M262.21 326.5V328.4M265.96 326.5V328.4M268.62 326.5V328.4M270.68 326.5V328.4M272.37 326.5V328.4M273.79 326.5V328.4M275.03 326.5V328.4M276.11 326.5V328.4M283.5 326.5V328.4M287.25 326.5V328.4M289.91 326.5V328.4M291.97 326.5V328.4M293.65 326.5V328.4M295.08 326.5V328.4M296.31 326.5V328.4M297.4 326.5V328.4M304.79 326.5V328.4M308.54 326.5V328.4M311.19 326.5V328.4M313.26 326.5V328.4M314.94 326.5V328.4M316.37 326.5V328.4M317.6 326.5V328.4M318.69 326.5V328.4M326.08 326.5V328.4M329.82 326.5V328.4M332.48 326.5V328.4M334.55 326.5V328.4M336.23 326.5V328.4M337.66 326.5V328.4M338.89 326.5V328.4M339.98 326.5V328.4M347.36 326.5V328.4M351.11 326.5V328.4M353.77 326.5V328.4M355.84 326.5V328.4M357.52 326.5V328.4M358.95 326.5V328.4M360.18 326.5V328.4M361.27 326.5V328.4M368.65 326.5V328.4M372.4 326.5V328.4M375.06 326.5V328.4M377.12 326.5V328.4M378.81 326.5V328.4M380.24 326.5V328.4M381.47 326.5V328.4M382.56 326.5V328.4M389.94 326.5V328.4M393.69 326.5V328.4M396.35 326.5V328.4M398.41 326.5V328.4M400.1 326.5V328.4M401.52 326.5V328.4M402.76 326.5V328.4M403.85 326.5V328.4M411.23 326.5V328.4M414.98 326.5V328.4M417.64 326.5V328.4M419.7 326.5V328.4M421.39 326.5V328.4M422.81 326.5V328.4M424.05 326.5V328.4M425.14 326.5V328.4M432.52 326.5V328.4M436.27 326.5V328.4M438.93 326.5V328.4M440.99 326.5V328.4M442.68 326.5V328.4M444.1 326.5V328.4M445.34 326.5V328.4M446.43 326.5V328.4M253.8 319.68H255.8M253.8 315.69H255.8M253.8 312.85H255.8M253.8 310.66H255.8M253.8 308.86H255.8M253.8 307.34H255.8M253.8 306.03H255.8M253.8 304.87H255.8M253.8 297.01H255.8M253.8 293.02H255.8M253.8 290.19H255.8M253.8 287.99H255.8M253.8 286.2H255.8M253.8 284.68H255.8M253.8 283.36H255.8M253.8 282.2H255.8M253.8 274.34H255.8M253.8 270.35H255.8M253.8 267.52H255.8M253.8 265.32H255.8M253.8 263.53H255.8M253.8 262.01H255.8M253.8 260.7H255.8M253.8 259.54H255.8M253.8 251.68H255.8M253.8 247.69H255.8M253.8 244.85H255.8M253.8 242.66H255.8M253.8 240.86H255.8M253.8 239.34H255.8M253.8 238.03H255.8M253.8 236.87H255.8M253.8 229.01H255.8M253.8 225.02H255.8M253.8 222.19H255.8M253.8 219.99H255.8M253.8 218.2H255.8M253.8 216.68H255.8M253.8 215.36H255.8M253.8 214.2H255.8M253.8 206.34H255.8M253.8 202.35H255.8M253.8 199.52H255.8M253.8 197.32H255.8M253.8 195.53H255.8M253.8 194.01H255.8M253.8 192.7H255.8M253.8 191.54H255.8" stroke="#222" stroke-width="0.6" fill="none"/>
<text transform="translate(255.8 335.8) scale(0.065 0.0728)" text-anchor="middle">1E-3</text>
<text transform="translate(277.09 335.8) scale(0.065 0.0728)" text-anchor="middle">1E-2</text>
<text transform="translate(298.38 335.8) scale(0.065 0.0728)" text-anchor="middle">1E-1</text>
<text transform="translate(319.67 335.8) scale(0.065 0.0728)" text-anchor="middle">1E+0</text>
<text transform="translate(340.96 335.8) scale(0.065 0.0728)" text-anchor="middle">1E+1</text>
<text transform="translate(362.24 335.8) scale(0.065 0.0728)" text-anchor="middle">1E+2</text>
<text transform="translate(383.53 335.8) scale(0.065 0.0728)" text-anchor="middle">1E+3</text>
<text transform="translate(404.82 335.8) scale(0.065 0.0728)" text-anchor="middle">1E+4</text>
<text transform="translate(426.11 335.8) scale(0.065 0.0728)" text-anchor="middle">1E+5</text>
<text transform="translate(447.4 335.8) scale(0.065 0.0728)" text-anchor="middle">1E+6</text>
<text transform="translate(250.6 328.76) scale(0.065 0.0728)" text-anchor="end">1E+0</text>
<text transform="translate(250.6 306.09) scale(0.065 0.0728)" text-anchor="end">1E+1</text>
<text transform="translate(250.6 283.43) scale(0.065 0.0728)" text-anchor="end">1E+2</text>
<text transform="translate(250.6 260.76) scale(0.065 0.0728)" text-anchor="end">1E+3</text>
<text transform="translate(250.6 238.09) scale(0.065 0.0728)" text-anchor="end">1E+4</text>
<text transform="translate(250.6 215.43) scale(0.065 0.0728)" text-anchor="end">1E+5</text>
<text transform="translate(250.6 192.76) scale(0.065 0.0728)" text-anchor="end">1E+6</text>
<polyline points="287.73,229.88 289.86,232.05 291.99,234.21 294.12,236.38 296.25,238.54 298.38,240.71 300.51,242.87 302.64,245.04 304.76,247.2 306.89,249.37 309.02,251.53 311.15,253.69 313.28,255.86 315.41,258.02 317.54,260.19 319.67,262.35 321.8,264.51 323.92,266.68 326.05,268.84 328.18,271 330.31,273.16 332.44,275.31 334.57,277.46 336.7,279.61 338.83,281.73 340.96,283.84 343.08,285.92 345.21,287.96 347.34,289.93 349.47,291.81 351.6,293.56 353.73,295.15 355.86,296.53 357.99,297.69 360.12,298.6 362.24,299.3 364.37,299.81 366.5,300.17 368.63,300.41 370.76,300.57 372.89,300.68 375.02,300.75 377.15,300.8 379.28,300.83 381.4,300.85 383.53,300.86 385.66,300.87 387.79,300.88 389.92,300.88 392.05,300.88 394.18,300.88 396.31,300.89 398.44,300.89 400.56,300.89 402.69,300.89 404.82,300.89 406.95,300.89 409.08,300.89 411.21,300.89 413.34,300.89 415.47,300.89 417.6,300.89 419.72,300.89 421.85,300.89 423.98,300.89 426.11,300.89" fill="none" stroke="#3d5f94" stroke-width="0.8"/>
<g fill="#000000"><path d="M285.88 229.88a1.85 1.85 0 1 0 3.7 0a1.85 1.85 0 1 0 -3.7 0z"/><path d="M288.01 232.05a1.85 1.85 0 1 0 3.7 0a1.85 1.85 0 1 0 -3.7 0z"/><path d="M290.14 234.21a1.85 1.85 0 1 0 3.7 0a1.85 1.85 0 1 0 -3.7 0z"/><path d="M292.27 236.38a1.85 1.85 0 1 0 3.7 0a1.85 1.85 0 1 0 -3.7 0z"/><path d="M294.4 238.54a1.85 1.85 0 1 0 3.7 0a1.85 1.85 0 1 0 -3.7 0z"/><path d="M296.53 240.71a1.85 1.85 0 1 0 3.7 0a1.85 1.85 0 1 0 -3.7 0z"/><path d="M298.65 242.87a1.85 1.85 0 1 0 3.7 0a1.85 1.85 0 1 0 -3.7 0z"/><path d="M300.78 245.04a1.85 1.85 0 1 0 3.7 0a1.85 1.85 0 1 0 -3.7 0z"/><path d="M302.91 247.2a1.85 1.85 0 1 0 3.7 0a1.85 1.85 0 1 0 -3.7 0z"/><path d="M305.04 249.37a1.85 1.85 0 1 0 3.7 0a1.85 1.85 0 1 0 -3.7 0z"/><path d="M307.17 251.53a1.85 1.85 0 1 0 3.7 0a1.85 1.85 0 1 0 -3.7 0z"/><path d="M309.3 253.69a1.85 1.85 0 1 0 3.7 0a1.85 1.85 0 1 0 -3.7 0z"/><path d="M311.43 255.86a1.85 1.85 0 1 0 3.7 0a1.85 1.85 0 1 0 -3.7 0z"/><path d="M313.56 258.02a1.85 1.85 0 1 0 3.7 0a1.85 1.85 0 1 0 -3.7 0z"/><path d="M315.69 260.19a1.85 1.85 0 1 0 3.7 0a1.85 1.85 0 1 0 -3.7 0z"/><path d="M317.81 262.35a1.85 1.85 0 1 0 3.7 0a1.85 1.85 0 1 0 -3.7 0z"/><path d="M319.94 264.51a1.85 1.85 0 1 0 3.7 0a1.85 1.85 0 1 0 -3.7 0z"/><path d="M322.07 266.68a1.85 1.85 0 1 0 3.7 0a1.85 1.85 0 1 0 -3.7 0z"/><path d="M324.2 268.84a1.85 1.85 0 1 0 3.7 0a1.85 1.85 0 1 0 -3.7 0z"/><path d="M326.33 271a1.85 1.85 0 1 0 3.7 0a1.85 1.85 0 1 0 -3.7 0z"/><path d="M328.46 273.16a1.85 1.85 0 1 0 3.7 0a1.85 1.85 0 1 0 -3.7 0z"/><path d="M330.59 275.31a1.85 1.85 0 1 0 3.7 0a1.85 1.85 0 1 0 -3.7 0z"/><path d="M332.72 277.46a1.85 1.85 0 1 0 3.7 0a1.85 1.85 0 1 0 -3.7 0z"/><path d="M334.85 279.61a1.85 1.85 0 1 0 3.7 0a1.85 1.85 0 1 0 -3.7 0z"/><path d="M336.97 281.73a1.85 1.85 0 1 0 3.7 0a1.85 1.85 0 1 0 -3.7 0z"/><path d="M339.1 283.84a1.85 1.85 0 1 0 3.7 0a1.85 1.85 0 1 0 -3.7 0z"/><path d="M341.23 285.92a1.85 1.85 0 1 0 3.7 0a1.85 1.85 0 1 0 -3.7 0z"/><path d="M343.36 287.96a1.85 1.85 0 1 0 3.7 0a1.85 1.85 0 1 0 -3.7 0z"/><path d="M345.49 289.93a1.85 1.85 0 1 0 3.7 0a1.85 1.85 0 1 0 -3.7 0z"/><path d="M347.62 291.81a1.85 1.85 0 1 0 3.7 0a1.85 1.85 0 1 0 -3.7 0z"/><path d="M349.75 293.56a1.85 1.85 0 1 0 3.7 0a1.85 1.85 0 1 0 -3.7 0z"/><path d="M351.88 295.15a1.85 1.85 0 1 0 3.7 0a1.85 1.85 0 1 0 -3.7 0z"/><path d="M354.01 296.53a1.85 1.85 0 1 0 3.7 0a1.85 1.85 0 1 0 -3.7 0z"/><path d="M356.13 297.69a1.85 1.85 0 1 0 3.7 0a1.85 1.85 0 1 0 -3.7 0z"/><path d="M358.26 298.6a1.85 1.85 0 1 0 3.7 0a1.85 1.85 0 1 0 -3.7 0z"/><path d="M360.39 299.3a1.85 1.85 0 1 0 3.7 0a1.85 1.85 0 1 0 -3.7 0z"/><path d="M362.52 299.81a1.85 1.85 0 1 0 3.7 0a1.85 1.85 0 1 0 -3.7 0z"/><path d="M364.65 300.17a1.85 1.85 0 1 0 3.7 0a1.85 1.85 0 1 0 -3.7 0z"/><path d="M366.78 300.41a1.85 1.85 0 1 0 3.7 0a1.85 1.85 0 1 0 -3.7 0z"/><path d="M368.91 300.57a1.85 1.85 0 1 0 3.7 0a1.85 1.85 0 1 0 -3.7 0z"/><path d="M371.04 300.68a1.85 1.85 0 1 0 3.7 0a1.85 1.85 0 1 0 -3.7 0z"/><path d="M373.17 300.75a1.85 1.85 0 1 0 3.7 0a1.85 1.85 0 1 0 -3.7 0z"/><path d="M375.29 300.8a1.85 1.85 0 1 0 3.7 0a1.85 1.85 0 1 0 -3.7 0z"/><path d="M377.42 300.83a1.85 1.85 0 1 0 3.7 0a1.85 1.85 0 1 0 -3.7 0z"/><path d="M379.55 300.85a1.85 1.85 0 1 0 3.7 0a1.85 1.85 0 1 0 -3.7 0z"/><path d="M381.68 300.86a1.85 1.85 0 1 0 3.7 0a1.85 1.85 0 1 0 -3.7 0z"/><path d="M383.81 300.87a1.85 1.85 0 1 0 3.7 0a1.85 1.85 0 1 0 -3.7 0z"/><path d="M385.94 300.88a1.85 1.85 0 1 0 3.7 0a1.85 1.85 0 1 0 -3.7 0z"/><path d="M388.07 300.88a1.85 1.85 0 1 0 3.7 0a1.85 1.85 0 1 0 -3.7 0z"/><path d="M390.2 300.88a1.85 1.85 0 1 0 3.7 0a1.85 1.85 0 1 0 -3.7 0z"/><path d="M392.33 300.88a1.85 1.85 0 1 0 3.7 0a1.85 1.85 0 1 0 -3.7 0z"/><path d="M394.45 300.89a1.85 1.85 0 1 0 3.7 0a1.85 1.85 0 1 0 -3.7 0z"/><path d="M396.58 300.89a1.85 1.85 0 1 0 3.7 0a1.85 1.85 0 1 0 -3.7 0z"/><path d="M398.71 300.89a1.85 1.85 0 1 0 3.7 0a1.85 1.85 0 1 0 -3.7 0z"/><path d="M400.84 300.89a1.85 1.85 0 1 0 3.7 0a1.85 1.85 0 1 0 -3.7 0z"/><path d="M402.97 300.89a1.85 1.85 0 1 0 3.7 0a1.85 1.85 0 1 0 -3.7 0z"/><path d="M405.1 300.89a1.85 1.85 0 1 0 3.7 0a1.85 1.85 0 1 0 -3.7 0z"/><path d="M407.23 300.89a1.85 1.85 0 1 0 3.7 0a1.85 1.85 0 1 0 -3.7 0z"/><path d="M409.36 300.89a1.85 1.85 0 1 0 3.7 0a1.85 1.85 0 1 0 -3.7 0z"/><path d="M411.49 300.89a1.85 1.85 0 1 0 3.7 0a1.85 1.85 0 1 0 -3.7 0z"/><path d="M413.61 300.89a1.85 1.85 0 1 0 3.7 0a1.85 1.85 0 1 0 -3.7 0z"/><path d="M415.74 300.89a1.85 1.85 0 1 0 3.7 0a1.85 1.85 0 1 0 -3.7 0z"/><path d="M417.87 300.89a1.85 1.85 0 1 0 3.7 0a1.85 1.85 0 1 0 -3.7 0z"/><path d="M420 300.89a1.85 1.85 0 1 0 3.7 0a1.85 1.85 0 1 0 -3.7 0z"/><path d="M422.13 300.89a1.85 1.85 0 1 0 3.7 0a1.85 1.85 0 1 0 -3.7 0z"/><path d="M424.26 300.89a1.85 1.85 0 1 0 3.7 0a1.85 1.85 0 1 0 -3.7 0z"/></g>
<polyline points="277.09,215.59 279.22,217.76 281.35,219.92 283.48,222.09 285.6,224.25 287.73,226.42 289.86,228.58 291.99,230.74 294.12,232.91 296.25,235.07 298.38,237.24 300.51,239.4 302.64,241.57 304.76,243.73 306.89,245.9 309.02,248.06 311.15,250.23 313.28,252.39 315.41,254.56 317.54,256.72 319.67,258.88 321.8,261.05 323.92,263.21 326.05,265.38 328.18,267.54 330.31,269.7 332.44,271.87 334.57,274.03 336.7,276.19 338.83,278.35 340.96,280.5 343.08,282.64 345.21,284.78 347.34,286.9 349.47,289 351.6,291.05 353.73,293.06 355.86,294.99 357.99,296.81 360.12,298.48 362.24,299.97 364.37,301.23 366.5,302.27 368.63,303.07 370.76,303.66 372.89,304.09 375.02,304.38 377.15,304.58 379.28,304.72 381.4,304.8 383.53,304.86 385.66,304.9 387.79,304.92 389.92,304.94 392.05,304.95 394.18,304.95 396.31,304.96 398.44,304.96 400.56,304.96 402.69,304.96 404.82,304.97 406.95,304.97 409.08,304.97 411.21,304.97 413.34,304.97 415.47,304.97 417.6,304.97 419.72,304.97 421.85,304.97 423.98,304.97 426.11,304.97" fill="none" stroke="#ff9090" stroke-width="1.4"/>
<g fill="#ff0000" stroke="#8a0000" stroke-width="0.6"><path d="M275.33 213.84h3.51v3.51h-3.51z"/><path d="M277.46 216h3.51v3.51h-3.51z"/><path d="M279.59 218.17h3.51v3.51h-3.51z"/><path d="M281.72 220.33h3.51v3.51h-3.51z"/><path d="M283.85 222.5h3.51v3.51h-3.51z"/><path d="M285.98 224.66h3.51v3.51h-3.51z"/><path d="M288.11 226.82h3.51v3.51h-3.51z"/><path d="M290.24 228.99h3.51v3.51h-3.51z"/><path d="M292.37 231.15h3.51v3.51h-3.51z"/><path d="M294.49 233.32h3.51v3.51h-3.51z"/><path d="M296.62 235.48h3.51v3.51h-3.51z"/><path d="M298.75 237.65h3.51v3.51h-3.51z"/><path d="M300.88 239.81h3.51v3.51h-3.51z"/><path d="M303.01 241.98h3.51v3.51h-3.51z"/><path d="M305.14 244.14h3.51v3.51h-3.51z"/><path d="M307.27 246.31h3.51v3.51h-3.51z"/><path d="M309.4 248.47h3.51v3.51h-3.51z"/><path d="M311.53 250.64h3.51v3.51h-3.51z"/><path d="M313.65 252.8h3.51v3.51h-3.51z"/><path d="M315.78 254.97h3.51v3.51h-3.51z"/><path d="M317.91 257.13h3.51v3.51h-3.51z"/><path d="M320.04 259.29h3.51v3.51h-3.51z"/><path d="M322.17 261.46h3.51v3.51h-3.51z"/><path d="M324.3 263.62h3.51v3.51h-3.51z"/><path d="M326.43 265.79h3.51v3.51h-3.51z"/><path d="M328.56 267.95h3.51v3.51h-3.51z"/><path d="M330.69 270.11h3.51v3.51h-3.51z"/><path d="M332.81 272.27h3.51v3.51h-3.51z"/><path d="M334.94 274.43h3.51v3.51h-3.51z"/><path d="M337.07 276.59h3.51v3.51h-3.51z"/><path d="M339.2 278.74h3.51v3.51h-3.51z"/><path d="M341.33 280.89h3.51v3.51h-3.51z"/><path d="M343.46 283.02h3.51v3.51h-3.51z"/><path d="M345.59 285.14h3.51v3.51h-3.51z"/><path d="M347.72 287.24h3.51v3.51h-3.51z"/><path d="M349.85 289.3h3.51v3.51h-3.51z"/><path d="M351.97 291.31h3.51v3.51h-3.51z"/><path d="M354.1 293.23h3.51v3.51h-3.51z"/><path d="M356.23 295.05h3.51v3.51h-3.51z"/><path d="M358.36 296.73h3.51v3.51h-3.51z"/><path d="M360.49 298.21h3.51v3.51h-3.51z"/><path d="M362.62 299.48h3.51v3.51h-3.51z"/><path d="M364.75 300.51h3.51v3.51h-3.51z"/><path d="M366.88 301.31h3.51v3.51h-3.51z"/><path d="M369 301.91h3.51v3.51h-3.51z"/><path d="M371.13 302.33h3.51v3.51h-3.51z"/><path d="M373.26 302.63h3.51v3.51h-3.51z"/><path d="M375.39 302.83h3.51v3.51h-3.51z"/><path d="M377.52 302.96h3.51v3.51h-3.51z"/><path d="M379.65 303.05h3.51v3.51h-3.51z"/><path d="M381.78 303.11h3.51v3.51h-3.51z"/><path d="M383.91 303.14h3.51v3.51h-3.51z"/><path d="M386.04 303.17h3.51v3.51h-3.51z"/><path d="M388.16 303.18h3.51v3.51h-3.51z"/><path d="M390.29 303.19h3.51v3.51h-3.51z"/><path d="M392.42 303.2h3.51v3.51h-3.51z"/><path d="M394.55 303.2h3.51v3.51h-3.51z"/><path d="M396.68 303.21h3.51v3.51h-3.51z"/><path d="M398.81 303.21h3.51v3.51h-3.51z"/><path d="M400.94 303.21h3.51v3.51h-3.51z"/><path d="M403.07 303.21h3.51v3.51h-3.51z"/><path d="M405.2 303.21h3.51v3.51h-3.51z"/><path d="M407.32 303.21h3.51v3.51h-3.51z"/><path d="M409.45 303.21h3.51v3.51h-3.51z"/><path d="M411.58 303.21h3.51v3.51h-3.51z"/><path d="M413.71 303.21h3.51v3.51h-3.51z"/><path d="M415.84 303.21h3.51v3.51h-3.51z"/><path d="M417.97 303.21h3.51v3.51h-3.51z"/><path d="M420.1 303.21h3.51v3.51h-3.51z"/><path d="M422.23 303.21h3.51v3.51h-3.51z"/><path d="M424.36 303.21h3.51v3.51h-3.51z"/></g>
<polyline points="277.09,215.64 279.22,217.8 281.35,219.97 283.48,222.13 285.6,224.3 287.73,226.46 289.86,228.63 291.99,230.79 294.12,232.95 296.25,235.12 298.38,237.28 300.51,239.45 302.64,241.61 304.76,243.78 306.89,245.94 309.02,248.11 311.15,250.27 313.28,252.44 315.41,254.6 317.54,256.77 319.67,258.93 321.8,261.09 323.92,263.26 326.05,265.42 328.18,267.59 330.31,269.75 332.44,271.91 334.57,274.07 336.7,276.23 338.83,278.39 340.96,280.55 343.08,282.69 345.21,284.83 347.34,286.95 349.47,289.06 351.6,291.12 353.73,293.14 355.86,295.09 357.99,296.93 360.12,298.63 362.24,300.16 364.37,301.47 366.5,302.54 368.63,303.39 370.76,304.02 372.89,304.47 375.02,304.79 377.15,305 379.28,305.15 381.4,305.24 383.53,305.31 385.66,305.35 387.79,305.37 389.92,305.39 392.05,305.4 394.18,305.41 396.31,305.41 398.44,305.41 400.56,305.42 402.69,305.42 404.82,305.42 406.95,305.42 409.08,305.42 411.21,305.42 413.34,305.42 415.47,305.42 417.6,305.42 419.72,305.42 421.85,305.42 423.98,305.42 426.11,305.42" fill="none" stroke="#f6bcc6" stroke-width="0.8"/>
<g fill="#fbe0e4" stroke="#bf4a58" stroke-width="0.8"><path d="M275.33 213.88h3.51v3.51h-3.51z"/><path d="M277.46 216.05h3.51v3.51h-3.51z"/><path d="M279.59 218.21h3.51v3.51h-3.51z"/><path d="M281.72 220.38h3.51v3.51h-3.51z"/><path d="M283.85 222.54h3.51v3.51h-3.51z"/><path d="M285.98 224.71h3.51v3.51h-3.51z"/><path d="M288.11 226.87h3.51v3.51h-3.51z"/><path d="M290.24 229.03h3.51v3.51h-3.51z"/><path d="M292.37 231.2h3.51v3.51h-3.51z"/><path d="M294.49 233.36h3.51v3.51h-3.51z"/><path d="M296.62 235.53h3.51v3.51h-3.51z"/><path d="M298.75 237.69h3.51v3.51h-3.51z"/><path d="M300.88 239.86h3.51v3.51h-3.51z"/><path d="M303.01 242.02h3.51v3.51h-3.51z"/><path d="M305.14 244.19h3.51v3.51h-3.51z"/><path d="M307.27 246.35h3.51v3.51h-3.51z"/><path d="M309.4 248.52h3.51v3.51h-3.51z"/><path d="M311.53 250.68h3.51v3.51h-3.51z"/><path d="M313.65 252.85h3.51v3.51h-3.51z"/><path d="M315.78 255.01h3.51v3.51h-3.51z"/><path d="M317.91 257.18h3.51v3.51h-3.51z"/><path d="M320.04 259.34h3.51v3.51h-3.51z"/><path d="M322.17 261.5h3.51v3.51h-3.51z"/><path d="M324.3 263.67h3.51v3.51h-3.51z"/><path d="M326.43 265.83h3.51v3.51h-3.51z"/><path d="M328.56 268h3.51v3.51h-3.51z"/><path d="M330.69 270.16h3.51v3.51h-3.51z"/><path d="M332.81 272.32h3.51v3.51h-3.51z"/><path d="M334.94 274.48h3.51v3.51h-3.51z"/><path d="M337.07 276.64h3.51v3.51h-3.51z"/><path d="M339.2 278.79h3.51v3.51h-3.51z"/><path d="M341.33 280.94h3.51v3.51h-3.51z"/><path d="M343.46 283.08h3.51v3.51h-3.51z"/><path d="M345.59 285.2h3.51v3.51h-3.51z"/><path d="M347.72 287.3h3.51v3.51h-3.51z"/><path d="M349.85 289.37h3.51v3.51h-3.51z"/><path d="M351.97 291.39h3.51v3.51h-3.51z"/><path d="M354.1 293.33h3.51v3.51h-3.51z"/><path d="M356.23 295.17h3.51v3.51h-3.51z"/><path d="M358.36 296.88h3.51v3.51h-3.51z"/><path d="M360.49 298.4h3.51v3.51h-3.51z"/><path d="M362.62 299.71h3.51v3.51h-3.51z"/><path d="M364.75 300.79h3.51v3.51h-3.51z"/><path d="M366.88 301.63h3.51v3.51h-3.51z"/><path d="M369 302.26h3.51v3.51h-3.51z"/><path d="M371.13 302.72h3.51v3.51h-3.51z"/><path d="M373.26 303.03h3.51v3.51h-3.51z"/><path d="M375.39 303.25h3.51v3.51h-3.51z"/><path d="M377.52 303.39h3.51v3.51h-3.51z"/><path d="M379.65 303.49h3.51v3.51h-3.51z"/><path d="M381.78 303.55h3.51v3.51h-3.51z"/><path d="M383.91 303.59h3.51v3.51h-3.51z"/><path d="M386.04 303.62h3.51v3.51h-3.51z"/><path d="M388.16 303.63h3.51v3.51h-3.51z"/><path d="M390.29 303.65h3.51v3.51h-3.51z"/><path d="M392.42 303.65h3.51v3.51h-3.51z"/><path d="M394.55 303.66h3.51v3.51h-3.51z"/><path d="M396.68 303.66h3.51v3.51h-3.51z"/><path d="M398.81 303.66h3.51v3.51h-3.51z"/><path d="M400.94 303.66h3.51v3.51h-3.51z"/><path d="M403.07 303.66h3.51v3.51h-3.51z"/><path d="M405.2 303.66h3.51v3.51h-3.51z"/><path d="M407.32 303.66h3.51v3.51h-3.51z"/><path d="M409.45 303.66h3.51v3.51h-3.51z"/><path d="M411.58 303.66h3.51v3.51h-3.51z"/><path d="M413.71 303.66h3.51v3.51h-3.51z"/><path d="M415.84 303.66h3.51v3.51h-3.51z"/><path d="M417.97 303.66h3.51v3.51h-3.51z"/><path d="M420.1 303.66h3.51v3.51h-3.51z"/><path d="M422.23 303.66h3.51v3.51h-3.51z"/><path d="M424.36 303.66h3.51v3.51h-3.51z"/></g>
<polyline points="277.09,215.66 279.22,217.82 281.35,219.99 283.48,222.15 285.6,224.32 287.73,226.48 289.86,228.65 291.99,230.81 294.12,232.98 296.25,235.14 298.38,237.31 300.51,239.47 302.64,241.64 304.76,243.8 306.89,245.97 309.02,248.13 311.15,250.29 313.28,252.46 315.41,254.62 317.54,256.79 319.67,258.95 321.8,261.12 323.92,263.28 326.05,265.45 328.18,267.61 330.31,269.77 332.44,271.93 334.57,274.09 336.7,276.25 338.83,278.41 340.96,280.56 343.08,282.7 345.21,284.83 347.34,286.94 349.47,289.02 351.6,291.06 353.73,293.03 355.86,294.92 357.99,296.68 360.12,298.27 362.24,299.66 364.37,300.82 366.5,301.75 368.63,302.45 370.76,302.97 372.89,303.33 375.02,303.58 377.15,303.74 379.28,303.85 381.4,303.93 383.53,303.97 385.66,304 387.79,304.02 389.92,304.04 392.05,304.04 394.18,304.05 396.31,304.05 398.44,304.06 400.56,304.06 402.69,304.06 404.82,304.06 406.95,304.06 409.08,304.06 411.21,304.06 413.34,304.06 415.47,304.06 417.6,304.06 419.72,304.06 421.85,304.06 423.98,304.06 426.11,304.06" fill="none" stroke="#3cc860" stroke-width="1"/>
<g fill="#36d85a" stroke="#17521f" stroke-width="0.5"><path d="M277.09 213.71l1.95 3.61h-3.9z"/><path d="M279.22 215.87l1.95 3.61h-3.9z"/><path d="M281.35 218.04l1.95 3.61h-3.9z"/><path d="M283.48 220.2l1.95 3.61h-3.9z"/><path d="M285.6 222.37l1.95 3.61h-3.9z"/><path d="M287.73 224.53l1.95 3.61h-3.9z"/><path d="M289.86 226.7l1.95 3.61h-3.9z"/><path d="M291.99 228.86l1.95 3.61h-3.9z"/><path d="M294.12 231.03l1.95 3.61h-3.9z"/><path d="M296.25 233.19l1.95 3.61h-3.9z"/><path d="M298.38 235.36l1.95 3.61h-3.9z"/><path d="M300.51 237.52l1.95 3.61h-3.9z"/><path d="M302.64 239.69l1.95 3.61h-3.9z"/><path d="M304.76 241.85l1.95 3.61h-3.9z"/><path d="M306.89 244.02l1.95 3.61h-3.9z"/><path d="M309.02 246.18l1.95 3.61h-3.9z"/><path d="M311.15 248.34l1.95 3.61h-3.9z"/><path d="M313.28 250.51l1.95 3.61h-3.9z"/><path d="M315.41 252.67l1.95 3.61h-3.9z"/><path d="M317.54 254.84l1.95 3.61h-3.9z"/><path d="M319.67 257l1.95 3.61h-3.9z"/><path d="M321.8 259.17l1.95 3.61h-3.9z"/><path d="M323.92 261.33l1.95 3.61h-3.9z"/><path d="M326.05 263.5l1.95 3.61h-3.9z"/><path d="M328.18 265.66l1.95 3.61h-3.9z"/><path d="M330.31 267.82l1.95 3.61h-3.9z"/><path d="M332.44 269.98l1.95 3.61h-3.9z"/><path d="M334.57 272.14l1.95 3.61h-3.9z"/><path d="M336.7 274.3l1.95 3.61h-3.9z"/><path d="M338.83 276.46l1.95 3.61h-3.9z"/><path d="M340.96 278.61l1.95 3.61h-3.9z"/><path d="M343.08 280.75l1.95 3.61h-3.9z"/><path d="M345.21 282.88l1.95 3.61h-3.9z"/><path d="M347.34 284.99l1.95 3.61h-3.9z"/><path d="M349.47 287.07l1.95 3.61h-3.9z"/><path d="M351.6 289.11l1.95 3.61h-3.9z"/><path d="M353.73 291.08l1.95 3.61h-3.9z"/><path d="M355.86 292.97l1.95 3.61h-3.9z"/><path d="M357.99 294.73l1.95 3.61h-3.9z"/><path d="M360.12 296.32l1.95 3.61h-3.9z"/><path d="M362.24 297.71l1.95 3.61h-3.9z"/><path d="M364.37 298.87l1.95 3.61h-3.9z"/><path d="M366.5 299.8l1.95 3.61h-3.9z"/><path d="M368.63 300.5l1.95 3.61h-3.9z"/><path d="M370.76 301.02l1.95 3.61h-3.9z"/><path d="M372.89 301.38l1.95 3.61h-3.9z"/><path d="M375.02 301.63l1.95 3.61h-3.9z"/><path d="M377.15 301.79l1.95 3.61h-3.9z"/><path d="M379.28 301.9l1.95 3.61h-3.9z"/><path d="M381.4 301.98l1.95 3.61h-3.9z"/><path d="M383.53 302.02l1.95 3.61h-3.9z"/><path d="M385.66 302.05l1.95 3.61h-3.9z"/><path d="M387.79 302.07l1.95 3.61h-3.9z"/><path d="M389.92 302.09l1.95 3.61h-3.9z"/><path d="M392.05 302.09l1.95 3.61h-3.9z"/><path d="M394.18 302.1l1.95 3.61h-3.9z"/><path d="M396.31 302.1l1.95 3.61h-3.9z"/><path d="M398.44 302.11l1.95 3.61h-3.9z"/><path d="M400.56 302.11l1.95 3.61h-3.9z"/><path d="M402.69 302.11l1.95 3.61h-3.9z"/><path d="M404.82 302.11l1.95 3.61h-3.9z"/><path d="M406.95 302.11l1.95 3.61h-3.9z"/><path d="M409.08 302.11l1.95 3.61h-3.9z"/><path d="M411.21 302.11l1.95 3.61h-3.9z"/><path d="M413.34 302.11l1.95 3.61h-3.9z"/><path d="M415.47 302.11l1.95 3.61h-3.9z"/><path d="M417.6 302.11l1.95 3.61h-3.9z"/><path d="M419.72 302.11l1.95 3.61h-3.9z"/><path d="M421.85 302.11l1.95 3.61h-3.9z"/><path d="M423.98 302.11l1.95 3.61h-3.9z"/><path d="M426.11 302.11l1.95 3.61h-3.9z"/></g>
<polyline points="277.09,215.66 279.22,217.82 281.35,219.99 283.48,222.15 285.6,224.32 287.73,226.48 289.86,228.65 291.99,230.81 294.12,232.98 296.25,235.14 298.38,237.31 300.51,239.47 302.64,241.64 304.76,243.8 306.89,245.97 309.02,248.13 311.15,250.29 313.28,252.46 315.41,254.62 317.54,256.79 319.67,258.95 321.8,261.12 323.92,263.28 326.05,265.45 328.18,267.61 330.31,269.77 332.44,271.93 334.57,274.09 336.7,276.25 338.83,278.41 340.96,280.55 343.08,282.69 345.21,284.82 347.34,286.93 349.47,289 351.6,291.03 353.73,292.98 355.86,294.84 357.99,296.57 360.12,298.12 362.24,299.47 364.37,300.58 366.5,301.46 368.63,302.12 370.76,302.6 372.89,302.93 375.02,303.16 377.15,303.32 379.28,303.42 381.4,303.48 383.53,303.53 385.66,303.56 387.79,303.57 389.92,303.59 392.05,303.59 394.18,303.6 396.31,303.6 398.44,303.6 400.56,303.6 402.69,303.61 404.82,303.61 406.95,303.61 409.08,303.61 411.21,303.61 413.34,303.61 415.47,303.61 417.6,303.61 419.72,303.61 421.85,303.61 423.98,303.61 426.11,303.61" fill="none" stroke="#3a9be0" stroke-width="0.9"/>
<g fill="#4cb1f2" stroke="#2a5fb0" stroke-width="0.6"><path d="M277.09 213.28l2.38 2.38l-2.38 2.38l-2.38 -2.38z"/><path d="M279.22 215.45l2.38 2.38l-2.38 2.38l-2.38 -2.38z"/><path d="M281.35 217.61l2.38 2.38l-2.38 2.38l-2.38 -2.38z"/><path d="M283.48 219.77l2.38 2.38l-2.38 2.38l-2.38 -2.38z"/><path d="M285.6 221.94l2.38 2.38l-2.38 2.38l-2.38 -2.38z"/><path d="M287.73 224.1l2.38 2.38l-2.38 2.38l-2.38 -2.38z"/><path d="M289.86 226.27l2.38 2.38l-2.38 2.38l-2.38 -2.38z"/><path d="M291.99 228.43l2.38 2.38l-2.38 2.38l-2.38 -2.38z"/><path d="M294.12 230.6l2.38 2.38l-2.38 2.38l-2.38 -2.38z"/><path d="M296.25 232.76l2.38 2.38l-2.38 2.38l-2.38 -2.38z"/><path d="M298.38 234.93l2.38 2.38l-2.38 2.38l-2.38 -2.38z"/><path d="M300.51 237.09l2.38 2.38l-2.38 2.38l-2.38 -2.38z"/><path d="M302.64 239.26l2.38 2.38l-2.38 2.38l-2.38 -2.38z"/><path d="M304.76 241.42l2.38 2.38l-2.38 2.38l-2.38 -2.38z"/><path d="M306.89 243.59l2.38 2.38l-2.38 2.38l-2.38 -2.38z"/><path d="M309.02 245.75l2.38 2.38l-2.38 2.38l-2.38 -2.38z"/><path d="M311.15 247.92l2.38 2.38l-2.38 2.38l-2.38 -2.38z"/><path d="M313.28 250.08l2.38 2.38l-2.38 2.38l-2.38 -2.38z"/><path d="M315.41 252.24l2.38 2.38l-2.38 2.38l-2.38 -2.38z"/><path d="M317.54 254.41l2.38 2.38l-2.38 2.38l-2.38 -2.38z"/><path d="M319.67 256.57l2.38 2.38l-2.38 2.38l-2.38 -2.38z"/><path d="M321.8 258.74l2.38 2.38l-2.38 2.38l-2.38 -2.38z"/><path d="M323.92 260.9l2.38 2.38l-2.38 2.38l-2.38 -2.38z"/><path d="M326.05 263.07l2.38 2.38l-2.38 2.38l-2.38 -2.38z"/><path d="M328.18 265.23l2.38 2.38l-2.38 2.38l-2.38 -2.38z"/><path d="M330.31 267.39l2.38 2.38l-2.38 2.38l-2.38 -2.38z"/><path d="M332.44 269.55l2.38 2.38l-2.38 2.38l-2.38 -2.38z"/><path d="M334.57 271.71l2.38 2.38l-2.38 2.38l-2.38 -2.38z"/><path d="M336.7 273.87l2.38 2.38l-2.38 2.38l-2.38 -2.38z"/><path d="M338.83 276.03l2.38 2.38l-2.38 2.38l-2.38 -2.38z"/><path d="M340.96 278.18l2.38 2.38l-2.38 2.38l-2.38 -2.38z"/><path d="M343.08 280.31l2.38 2.38l-2.38 2.38l-2.38 -2.38z"/><path d="M345.21 282.44l2.38 2.38l-2.38 2.38l-2.38 -2.38z"/><path d="M347.34 284.55l2.38 2.38l-2.38 2.38l-2.38 -2.38z"/><path d="M349.47 286.62l2.38 2.38l-2.38 2.38l-2.38 -2.38z"/><path d="M351.6 288.65l2.38 2.38l-2.38 2.38l-2.38 -2.38z"/><path d="M353.73 290.6l2.38 2.38l-2.38 2.38l-2.38 -2.38z"/><path d="M355.86 292.46l2.38 2.38l-2.38 2.38l-2.38 -2.38z"/><path d="M357.99 294.19l2.38 2.38l-2.38 2.38l-2.38 -2.38z"/><path d="M360.12 295.74l2.38 2.38l-2.38 2.38l-2.38 -2.38z"/><path d="M362.24 297.09l2.38 2.38l-2.38 2.38l-2.38 -2.38z"/><path d="M364.37 298.2l2.38 2.38l-2.38 2.38l-2.38 -2.38z"/><path d="M366.5 299.08l2.38 2.38l-2.38 2.38l-2.38 -2.38z"/><path d="M368.63 299.74l2.38 2.38l-2.38 2.38l-2.38 -2.38z"/><path d="M370.76 300.22l2.38 2.38l-2.38 2.38l-2.38 -2.38z"/><path d="M372.89 300.56l2.38 2.38l-2.38 2.38l-2.38 -2.38z"/><path d="M375.02 300.78l2.38 2.38l-2.38 2.38l-2.38 -2.38z"/><path d="M377.15 300.94l2.38 2.38l-2.38 2.38l-2.38 -2.38z"/><path d="M379.28 301.04l2.38 2.38l-2.38 2.38l-2.38 -2.38z"/><path d="M381.4 301.11l2.38 2.38l-2.38 2.38l-2.38 -2.38z"/><path d="M383.53 301.15l2.38 2.38l-2.38 2.38l-2.38 -2.38z"/><path d="M385.66 301.18l2.38 2.38l-2.38 2.38l-2.38 -2.38z"/><path d="M387.79 301.19l2.38 2.38l-2.38 2.38l-2.38 -2.38z"/><path d="M389.92 301.21l2.38 2.38l-2.38 2.38l-2.38 -2.38z"/><path d="M392.05 301.21l2.38 2.38l-2.38 2.38l-2.38 -2.38z"/><path d="M394.18 301.22l2.38 2.38l-2.38 2.38l-2.38 -2.38z"/><path d="M396.31 301.22l2.38 2.38l-2.38 2.38l-2.38 -2.38z"/><path d="M398.44 301.22l2.38 2.38l-2.38 2.38l-2.38 -2.38z"/><path d="M400.56 301.23l2.38 2.38l-2.38 2.38l-2.38 -2.38z"/><path d="M402.69 301.23l2.38 2.38l-2.38 2.38l-2.38 -2.38z"/><path d="M404.82 301.23l2.38 2.38l-2.38 2.38l-2.38 -2.38z"/><path d="M406.95 301.23l2.38 2.38l-2.38 2.38l-2.38 -2.38z"/><path d="M409.08 301.23l2.38 2.38l-2.38 2.38l-2.38 -2.38z"/><path d="M411.21 301.23l2.38 2.38l-2.38 2.38l-2.38 -2.38z"/><path d="M413.34 301.23l2.38 2.38l-2.38 2.38l-2.38 -2.38z"/><path d="M415.47 301.23l2.38 2.38l-2.38 2.38l-2.38 -2.38z"/><path d="M417.6 301.23l2.38 2.38l-2.38 2.38l-2.38 -2.38z"/><path d="M419.72 301.23l2.38 2.38l-2.38 2.38l-2.38 -2.38z"/><path d="M421.85 301.23l2.38 2.38l-2.38 2.38l-2.38 -2.38z"/><path d="M423.98 301.23l2.38 2.38l-2.38 2.38l-2.38 -2.38z"/><path d="M426.11 301.23l2.38 2.38l-2.38 2.38l-2.38 -2.38z"/></g>
<path d="M406.4 197.5H417.2" stroke="#3d5f94" stroke-width="0.9"/>
<path d="M410.03 197.5a1.57 1.57 0 1 0 3.13 0a1.57 1.57 0 1 0 -3.13 0z" fill="#000000"/>
<text transform="translate(418.3 199.92) scale(0.067 0.0737)">2 Weeks</text>
<path d="M406.4 207.6H417.2" stroke="#ff9090" stroke-width="1.5"/>
<path d="M410.12 206.11h2.97v2.97h-2.97z" fill="#ff0000" stroke="#8a0000" stroke-width="0.6"/>
<text transform="translate(418.3 210.02) scale(0.067 0.0737)">4 Weeks</text>
<path d="M406.4 218.1H417.2" stroke="#f6bcc6" stroke-width="0.9"/>
<path d="M410.12 216.61h2.97v2.97h-2.97z" fill="#fbe0e4" stroke="#bf4a58" stroke-width="0.8"/>
<text transform="translate(418.3 220.52) scale(0.067 0.0737)">8 Weeks</text>
<path d="M406.4 228.3H417.2" stroke="#3cc860" stroke-width="1.1"/>
<path d="M411.6 226.65l1.65 3.05h-3.3z" fill="#36d85a" stroke="#17521f" stroke-width="0.5"/>
<text transform="translate(418.3 230.72) scale(0.067 0.0737)">12 Weeks</text>
<path d="M406.4 238.6H417.2" stroke="#3a9be0" stroke-width="1"/>
<path d="M411.6 236.59l2.01 2.01l-2.01 2.01l-2.01 -2.01z" fill="#4cb1f2" stroke="#2a5fb0" stroke-width="0.6"/>
<text transform="translate(418.3 241.02) scale(0.067 0.0737)">16 Weeks</text>
<text transform="translate(340.5 346.1) scale(0.075 0.075)" text-anchor="middle">Log (Freq/Hz)</text>
<text transform="translate(232.6 263.4) rotate(-90) scale(0.075 0.075)" text-anchor="middle">| Z | (kΩ.cm<tspan dy="-35" font-size="62">2</tspan><tspan dy="35">)</tspan></text>
<text stroke="#111" stroke-width="2.5" transform="translate(226.5 184.4) scale(0.095 0.1045)">(E)</text>
<!-- panel F -->
<path d="M477.4 190.2H673.6" stroke="#999" stroke-width="1.2"/>
<path d="M673 190.2V327.8" stroke="#999" stroke-width="1.2"/>
<path d="M477.4 327.8H673" stroke="#999" stroke-width="1.2"/>
<path d="M477.4 190.2V327.8M477.4 315.29H673" stroke="#3a3a3a" stroke-width="0.6" fill="none"/>
<path d="M477.4 312.69V317.59M501.85 312.69V317.59M526.3 312.69V317.59M550.75 312.69V317.59M575.2 312.69V317.59M599.65 312.69V317.59M624.1 312.69V317.59M648.55 312.69V317.59M673 312.69V317.59M475.2 327.8H479.6M475.2 315.29H479.6M475.2 302.78H479.6M475.2 290.27H479.6M475.2 277.76H479.6M475.2 265.25H479.6M475.2 252.75H479.6M475.2 240.24H479.6M475.2 227.73H479.6M475.2 215.22H479.6M475.2 202.71H479.6M475.2 190.2H479.6" stroke="#4a4a4a" stroke-width="0.6" fill="none"/>
<path d="M484.76 315.29V317.19M489.07 315.29V317.19M492.12 315.29V317.19M494.49 315.29V317.19M496.43 315.29V317.19M498.06 315.29V317.19M499.48 315.29V317.19M500.73 315.29V317.19M509.21 315.29V317.19M513.52 315.29V317.19M516.57 315.29V317.19M518.94 315.29V317.19M520.88 315.29V317.19M522.51 315.29V317.19M523.93 315.29V317.19M525.18 315.29V317.19M533.66 315.29V317.19M537.97 315.29V317.19M541.02 315.29V317.19M543.39 315.29V317.19M545.33 315.29V317.19M546.96 315.29V317.19M548.38 315.29V317.19M549.63 315.29V317.19M558.11 315.29V317.19M562.42 315.29V317.19M565.47 315.29V317.19M567.84 315.29V317.19M569.78 315.29V317.19M571.41 315.29V317.19M572.83 315.29V317.19M574.08 315.29V317.19M582.56 315.29V317.19M586.87 315.29V317.19M589.92 315.29V317.19M592.29 315.29V317.19M594.23 315.29V317.19M595.86 315.29V317.19M597.28 315.29V317.19M598.53 315.29V317.19M607.01 315.29V317.19M611.32 315.29V317.19M614.37 315.29V317.19M616.74 315.29V317.19M618.68 315.29V317.19M620.31 315.29V317.19M621.73 315.29V317.19M622.98 315.29V317.19M631.46 315.29V317.19M635.77 315.29V317.19M638.82 315.29V317.19M641.19 315.29V317.19M643.13 315.29V317.19M644.76 315.29V317.19M646.18 315.29V317.19M647.43 315.29V317.19M655.91 315.29V317.19M660.22 315.29V317.19M663.27 315.29V317.19M665.64 315.29V317.19M667.58 315.29V317.19M669.21 315.29V317.19M670.63 315.29V317.19M671.88 315.29V317.19M475.4 327.8H477.4M475.4 325.3H477.4M475.4 322.8H477.4M475.4 320.29H477.4M475.4 317.79H477.4M475.4 315.29H477.4M475.4 312.79H477.4M475.4 310.29H477.4M475.4 307.79H477.4M475.4 305.28H477.4M475.4 302.78H477.4M475.4 300.28H477.4M475.4 297.78H477.4M475.4 295.28H477.4M475.4 292.77H477.4M475.4 290.27H477.4M475.4 287.77H477.4M475.4 285.27H477.4M475.4 282.77H477.4M475.4 280.27H477.4M475.4 277.76H477.4M475.4 275.26H477.4M475.4 272.76H477.4M475.4 270.26H477.4M475.4 267.76H477.4M475.4 265.25H477.4M475.4 262.75H477.4M475.4 260.25H477.4M475.4 257.75H477.4M475.4 255.25H477.4M475.4 252.75H477.4M475.4 250.24H477.4M475.4 247.74H477.4M475.4 245.24H477.4M475.4 242.74H477.4M475.4 240.24H477.4M475.4 237.73H477.4M475.4 235.23H477.4M475.4 232.73H477.4M475.4 230.23H477.4M475.4 227.73H477.4M475.4 225.23H477.4M475.4 222.72H477.4M475.4 220.22H477.4M475.4 217.72H477.4M475.4 215.22H477.4M475.4 212.72H477.4M475.4 210.21H477.4M475.4 207.71H477.4M475.4 205.21H477.4M475.4 202.71H477.4M475.4 200.21H477.4M475.4 197.71H477.4M475.4 195.2H477.4M475.4 192.7H477.4M475.4 190.2H477.4" stroke="#222" stroke-width="0.6" fill="none"/>
<text transform="translate(477.4 337.6) scale(0.065 0.0728)" text-anchor="middle">1E-02</text>
<text transform="translate(501.85 337.6) scale(0.065 0.0728)" text-anchor="middle">1E-01</text>
<text transform="translate(526.3 337.6) scale(0.065 0.0728)" text-anchor="middle">1E+00</text>
<text transform="translate(550.75 337.6) scale(0.065 0.0728)" text-anchor="middle">1E+01</text>
<text transform="translate(575.2 337.6) scale(0.065 0.0728)" text-anchor="middle">1E+02</text>
<text transform="translate(599.65 337.6) scale(0.065 0.0728)" text-anchor="middle">1E+03</text>
<text transform="translate(624.1 337.6) scale(0.065 0.0728)" text-anchor="middle">1E+04</text>
<text transform="translate(648.55 337.6) scale(0.065 0.0728)" text-anchor="middle">1E+05</text>
<text transform="translate(673 337.6) scale(0.065 0.0728)" text-anchor="middle">1E+06</text>
<text transform="translate(472 330.46) scale(0.065 0.0728)" text-anchor="end">10</text>
<text transform="translate(472 317.95) scale(0.065 0.0728)" text-anchor="end">0</text>
<text transform="translate(472 305.44) scale(0.065 0.0728)" text-anchor="end">-10</text>
<text transform="translate(472 292.93) scale(0.065 0.0728)" text-anchor="end">-20</text>
<text transform="translate(472 280.42) scale(0.065 0.0728)" text-anchor="end">-30</text>
<text transform="translate(472 267.91) scale(0.065 0.0728)" text-anchor="end">-40</text>
<text transform="translate(472 255.41) scale(0.065 0.0728)" text-anchor="end">-50</text>
<text transform="translate(472 242.9) scale(0.065 0.0728)" text-anchor="end">-60</text>
<text transform="translate(472 230.39) scale(0.065 0.0728)" text-anchor="end">-70</text>
<text transform="translate(472 217.88) scale(0.065 0.0728)" text-anchor="end">-80</text>
<text transform="translate(472 205.37) scale(0.065 0.0728)" text-anchor="end">-90</text>
<text transform="translate(472 192.86) scale(0.065 0.0728)" text-anchor="end">-100</text>
<polyline points="477.4,212.11 479.84,211.75 482.29,211.4 484.73,211.07 487.18,210.76 489.62,210.47 492.07,210.2 494.51,209.95 496.96,209.72 499.4,209.52 501.85,209.35 504.29,209.2 506.74,209.1 509.19,209.03 511.63,209.01 514.07,209.05 516.52,209.17 518.97,209.31 521.41,209.48 523.86,209.7 526.3,209.97 528.75,210.31 531.19,210.73 533.63,211.25 536.08,211.91 538.52,212.71 540.97,213.72 543.41,214.97 545.86,216.51 548.3,218.43 550.75,220.79 555.64,227.21 558.09,231.46 560.53,236.49 562.98,242.33 565.42,248.9 567.87,256.03 570.31,263.43 572.75,270.75 575.2,277.69 577.64,283.98 580.09,289.5 582.53,294.21 584.98,298.16 587.42,301.42 589.87,304.09 592.31,306.27 594.76,308.02 597.21,309.44 599.65,310.59 602.1,311.51 604.54,312.25 606.99,312.85 609.43,313.33 611.88,313.71 614.32,314.03 616.76,314.3 619.21,314.53 621.65,314.72 624.1,314.88 626.54,315.02 628.99,315.15 631.43,315.26 633.88,315.36 636.33,315.45 638.77,315.54 641.21,315.62 643.66,315.7 646.11,315.78 648.55,315.86" fill="none" stroke="#4a78a8" stroke-width="0.8"/>
<g fill="#000000"><path d="M475.55 212.11a1.85 1.85 0 1 0 3.7 0a1.85 1.85 0 1 0 -3.7 0z"/><path d="M477.99 211.75a1.85 1.85 0 1 0 3.7 0a1.85 1.85 0 1 0 -3.7 0z"/><path d="M480.44 211.4a1.85 1.85 0 1 0 3.7 0a1.85 1.85 0 1 0 -3.7 0z"/><path d="M482.88 211.07a1.85 1.85 0 1 0 3.7 0a1.85 1.85 0 1 0 -3.7 0z"/><path d="M485.33 210.76a1.85 1.85 0 1 0 3.7 0a1.85 1.85 0 1 0 -3.7 0z"/><path d="M487.77 210.47a1.85 1.85 0 1 0 3.7 0a1.85 1.85 0 1 0 -3.7 0z"/><path d="M490.22 210.2a1.85 1.85 0 1 0 3.7 0a1.85 1.85 0 1 0 -3.7 0z"/><path d="M492.66 209.95a1.85 1.85 0 1 0 3.7 0a1.85 1.85 0 1 0 -3.7 0z"/><path d="M495.11 209.72a1.85 1.85 0 1 0 3.7 0a1.85 1.85 0 1 0 -3.7 0z"/><path d="M497.55 209.52a1.85 1.85 0 1 0 3.7 0a1.85 1.85 0 1 0 -3.7 0z"/><path d="M500 209.35a1.85 1.85 0 1 0 3.7 0a1.85 1.85 0 1 0 -3.7 0z"/><path d="M502.44 209.2a1.85 1.85 0 1 0 3.7 0a1.85 1.85 0 1 0 -3.7 0z"/><path d="M504.89 209.1a1.85 1.85 0 1 0 3.7 0a1.85 1.85 0 1 0 -3.7 0z"/><path d="M507.33 209.03a1.85 1.85 0 1 0 3.7 0a1.85 1.85 0 1 0 -3.7 0z"/><path d="M509.78 209.01a1.85 1.85 0 1 0 3.7 0a1.85 1.85 0 1 0 -3.7 0z"/><path d="M512.22 209.05a1.85 1.85 0 1 0 3.7 0a1.85 1.85 0 1 0 -3.7 0z"/><path d="M514.67 209.17a1.85 1.85 0 1 0 3.7 0a1.85 1.85 0 1 0 -3.7 0z"/><path d="M517.11 209.31a1.85 1.85 0 1 0 3.7 0a1.85 1.85 0 1 0 -3.7 0z"/><path d="M519.56 209.48a1.85 1.85 0 1 0 3.7 0a1.85 1.85 0 1 0 -3.7 0z"/><path d="M522 209.7a1.85 1.85 0 1 0 3.7 0a1.85 1.85 0 1 0 -3.7 0z"/><path d="M524.45 209.97a1.85 1.85 0 1 0 3.7 0a1.85 1.85 0 1 0 -3.7 0z"/><path d="M526.89 210.31a1.85 1.85 0 1 0 3.7 0a1.85 1.85 0 1 0 -3.7 0z"/><path d="M529.34 210.73a1.85 1.85 0 1 0 3.7 0a1.85 1.85 0 1 0 -3.7 0z"/><path d="M531.78 211.25a1.85 1.85 0 1 0 3.7 0a1.85 1.85 0 1 0 -3.7 0z"/><path d="M534.23 211.91a1.85 1.85 0 1 0 3.7 0a1.85 1.85 0 1 0 -3.7 0z"/><path d="M536.67 212.71a1.85 1.85 0 1 0 3.7 0a1.85 1.85 0 1 0 -3.7 0z"/><path d="M539.12 213.72a1.85 1.85 0 1 0 3.7 0a1.85 1.85 0 1 0 -3.7 0z"/><path d="M541.56 214.97a1.85 1.85 0 1 0 3.7 0a1.85 1.85 0 1 0 -3.7 0z"/><path d="M544.01 216.51a1.85 1.85 0 1 0 3.7 0a1.85 1.85 0 1 0 -3.7 0z"/><path d="M546.45 218.43a1.85 1.85 0 1 0 3.7 0a1.85 1.85 0 1 0 -3.7 0z"/><path d="M548.9 220.79a1.85 1.85 0 1 0 3.7 0a1.85 1.85 0 1 0 -3.7 0z"/><path d="M553.79 227.21a1.85 1.85 0 1 0 3.7 0a1.85 1.85 0 1 0 -3.7 0z"/><path d="M556.23 231.46a1.85 1.85 0 1 0 3.7 0a1.85 1.85 0 1 0 -3.7 0z"/><path d="M558.68 236.49a1.85 1.85 0 1 0 3.7 0a1.85 1.85 0 1 0 -3.7 0z"/><path d="M561.12 242.33a1.85 1.85 0 1 0 3.7 0a1.85 1.85 0 1 0 -3.7 0z"/><path d="M563.57 248.9a1.85 1.85 0 1 0 3.7 0a1.85 1.85 0 1 0 -3.7 0z"/><path d="M566.01 256.03a1.85 1.85 0 1 0 3.7 0a1.85 1.85 0 1 0 -3.7 0z"/><path d="M568.46 263.43a1.85 1.85 0 1 0 3.7 0a1.85 1.85 0 1 0 -3.7 0z"/><path d="M570.9 270.75a1.85 1.85 0 1 0 3.7 0a1.85 1.85 0 1 0 -3.7 0z"/><path d="M573.35 277.69a1.85 1.85 0 1 0 3.7 0a1.85 1.85 0 1 0 -3.7 0z"/><path d="M575.79 283.98a1.85 1.85 0 1 0 3.7 0a1.85 1.85 0 1 0 -3.7 0z"/><path d="M578.24 289.5a1.85 1.85 0 1 0 3.7 0a1.85 1.85 0 1 0 -3.7 0z"/><path d="M580.68 294.21a1.85 1.85 0 1 0 3.7 0a1.85 1.85 0 1 0 -3.7 0z"/><path d="M583.13 298.16a1.85 1.85 0 1 0 3.7 0a1.85 1.85 0 1 0 -3.7 0z"/><path d="M585.57 301.42a1.85 1.85 0 1 0 3.7 0a1.85 1.85 0 1 0 -3.7 0z"/><path d="M588.02 304.09a1.85 1.85 0 1 0 3.7 0a1.85 1.85 0 1 0 -3.7 0z"/><path d="M590.46 306.27a1.85 1.85 0 1 0 3.7 0a1.85 1.85 0 1 0 -3.7 0z"/><path d="M592.91 308.02a1.85 1.85 0 1 0 3.7 0a1.85 1.85 0 1 0 -3.7 0z"/><path d="M595.35 309.44a1.85 1.85 0 1 0 3.7 0a1.85 1.85 0 1 0 -3.7 0z"/><path d="M597.8 310.59a1.85 1.85 0 1 0 3.7 0a1.85 1.85 0 1 0 -3.7 0z"/><path d="M600.24 311.51a1.85 1.85 0 1 0 3.7 0a1.85 1.85 0 1 0 -3.7 0z"/><path d="M602.69 312.25a1.85 1.85 0 1 0 3.7 0a1.85 1.85 0 1 0 -3.7 0z"/><path d="M605.13 312.85a1.85 1.85 0 1 0 3.7 0a1.85 1.85 0 1 0 -3.7 0z"/><path d="M607.58 313.33a1.85 1.85 0 1 0 3.7 0a1.85 1.85 0 1 0 -3.7 0z"/><path d="M610.02 313.71a1.85 1.85 0 1 0 3.7 0a1.85 1.85 0 1 0 -3.7 0z"/><path d="M612.47 314.03a1.85 1.85 0 1 0 3.7 0a1.85 1.85 0 1 0 -3.7 0z"/><path d="M614.91 314.3a1.85 1.85 0 1 0 3.7 0a1.85 1.85 0 1 0 -3.7 0z"/><path d="M617.36 314.53a1.85 1.85 0 1 0 3.7 0a1.85 1.85 0 1 0 -3.7 0z"/><path d="M619.8 314.72a1.85 1.85 0 1 0 3.7 0a1.85 1.85 0 1 0 -3.7 0z"/><path d="M622.25 314.88a1.85 1.85 0 1 0 3.7 0a1.85 1.85 0 1 0 -3.7 0z"/><path d="M624.69 315.02a1.85 1.85 0 1 0 3.7 0a1.85 1.85 0 1 0 -3.7 0z"/><path d="M627.14 315.15a1.85 1.85 0 1 0 3.7 0a1.85 1.85 0 1 0 -3.7 0z"/><path d="M629.58 315.26a1.85 1.85 0 1 0 3.7 0a1.85 1.85 0 1 0 -3.7 0z"/><path d="M632.03 315.36a1.85 1.85 0 1 0 3.7 0a1.85 1.85 0 1 0 -3.7 0z"/><path d="M634.47 315.45a1.85 1.85 0 1 0 3.7 0a1.85 1.85 0 1 0 -3.7 0z"/><path d="M636.92 315.54a1.85 1.85 0 1 0 3.7 0a1.85 1.85 0 1 0 -3.7 0z"/><path d="M639.36 315.62a1.85 1.85 0 1 0 3.7 0a1.85 1.85 0 1 0 -3.7 0z"/><path d="M641.81 315.7a1.85 1.85 0 1 0 3.7 0a1.85 1.85 0 1 0 -3.7 0z"/><path d="M644.25 315.78a1.85 1.85 0 1 0 3.7 0a1.85 1.85 0 1 0 -3.7 0z"/><path d="M646.7 315.86a1.85 1.85 0 1 0 3.7 0a1.85 1.85 0 1 0 -3.7 0z"/></g>
<polyline points="477.4,210.25 479.84,210.02 482.29,209.8 484.73,209.59 487.18,209.4 489.62,209.22 492.07,209.05 494.51,208.9 496.96,208.76 499.4,208.64 501.85,208.54 504.29,208.46 506.74,208.41 509.19,208.38 511.63,208.38 514.07,208.42 516.52,208.51 518.97,208.61 521.41,208.74 523.86,208.89 526.3,209.06 528.75,209.27 531.19,209.52 533.63,209.82 536.08,210.18 538.52,210.6 540.97,211.1 543.41,211.7 545.86,212.41 548.3,213.26 550.75,214.27 555.64,216.89 558.09,218.57 560.53,220.55 562.98,222.89 565.42,225.63 567.87,228.82 570.31,232.5 572.75,236.69 575.2,241.4 577.64,246.59 580.09,252.18 582.53,258.05 584.98,264.02 587.42,269.91 589.87,275.57 592.31,280.85 594.76,285.66 597.21,289.96 599.65,293.74 602.1,297.02 604.54,299.85 606.99,302.26 609.43,304.32 611.88,306.05 614.32,307.6 616.76,308.97 619.21,310.2 621.65,311.29 624.1,312.26 626.54,313.15 628.99,313.96 631.43,314.71 633.88,315.4 636.33,316.06 638.77,316.68 641.21,317.29 643.66,317.87 646.11,318.44 648.55,319" fill="none" stroke="#ff3030" stroke-width="0.8"/>
<g fill="#ff0000" stroke="#8a0000" stroke-width="0.6"><path d="M475.64 208.49h3.51v3.51h-3.51z"/><path d="M478.09 208.26h3.51v3.51h-3.51z"/><path d="M480.53 208.05h3.51v3.51h-3.51z"/><path d="M482.98 207.84h3.51v3.51h-3.51z"/><path d="M485.42 207.65h3.51v3.51h-3.51z"/><path d="M487.87 207.46h3.51v3.51h-3.51z"/><path d="M490.31 207.3h3.51v3.51h-3.51z"/><path d="M492.76 207.14h3.51v3.51h-3.51z"/><path d="M495.2 207.01h3.51v3.51h-3.51z"/><path d="M497.65 206.89h3.51v3.51h-3.51z"/><path d="M500.09 206.79h3.51v3.51h-3.51z"/><path d="M502.54 206.71h3.51v3.51h-3.51z"/><path d="M504.99 206.65h3.51v3.51h-3.51z"/><path d="M507.43 206.62h3.51v3.51h-3.51z"/><path d="M509.88 206.62h3.51v3.51h-3.51z"/><path d="M512.32 206.67h3.51v3.51h-3.51z"/><path d="M514.76 206.75h3.51v3.51h-3.51z"/><path d="M517.21 206.86h3.51v3.51h-3.51z"/><path d="M519.65 206.98h3.51v3.51h-3.51z"/><path d="M522.1 207.13h3.51v3.51h-3.51z"/><path d="M524.54 207.31h3.51v3.51h-3.51z"/><path d="M526.99 207.52h3.51v3.51h-3.51z"/><path d="M529.43 207.77h3.51v3.51h-3.51z"/><path d="M531.88 208.07h3.51v3.51h-3.51z"/><path d="M534.33 208.42h3.51v3.51h-3.51z"/><path d="M536.77 208.84h3.51v3.51h-3.51z"/><path d="M539.22 209.35h3.51v3.51h-3.51z"/><path d="M541.66 209.95h3.51v3.51h-3.51z"/><path d="M544.11 210.66h3.51v3.51h-3.51z"/><path d="M546.55 211.51h3.51v3.51h-3.51z"/><path d="M549 212.51h3.51v3.51h-3.51z"/><path d="M553.88 215.13h3.51v3.51h-3.51z"/><path d="M556.33 216.81h3.51v3.51h-3.51z"/><path d="M558.77 218.8h3.51v3.51h-3.51z"/><path d="M561.22 221.14h3.51v3.51h-3.51z"/><path d="M563.66 223.87h3.51v3.51h-3.51z"/><path d="M566.11 227.06h3.51v3.51h-3.51z"/><path d="M568.55 230.74h3.51v3.51h-3.51z"/><path d="M571 234.94h3.51v3.51h-3.51z"/><path d="M573.45 239.65h3.51v3.51h-3.51z"/><path d="M575.89 244.84h3.51v3.51h-3.51z"/><path d="M578.33 250.43h3.51v3.51h-3.51z"/><path d="M580.78 256.29h3.51v3.51h-3.51z"/><path d="M583.23 262.26h3.51v3.51h-3.51z"/><path d="M585.67 268.16h3.51v3.51h-3.51z"/><path d="M588.12 273.82h3.51v3.51h-3.51z"/><path d="M590.56 279.1h3.51v3.51h-3.51z"/><path d="M593 283.91h3.51v3.51h-3.51z"/><path d="M595.45 288.21h3.51v3.51h-3.51z"/><path d="M597.89 291.99h3.51v3.51h-3.51z"/><path d="M600.34 295.27h3.51v3.51h-3.51z"/><path d="M602.78 298.09h3.51v3.51h-3.51z"/><path d="M605.23 300.51h3.51v3.51h-3.51z"/><path d="M607.67 302.56h3.51v3.51h-3.51z"/><path d="M610.12 304.3h3.51v3.51h-3.51z"/><path d="M612.56 305.84h3.51v3.51h-3.51z"/><path d="M615.01 307.22h3.51v3.51h-3.51z"/><path d="M617.46 308.44h3.51v3.51h-3.51z"/><path d="M619.9 309.53h3.51v3.51h-3.51z"/><path d="M622.35 310.51h3.51v3.51h-3.51z"/><path d="M624.79 311.39h3.51v3.51h-3.51z"/><path d="M627.24 312.2h3.51v3.51h-3.51z"/><path d="M629.68 312.95h3.51v3.51h-3.51z"/><path d="M632.12 313.65h3.51v3.51h-3.51z"/><path d="M634.57 314.3h3.51v3.51h-3.51z"/><path d="M637.01 314.93h3.51v3.51h-3.51z"/><path d="M639.46 315.53h3.51v3.51h-3.51z"/><path d="M641.9 316.11h3.51v3.51h-3.51z"/><path d="M644.35 316.68h3.51v3.51h-3.51z"/><path d="M646.79 317.24h3.51v3.51h-3.51z"/></g>
<polyline points="477.4,209.62 479.84,209.36 482.29,209.11 484.73,208.88 487.18,208.66 489.62,208.46 492.07,208.27 494.51,208.1 496.96,207.94 499.4,207.8 501.85,207.68 504.29,207.59 506.74,207.51 509.19,207.47 511.63,207.46 514.07,207.5 516.52,207.58 518.97,207.68 521.41,207.8 523.86,207.95 526.3,208.12 528.75,208.33 531.19,208.58 533.63,208.88 536.08,209.24 538.52,209.68 540.97,210.2 543.41,210.83 545.86,211.59 548.3,212.5 550.75,213.59 555.64,216.45 558.09,218.31 560.53,220.53 562.98,223.16 565.42,226.26 567.87,229.88 570.31,234.07 572.75,238.84 575.2,244.16 577.64,249.97 580.09,256.13 582.53,262.46 584.98,268.74 587.42,274.78 589.87,280.41 592.31,285.52 594.76,290.05 597.21,294.01 599.65,297.42 602.1,300.32 604.54,302.78 606.99,304.85 609.43,306.59 611.88,308.04 614.32,309.36 616.76,310.57 619.21,311.67 621.65,312.67 624.1,313.6 626.54,314.46 628.99,315.28 631.43,316.06 633.88,316.81 636.33,317.54 638.77,318.26 641.21,318.97 643.66,319.67 646.11,320.38 648.55,321.09" fill="none" stroke="#e6a8b0" stroke-width="0.8"/>
<g fill="#fbe0e4" stroke="#bf4a58" stroke-width="0.8"><path d="M475.64 207.86h3.51v3.51h-3.51z"/><path d="M478.09 207.6h3.51v3.51h-3.51z"/><path d="M480.53 207.36h3.51v3.51h-3.51z"/><path d="M482.98 207.13h3.51v3.51h-3.51z"/><path d="M485.42 206.91h3.51v3.51h-3.51z"/><path d="M487.87 206.71h3.51v3.51h-3.51z"/><path d="M490.31 206.52h3.51v3.51h-3.51z"/><path d="M492.76 206.34h3.51v3.51h-3.51z"/><path d="M495.2 206.18h3.51v3.51h-3.51z"/><path d="M497.65 206.05h3.51v3.51h-3.51z"/><path d="M500.09 205.93h3.51v3.51h-3.51z"/><path d="M502.54 205.83h3.51v3.51h-3.51z"/><path d="M504.99 205.76h3.51v3.51h-3.51z"/><path d="M507.43 205.72h3.51v3.51h-3.51z"/><path d="M509.88 205.71h3.51v3.51h-3.51z"/><path d="M512.32 205.74h3.51v3.51h-3.51z"/><path d="M514.76 205.83h3.51v3.51h-3.51z"/><path d="M517.21 205.93h3.51v3.51h-3.51z"/><path d="M519.65 206.05h3.51v3.51h-3.51z"/><path d="M522.1 206.19h3.51v3.51h-3.51z"/><path d="M524.54 206.37h3.51v3.51h-3.51z"/><path d="M526.99 206.57h3.51v3.51h-3.51z"/><path d="M529.43 206.83h3.51v3.51h-3.51z"/><path d="M531.88 207.13h3.51v3.51h-3.51z"/><path d="M534.33 207.49h3.51v3.51h-3.51z"/><path d="M536.77 207.93h3.51v3.51h-3.51z"/><path d="M539.22 208.45h3.51v3.51h-3.51z"/><path d="M541.66 209.08h3.51v3.51h-3.51z"/><path d="M544.11 209.84h3.51v3.51h-3.51z"/><path d="M546.55 210.74h3.51v3.51h-3.51z"/><path d="M549 211.83h3.51v3.51h-3.51z"/><path d="M553.88 214.7h3.51v3.51h-3.51z"/><path d="M556.33 216.56h3.51v3.51h-3.51z"/><path d="M558.77 218.78h3.51v3.51h-3.51z"/><path d="M561.22 221.41h3.51v3.51h-3.51z"/><path d="M563.66 224.51h3.51v3.51h-3.51z"/><path d="M566.11 228.13h3.51v3.51h-3.51z"/><path d="M568.55 232.31h3.51v3.51h-3.51z"/><path d="M571 237.08h3.51v3.51h-3.51z"/><path d="M573.45 242.41h3.51v3.51h-3.51z"/><path d="M575.89 248.22h3.51v3.51h-3.51z"/><path d="M578.33 254.38h3.51v3.51h-3.51z"/><path d="M580.78 260.7h3.51v3.51h-3.51z"/><path d="M583.23 266.99h3.51v3.51h-3.51z"/><path d="M585.67 273.02h3.51v3.51h-3.51z"/><path d="M588.12 278.65h3.51v3.51h-3.51z"/><path d="M590.56 283.76h3.51v3.51h-3.51z"/><path d="M593 288.3h3.51v3.51h-3.51z"/><path d="M595.45 292.26h3.51v3.51h-3.51z"/><path d="M597.89 295.66h3.51v3.51h-3.51z"/><path d="M600.34 298.57h3.51v3.51h-3.51z"/><path d="M602.78 301.02h3.51v3.51h-3.51z"/><path d="M605.23 303.09h3.51v3.51h-3.51z"/><path d="M607.67 304.83h3.51v3.51h-3.51z"/><path d="M610.12 306.28h3.51v3.51h-3.51z"/><path d="M612.56 307.6h3.51v3.51h-3.51z"/><path d="M615.01 308.81h3.51v3.51h-3.51z"/><path d="M617.46 309.91h3.51v3.51h-3.51z"/><path d="M619.9 310.92h3.51v3.51h-3.51z"/><path d="M622.35 311.84h3.51v3.51h-3.51z"/><path d="M624.79 312.71h3.51v3.51h-3.51z"/><path d="M627.24 313.53h3.51v3.51h-3.51z"/><path d="M629.68 314.3h3.51v3.51h-3.51z"/><path d="M632.12 315.06h3.51v3.51h-3.51z"/><path d="M634.57 315.79h3.51v3.51h-3.51z"/><path d="M637.01 316.5h3.51v3.51h-3.51z"/><path d="M639.46 317.21h3.51v3.51h-3.51z"/><path d="M641.9 317.92h3.51v3.51h-3.51z"/><path d="M644.35 318.62h3.51v3.51h-3.51z"/><path d="M646.79 319.33h3.51v3.51h-3.51z"/></g>
<polyline points="477.4,211.48 479.84,211.16 482.29,210.85 484.73,210.55 487.18,210.28 489.62,210.01 492.07,209.77 494.51,209.54 496.96,209.34 499.4,209.15 501.85,208.99 504.29,208.85 506.74,208.75 509.19,208.67 511.63,208.63 514.07,208.65 516.52,208.72 518.97,208.8 521.41,208.91 523.86,209.04 526.3,209.19 528.75,209.39 531.19,209.62 533.63,209.91 536.08,210.26 538.52,210.69 540.97,211.22 543.41,211.87 545.86,212.66 548.3,213.63 550.75,214.81 555.64,218.01 558.09,220.14 560.53,222.72 562.98,225.82 565.42,229.52 567.87,233.88 570.31,238.93 572.75,244.66 575.2,250.97 577.64,257.69 580.09,264.57 582.53,271.35 584.98,277.75 587.42,283.61 589.87,288.8 592.31,293.29 594.76,297.12 597.21,300.34 599.65,303.01 602.1,305.23 604.54,307.05 606.99,308.55 609.43,309.78 611.88,310.79 614.32,311.65 616.76,312.38 619.21,313.01 621.65,313.55 624.1,314.02 626.54,314.43 628.99,314.8 631.43,315.13 633.88,315.44 636.33,315.72 638.77,315.98 641.21,316.24 643.66,316.48 646.11,316.72 648.55,316.95" fill="none" stroke="#5cb87c" stroke-width="1.3"/>
<g fill="#36d85a" stroke="#17521f" stroke-width="0.5"><path d="M477.4 209.53l1.95 3.61h-3.9z"/><path d="M479.84 209.21l1.95 3.61h-3.9z"/><path d="M482.29 208.9l1.95 3.61h-3.9z"/><path d="M484.73 208.6l1.95 3.61h-3.9z"/><path d="M487.18 208.33l1.95 3.61h-3.9z"/><path d="M489.62 208.06l1.95 3.61h-3.9z"/><path d="M492.07 207.82l1.95 3.61h-3.9z"/><path d="M494.51 207.59l1.95 3.61h-3.9z"/><path d="M496.96 207.39l1.95 3.61h-3.9z"/><path d="M499.4 207.2l1.95 3.61h-3.9z"/><path d="M501.85 207.04l1.95 3.61h-3.9z"/><path d="M504.29 206.9l1.95 3.61h-3.9z"/><path d="M506.74 206.8l1.95 3.61h-3.9z"/><path d="M509.19 206.72l1.95 3.61h-3.9z"/><path d="M511.63 206.68l1.95 3.61h-3.9z"/><path d="M514.07 206.7l1.95 3.61h-3.9z"/><path d="M516.52 206.77l1.95 3.61h-3.9z"/><path d="M518.97 206.85l1.95 3.61h-3.9z"/><path d="M521.41 206.96l1.95 3.61h-3.9z"/><path d="M523.86 207.09l1.95 3.61h-3.9z"/><path d="M526.3 207.24l1.95 3.61h-3.9z"/><path d="M528.75 207.44l1.95 3.61h-3.9z"/><path d="M531.19 207.67l1.95 3.61h-3.9z"/><path d="M533.63 207.96l1.95 3.61h-3.9z"/><path d="M536.08 208.31l1.95 3.61h-3.9z"/><path d="M538.52 208.74l1.95 3.61h-3.9z"/><path d="M540.97 209.27l1.95 3.61h-3.9z"/><path d="M543.41 209.92l1.95 3.61h-3.9z"/><path d="M545.86 210.71l1.95 3.61h-3.9z"/><path d="M548.3 211.68l1.95 3.61h-3.9z"/><path d="M550.75 212.86l1.95 3.61h-3.9z"/><path d="M555.64 216.06l1.95 3.61h-3.9z"/><path d="M558.09 218.19l1.95 3.61h-3.9z"/><path d="M560.53 220.77l1.95 3.61h-3.9z"/><path d="M562.98 223.87l1.95 3.61h-3.9z"/><path d="M565.42 227.57l1.95 3.61h-3.9z"/><path d="M567.87 231.93l1.95 3.61h-3.9z"/><path d="M570.31 236.98l1.95 3.61h-3.9z"/><path d="M572.75 242.71l1.95 3.61h-3.9z"/><path d="M575.2 249.02l1.95 3.61h-3.9z"/><path d="M577.64 255.74l1.95 3.61h-3.9z"/><path d="M580.09 262.62l1.95 3.61h-3.9z"/><path d="M582.53 269.4l1.95 3.61h-3.9z"/><path d="M584.98 275.8l1.95 3.61h-3.9z"/><path d="M587.42 281.66l1.95 3.61h-3.9z"/><path d="M589.87 286.85l1.95 3.61h-3.9z"/><path d="M592.31 291.34l1.95 3.61h-3.9z"/><path d="M594.76 295.17l1.95 3.61h-3.9z"/><path d="M597.21 298.39l1.95 3.61h-3.9z"/><path d="M599.65 301.06l1.95 3.61h-3.9z"/><path d="M602.1 303.28l1.95 3.61h-3.9z"/><path d="M604.54 305.1l1.95 3.61h-3.9z"/><path d="M606.99 306.6l1.95 3.61h-3.9z"/><path d="M609.43 307.83l1.95 3.61h-3.9z"/><path d="M611.88 308.84l1.95 3.61h-3.9z"/><path d="M614.32 309.7l1.95 3.61h-3.9z"/><path d="M616.76 310.43l1.95 3.61h-3.9z"/><path d="M619.21 311.06l1.95 3.61h-3.9z"/><path d="M621.65 311.6l1.95 3.61h-3.9z"/><path d="M624.1 312.07l1.95 3.61h-3.9z"/><path d="M626.54 312.48l1.95 3.61h-3.9z"/><path d="M628.99 312.85l1.95 3.61h-3.9z"/><path d="M631.43 313.18l1.95 3.61h-3.9z"/><path d="M633.88 313.49l1.95 3.61h-3.9z"/><path d="M636.33 313.77l1.95 3.61h-3.9z"/><path d="M638.77 314.03l1.95 3.61h-3.9z"/><path d="M641.21 314.29l1.95 3.61h-3.9z"/><path d="M643.66 314.53l1.95 3.61h-3.9z"/><path d="M646.11 314.77l1.95 3.61h-3.9z"/><path d="M648.55 315l1.95 3.61h-3.9z"/></g>
<polyline points="477.4,212.35 479.84,211.97 482.29,211.59 484.73,211.24 487.18,210.9 489.62,210.59 492.07,210.29 494.51,210.02 496.96,209.77 499.4,209.54 501.85,209.34 504.29,209.17 506.74,209.03 509.19,208.93 511.63,208.87 514.07,208.87 516.52,208.94 518.97,209.02 521.41,209.11 523.86,209.23 526.3,209.38 528.75,209.55 531.19,209.77 533.63,210.03 536.08,210.36 538.52,210.76 540.97,211.24 543.41,211.84 545.86,212.57 548.3,213.46 550.75,214.54 555.64,217.49 558.09,219.46 560.53,221.85 562.98,224.72 565.42,228.17 567.87,232.25 570.31,237.01 572.75,242.46 575.2,248.54 577.64,255.1 580.09,261.94 582.53,268.78 584.98,275.34 587.42,281.42 589.87,286.87 592.31,291.63 594.76,295.71 597.21,299.16 599.65,302.03 602.1,304.42 604.54,306.39 606.99,308.01 609.43,309.34 611.88,310.42 614.32,311.34 616.76,312.12 619.21,312.77 621.65,313.33 624.1,313.81 626.54,314.23 628.99,314.59 631.43,314.91 633.88,315.2 636.33,315.47 638.77,315.71 641.21,315.94 643.66,316.15 646.11,316.36 648.55,316.56" fill="none" stroke="#8ccdf0" stroke-width="1.4"/>
<g fill="#4cb1f2" stroke="#2a5fb0" stroke-width="0.6"><path d="M477.4 209.98l2.38 2.38l-2.38 2.38l-2.38 -2.38z"/><path d="M479.84 209.59l2.38 2.38l-2.38 2.38l-2.38 -2.38z"/><path d="M482.29 209.21l2.38 2.38l-2.38 2.38l-2.38 -2.38z"/><path d="M484.73 208.86l2.38 2.38l-2.38 2.38l-2.38 -2.38z"/><path d="M487.18 208.52l2.38 2.38l-2.38 2.38l-2.38 -2.38z"/><path d="M489.62 208.21l2.38 2.38l-2.38 2.38l-2.38 -2.38z"/><path d="M492.07 207.91l2.38 2.38l-2.38 2.38l-2.38 -2.38z"/><path d="M494.51 207.64l2.38 2.38l-2.38 2.38l-2.38 -2.38z"/><path d="M496.96 207.39l2.38 2.38l-2.38 2.38l-2.38 -2.38z"/><path d="M499.4 207.16l2.38 2.38l-2.38 2.38l-2.38 -2.38z"/><path d="M501.85 206.96l2.38 2.38l-2.38 2.38l-2.38 -2.38z"/><path d="M504.29 206.79l2.38 2.38l-2.38 2.38l-2.38 -2.38z"/><path d="M506.74 206.65l2.38 2.38l-2.38 2.38l-2.38 -2.38z"/><path d="M509.19 206.55l2.38 2.38l-2.38 2.38l-2.38 -2.38z"/><path d="M511.63 206.49l2.38 2.38l-2.38 2.38l-2.38 -2.38z"/><path d="M514.07 206.5l2.38 2.38l-2.38 2.38l-2.38 -2.38z"/><path d="M516.52 206.56l2.38 2.38l-2.38 2.38l-2.38 -2.38z"/><path d="M518.97 206.64l2.38 2.38l-2.38 2.38l-2.38 -2.38z"/><path d="M521.41 206.73l2.38 2.38l-2.38 2.38l-2.38 -2.38z"/><path d="M523.86 206.85l2.38 2.38l-2.38 2.38l-2.38 -2.38z"/><path d="M526.3 207l2.38 2.38l-2.38 2.38l-2.38 -2.38z"/><path d="M528.75 207.17l2.38 2.38l-2.38 2.38l-2.38 -2.38z"/><path d="M531.19 207.39l2.38 2.38l-2.38 2.38l-2.38 -2.38z"/><path d="M533.63 207.65l2.38 2.38l-2.38 2.38l-2.38 -2.38z"/><path d="M536.08 207.98l2.38 2.38l-2.38 2.38l-2.38 -2.38z"/><path d="M538.52 208.38l2.38 2.38l-2.38 2.38l-2.38 -2.38z"/><path d="M540.97 208.86l2.38 2.38l-2.38 2.38l-2.38 -2.38z"/><path d="M543.41 209.46l2.38 2.38l-2.38 2.38l-2.38 -2.38z"/><path d="M545.86 210.19l2.38 2.38l-2.38 2.38l-2.38 -2.38z"/><path d="M548.3 211.08l2.38 2.38l-2.38 2.38l-2.38 -2.38z"/><path d="M550.75 212.17l2.38 2.38l-2.38 2.38l-2.38 -2.38z"/><path d="M555.64 215.11l2.38 2.38l-2.38 2.38l-2.38 -2.38z"/><path d="M558.09 217.08l2.38 2.38l-2.38 2.38l-2.38 -2.38z"/><path d="M560.53 219.47l2.38 2.38l-2.38 2.38l-2.38 -2.38z"/><path d="M562.98 222.34l2.38 2.38l-2.38 2.38l-2.38 -2.38z"/><path d="M565.42 225.79l2.38 2.38l-2.38 2.38l-2.38 -2.38z"/><path d="M567.87 229.87l2.38 2.38l-2.38 2.38l-2.38 -2.38z"/><path d="M570.31 234.63l2.38 2.38l-2.38 2.38l-2.38 -2.38z"/><path d="M572.75 240.08l2.38 2.38l-2.38 2.38l-2.38 -2.38z"/><path d="M575.2 246.16l2.38 2.38l-2.38 2.38l-2.38 -2.38z"/><path d="M577.64 252.73l2.38 2.38l-2.38 2.38l-2.38 -2.38z"/><path d="M580.09 259.56l2.38 2.38l-2.38 2.38l-2.38 -2.38z"/><path d="M582.53 266.4l2.38 2.38l-2.38 2.38l-2.38 -2.38z"/><path d="M584.98 272.96l2.38 2.38l-2.38 2.38l-2.38 -2.38z"/><path d="M587.42 279.04l2.38 2.38l-2.38 2.38l-2.38 -2.38z"/><path d="M589.87 284.49l2.38 2.38l-2.38 2.38l-2.38 -2.38z"/><path d="M592.31 289.25l2.38 2.38l-2.38 2.38l-2.38 -2.38z"/><path d="M594.76 293.33l2.38 2.38l-2.38 2.38l-2.38 -2.38z"/><path d="M597.21 296.78l2.38 2.38l-2.38 2.38l-2.38 -2.38z"/><path d="M599.65 299.65l2.38 2.38l-2.38 2.38l-2.38 -2.38z"/><path d="M602.1 302.04l2.38 2.38l-2.38 2.38l-2.38 -2.38z"/><path d="M604.54 304.01l2.38 2.38l-2.38 2.38l-2.38 -2.38z"/><path d="M606.99 305.63l2.38 2.38l-2.38 2.38l-2.38 -2.38z"/><path d="M609.43 306.96l2.38 2.38l-2.38 2.38l-2.38 -2.38z"/><path d="M611.88 308.04l2.38 2.38l-2.38 2.38l-2.38 -2.38z"/><path d="M614.32 308.96l2.38 2.38l-2.38 2.38l-2.38 -2.38z"/><path d="M616.76 309.74l2.38 2.38l-2.38 2.38l-2.38 -2.38z"/><path d="M619.21 310.39l2.38 2.38l-2.38 2.38l-2.38 -2.38z"/><path d="M621.65 310.95l2.38 2.38l-2.38 2.38l-2.38 -2.38z"/><path d="M624.1 311.43l2.38 2.38l-2.38 2.38l-2.38 -2.38z"/><path d="M626.54 311.85l2.38 2.38l-2.38 2.38l-2.38 -2.38z"/><path d="M628.99 312.21l2.38 2.38l-2.38 2.38l-2.38 -2.38z"/><path d="M631.43 312.53l2.38 2.38l-2.38 2.38l-2.38 -2.38z"/><path d="M633.88 312.82l2.38 2.38l-2.38 2.38l-2.38 -2.38z"/><path d="M636.33 313.09l2.38 2.38l-2.38 2.38l-2.38 -2.38z"/><path d="M638.77 313.33l2.38 2.38l-2.38 2.38l-2.38 -2.38z"/><path d="M641.21 313.56l2.38 2.38l-2.38 2.38l-2.38 -2.38z"/><path d="M643.66 313.77l2.38 2.38l-2.38 2.38l-2.38 -2.38z"/><path d="M646.11 313.98l2.38 2.38l-2.38 2.38l-2.38 -2.38z"/><path d="M648.55 314.18l2.38 2.38l-2.38 2.38l-2.38 -2.38z"/></g>
<path d="M629.6 196.4H640.4" stroke="#4a78a8" stroke-width="0.9"/>
<path d="M633.18 196.4a1.61 1.61 0 1 0 3.23 0a1.61 1.61 0 1 0 -3.23 0z" fill="#000000"/>
<text transform="translate(641.3 198.82) scale(0.067 0.0737)">2 Weeks</text>
<path d="M629.6 206.5H640.4" stroke="#ff3030" stroke-width="0.9"/>
<path d="M633.27 204.97h3.06v3.06h-3.06z" fill="#ff0000" stroke="#8a0000" stroke-width="0.6"/>
<text transform="translate(641.3 208.92) scale(0.067 0.0737)">4 Weeks</text>
<path d="M629.6 217.1H640.4" stroke="#e6a8b0" stroke-width="0.9"/>
<path d="M633.27 215.57h3.06v3.06h-3.06z" fill="#fbe0e4" stroke="#bf4a58" stroke-width="0.8"/>
<text transform="translate(641.3 219.52) scale(0.067 0.0737)">8 Weeks</text>
<path d="M629.6 227.2H640.4" stroke="#5cb87c" stroke-width="1.4"/>
<path d="M634.8 225.5l1.7 3.15h-3.4z" fill="#36d85a" stroke="#17521f" stroke-width="0.5"/>
<text transform="translate(641.3 229.62) scale(0.067 0.0737)">12 Weeks</text>
<path d="M629.6 237.8H640.4" stroke="#8ccdf0" stroke-width="1.5"/>
<path d="M634.8 235.73l2.07 2.07l-2.07 2.07l-2.07 -2.07z" fill="#4cb1f2" stroke="#2a5fb0" stroke-width="0.6"/>
<text transform="translate(641.3 240.22) scale(0.067 0.0737)">16 Weeks</text>
<text transform="translate(572.2 345.6) scale(0.075 0.075)" text-anchor="middle">Log (Freq/Hz)</text>
<text transform="translate(461.2 257.7) rotate(-90) scale(0.072 0.072)" text-anchor="middle">Phase Angle (Φ)</text>
<text stroke="#111" stroke-width="2.5" transform="translate(454.6 184.6) scale(0.095 0.1045)">(F)</text>
</svg>
</body>
</html>
